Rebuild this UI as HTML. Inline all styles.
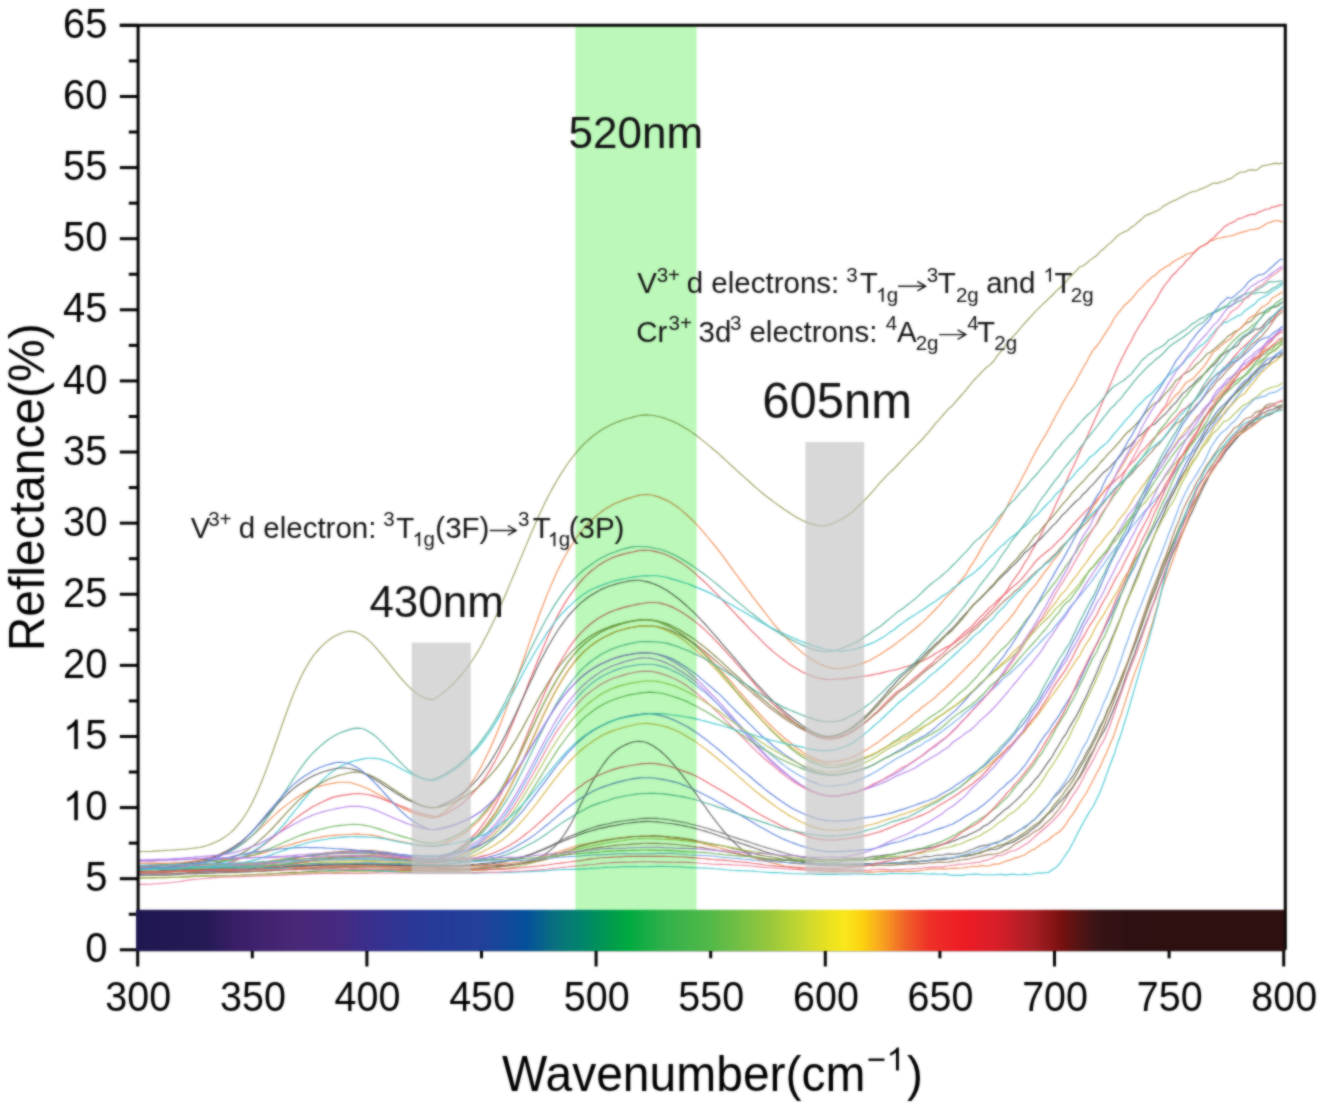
<!DOCTYPE html>
<html><head><meta charset="utf-8"><style>
html,body{margin:0;padding:0;background:#fff;}
svg{display:block;} #wrap{width:1323px;height:1109px;overflow:hidden;will-change:transform;}
</style></head><body><div id="wrap">
<svg width="1323" height="1109" viewBox="0 0 1323 1109">
<defs><filter id="gblur" x="0" y="0" width="100%" height="100%" color-interpolation-filters="sRGB"><feGaussianBlur in="SourceGraphic" stdDeviation="0.8" result="b"/><feComposite in="SourceGraphic" in2="b" operator="arithmetic" k1="0" k2="0.30" k3="0.70" k4="0"/></filter></defs>
<rect width="1323" height="1109" fill="#fff"/>
<g filter="url(#gblur)">
<rect width="1323" height="1109" fill="#fff"/>
<defs><filter id="soft" x="-5%" y="-5%" width="110%" height="110%"><feGaussianBlur stdDeviation="0.3"/></filter></defs>
<g fill="none" stroke-width="1.15" stroke-opacity="0.95" stroke-linejoin="round" filter="url(#soft)">
<polyline stroke="#9a9a58" points="137.7,851.5 141.1,851.5 144.6,851.5 148.0,851.5 151.5,851.4 154.9,851.1 158.3,850.9 161.8,850.8 165.2,850.4 168.6,850.2 172.1,850.1 175.5,849.9 179.0,849.5 182.4,849.2 185.8,849.1 189.3,848.7 192.7,848.3 196.1,847.9 199.6,847.5 203.0,846.6 206.5,845.8 209.9,844.5 213.3,843.1 216.8,841.5 220.2,839.9 223.6,837.8 227.1,835.4 230.5,832.6 234.0,829.5 237.4,825.6 240.8,821.4 244.3,816.5 247.7,811.0 251.2,804.7 254.6,797.8 258.0,790.2 261.5,782.0 264.9,773.4 268.3,764.1 271.8,754.5 275.2,744.8 278.7,734.8 282.1,724.7 285.5,715.2 289.0,705.7 292.4,696.7 295.8,688.4 299.3,680.6 302.7,673.4 306.2,667.2 309.6,661.4 313.0,656.2 316.5,652.0 319.9,648.1 323.4,644.6 326.8,641.6 330.2,639.0 333.7,636.8 337.1,635.0 340.5,633.5 344.0,632.2 347.4,631.5 350.9,631.4 354.3,631.9 357.7,633.0 361.2,634.7 364.6,637.0 368.0,639.7 371.5,642.9 374.9,646.7 378.4,650.7 381.8,654.6 385.2,658.7 388.7,663.1 392.1,667.3 395.5,671.6 399.0,675.8 402.4,679.8 405.9,683.7 409.3,687.2 412.7,690.3 416.2,693.0 419.6,695.4 423.1,697.3 426.5,698.6 429.9,699.5 433.4,699.6 436.8,697.4 440.2,694.9 443.7,692.2 447.1,689.4 450.6,686.3 454.0,683.0 457.4,679.2 460.9,675.5 464.3,671.1 467.7,666.8 471.2,662.0 474.6,656.8 478.1,651.2 481.5,645.2 484.9,638.6 488.4,631.9 491.8,625.0 495.3,617.7 498.7,610.1 502.1,602.6 505.6,594.6 509.0,586.4 512.4,578.1 515.9,569.9 519.3,561.6 522.8,553.2 526.2,545.1 529.6,537.0 533.1,528.9 536.5,521.0 539.9,513.4 543.4,506.0 546.8,499.1 550.3,492.3 553.7,486.1 557.1,480.2 560.6,474.4 564.0,469.2 567.4,464.0 570.9,459.3 574.3,454.8 577.8,450.8 581.2,446.8 584.6,443.4 588.1,440.2 591.5,437.3 595.0,434.4 598.4,432.0 601.8,429.8 605.3,427.7 608.7,426.0 612.1,424.3 615.6,422.8 619.0,421.4 622.5,420.2 625.9,419.0 629.3,418.2 632.8,417.1 636.2,416.3 639.6,415.5 643.1,415.1 646.5,414.9 650.0,415.2 653.4,415.5 656.8,416.2 660.3,417.0 663.7,417.9 667.2,419.2 670.6,420.5 674.0,421.9 677.5,423.6 680.9,425.5 684.3,427.4 687.8,429.4 691.2,431.9 694.7,434.3 698.1,436.8 701.5,439.6 705.0,442.4 708.4,445.1 711.8,448.0 715.3,451.0 718.7,453.8 722.2,457.0 725.6,460.1 729.0,463.3 732.5,466.5 735.9,469.6 739.3,472.8 742.8,475.9 746.2,478.9 749.7,482.0 753.1,485.2 756.5,488.1 760.0,491.1 763.4,494.0 766.9,496.7 770.3,499.3 773.7,501.9 777.2,504.4 780.6,506.8 784.0,509.2 787.5,511.5 790.9,513.8 794.4,516.0 797.8,518.0 801.2,519.7 804.7,521.4 808.1,522.9 811.5,524.1 815.0,524.9 818.4,525.7 821.9,525.8 825.3,525.7 828.7,524.9 832.2,523.8 835.6,522.1 839.1,520.5 842.5,518.7 845.9,516.5 849.4,514.2 852.8,511.6 856.2,508.3 859.7,505.0 863.1,501.9 866.6,498.1 870.0,494.3 873.4,490.7 876.9,486.5 880.3,482.4 883.7,478.9 887.2,475.2 890.6,471.8 894.1,468.7 897.5,465.0 900.9,461.3 904.4,457.7 907.8,454.1 911.2,450.3 914.7,447.1 918.1,443.6 921.6,440.0 925.0,436.2 928.4,432.3 931.9,428.2 935.3,423.6 938.8,420.2 942.2,416.0 945.6,412.2 949.1,408.4 952.5,405.5 955.9,401.4 959.4,397.5 962.8,393.6 966.3,389.7 969.7,385.4 973.1,381.0 976.6,377.3 980.0,374.0 983.4,370.4 986.9,367.0 990.3,364.6 993.8,361.0 997.2,355.9 1000.6,351.8 1004.1,347.6 1007.5,342.9 1011.0,338.5 1014.4,335.1 1017.8,331.4 1021.3,327.2 1024.7,323.1 1028.1,319.5 1031.6,315.6 1035.0,311.9 1038.5,308.7 1041.9,304.9 1045.3,302.0 1048.8,298.3 1052.2,295.5 1055.6,291.7 1059.1,288.5 1062.5,285.5 1066.0,281.9 1069.4,277.3 1072.8,274.3 1076.3,270.7 1079.7,266.8 1083.1,265.8 1086.6,263.3 1090.0,260.1 1093.5,257.6 1096.9,255.4 1100.3,251.4 1103.8,248.8 1107.2,245.4 1110.7,242.6 1114.1,239.4 1117.5,235.8 1121.0,233.4 1124.4,231.8 1127.8,230.5 1131.3,227.2 1134.7,225.2 1138.2,222.0 1141.6,219.2 1145.0,215.8 1148.5,214.4 1151.9,213.0 1155.3,211.6 1158.8,209.9 1162.2,207.1 1165.7,204.9 1169.1,202.9 1172.5,201.3 1176.0,199.9 1179.4,198.0 1182.9,196.3 1186.3,194.6 1189.7,192.8 1193.2,191.5 1196.6,191.0 1200.0,189.2 1203.5,188.1 1206.9,186.5 1210.4,184.5 1213.8,183.0 1217.2,183.4 1220.7,182.0 1224.1,181.2 1227.5,179.2 1231.0,178.6 1234.4,175.9 1237.9,173.5 1241.3,172.0 1244.7,172.0 1248.2,170.2 1251.6,169.6 1255.0,170.5 1258.5,168.9 1261.9,166.0 1265.4,165.4 1268.8,164.7 1272.2,163.9 1275.7,163.1 1279.1,163.9 1282.6,162.9"/>
<polyline stroke="#f08a50" points="137.7,865.7 141.1,865.7 144.6,865.5 148.0,865.2 151.5,864.9 154.9,864.8 158.3,864.4 161.8,864.3 165.2,864.2 168.6,864.1 172.1,863.8 175.5,863.5 179.0,863.0 182.4,862.7 185.8,862.2 189.3,861.7 192.7,861.3 196.1,860.8 199.6,860.1 203.0,859.2 206.5,858.4 209.9,857.6 213.3,856.6 216.8,855.6 220.2,854.4 223.6,852.9 227.1,851.3 230.5,849.7 234.0,848.0 237.4,846.0 240.8,844.2 244.3,842.0 247.7,839.3 251.2,836.4 254.6,833.6 258.0,830.6 261.5,827.4 264.9,824.3 268.3,821.1 271.8,817.7 275.2,814.4 278.7,811.3 282.1,808.4 285.5,805.6 289.0,803.1 292.4,800.6 295.8,798.2 299.3,796.0 302.7,793.9 306.2,791.9 309.6,790.1 313.0,788.7 316.5,787.2 319.9,786.1 323.4,785.2 326.8,784.4 330.2,783.7 333.7,783.1 337.1,782.5 340.5,782.2 344.0,782.2 347.4,782.3 350.9,782.8 354.3,783.8 357.7,784.8 361.2,786.0 364.6,787.5 368.0,788.8 371.5,790.5 374.9,792.4 378.4,794.5 381.8,796.3 385.2,798.4 388.7,800.6 392.1,802.4 395.5,804.3 399.0,806.2 402.4,808.1 405.9,809.6 409.3,811.4 412.7,812.7 416.2,814.1 419.6,815.0 423.1,816.0 426.5,816.5 429.9,817.4 433.4,817.6 436.8,817.1 440.2,815.0 443.7,812.6 447.1,809.8 450.6,807.0 454.0,804.0 457.4,800.5 460.9,796.8 464.3,792.7 467.7,788.2 471.2,783.2 474.6,778.0 478.1,772.3 481.5,766.1 484.9,759.3 488.4,752.3 491.8,744.7 495.3,736.7 498.7,728.5 502.1,719.8 505.6,710.6 509.0,701.1 512.4,691.5 515.9,681.6 519.3,671.8 522.8,661.8 526.2,651.9 529.6,641.9 533.1,632.1 536.5,622.5 539.9,613.2 543.4,604.2 546.8,595.4 550.3,587.1 553.7,579.2 557.1,571.6 560.6,564.7 564.0,558.0 567.4,552.0 570.9,546.3 574.3,541.0 577.8,535.8 581.2,531.5 584.6,527.3 588.1,523.5 591.5,520.1 595.0,517.0 598.4,514.1 601.8,511.5 605.3,509.0 608.7,506.9 612.1,505.0 615.6,503.3 619.0,501.8 622.5,500.6 625.9,499.1 629.3,498.1 632.8,497.0 636.2,496.0 639.6,495.1 643.1,494.8 646.5,494.5 650.0,494.8 653.4,495.5 656.8,496.4 660.3,497.6 663.7,499.1 667.2,500.6 670.6,502.5 674.0,504.7 677.5,507.0 680.9,509.6 684.3,512.8 687.8,515.8 691.2,519.0 694.7,522.4 698.1,526.2 701.5,529.8 705.0,533.9 708.4,538.0 711.8,542.1 715.3,546.3 718.7,550.7 722.2,555.2 725.6,559.8 729.0,564.6 732.5,569.3 735.9,574.0 739.3,578.7 742.8,583.3 746.2,588.0 749.7,592.7 753.1,597.3 756.5,601.7 760.0,606.1 763.4,610.7 766.9,615.0 770.3,619.5 773.7,623.9 777.2,627.9 780.6,631.8 784.0,635.5 787.5,639.0 790.9,642.4 794.4,645.6 797.8,648.6 801.2,651.7 804.7,654.4 808.1,657.0 811.5,659.3 815.0,661.4 818.4,663.3 821.9,664.9 825.3,666.3 828.7,667.4 832.2,668.1 835.6,668.6 839.1,668.7 842.5,668.2 845.9,667.7 849.4,667.1 852.8,666.1 856.2,665.3 859.7,664.3 863.1,663.1 866.6,661.6 870.0,660.2 873.4,658.3 876.9,656.3 880.3,654.2 883.7,652.1 887.2,649.5 890.6,647.5 894.1,645.0 897.5,642.4 900.9,639.7 904.4,637.1 907.8,634.4 911.2,631.8 914.7,629.0 918.1,626.0 921.6,623.1 925.0,620.1 928.4,616.7 931.9,613.1 935.3,609.5 938.8,605.8 942.2,602.0 945.6,597.9 949.1,594.2 952.5,591.0 955.9,586.7 959.4,582.2 962.8,578.2 966.3,573.7 969.7,567.6 973.1,562.8 976.6,557.1 980.0,550.9 983.4,544.7 986.9,539.6 990.3,533.9 993.8,528.6 997.2,523.6 1000.6,518.1 1004.1,511.9 1007.5,505.6 1011.0,498.5 1014.4,492.3 1017.8,486.1 1021.3,479.6 1024.7,472.9 1028.1,466.4 1031.6,459.4 1035.0,453.0 1038.5,446.6 1041.9,440.8 1045.3,435.4 1048.8,428.9 1052.2,422.4 1055.6,416.0 1059.1,410.0 1062.5,403.1 1066.0,397.5 1069.4,391.7 1072.8,386.9 1076.3,380.4 1079.7,373.9 1083.1,367.7 1086.6,362.0 1090.0,355.4 1093.5,349.5 1096.9,346.0 1100.3,341.2 1103.8,335.6 1107.2,330.4 1110.7,325.2 1114.1,318.5 1117.5,313.8 1121.0,309.6 1124.4,305.3 1127.8,302.5 1131.3,299.2 1134.7,295.1 1138.2,290.5 1141.6,287.6 1145.0,283.9 1148.5,280.5 1151.9,277.1 1155.3,275.3 1158.8,271.4 1162.2,269.2 1165.7,266.8 1169.1,265.2 1172.5,262.3 1176.0,260.2 1179.4,258.3 1182.9,256.7 1186.3,254.3 1189.7,253.3 1193.2,253.2 1196.6,249.7 1200.0,247.1 1203.5,245.4 1206.9,243.8 1210.4,240.6 1213.8,240.1 1217.2,238.3 1220.7,238.0 1224.1,237.1 1227.5,236.5 1231.0,235.8 1234.4,235.1 1237.9,233.2 1241.3,232.4 1244.7,231.6 1248.2,230.5 1251.6,229.5 1255.0,229.4 1258.5,228.4 1261.9,226.8 1265.4,224.2 1268.8,222.7 1272.2,221.6 1275.7,220.5 1279.1,220.9 1282.6,222.1"/>
<polyline stroke="#e8606a" points="137.7,872.1 141.1,872.1 144.6,872.0 148.0,872.1 151.5,872.1 154.9,872.0 158.3,871.8 161.8,871.8 165.2,871.5 168.6,871.2 172.1,870.8 175.5,870.6 179.0,870.2 182.4,870.0 185.8,869.7 189.3,869.6 192.7,869.1 196.1,868.8 199.6,868.4 203.0,867.9 206.5,867.4 209.9,867.0 213.3,866.6 216.8,866.0 220.2,865.3 223.6,864.3 227.1,863.4 230.5,862.3 234.0,861.1 237.4,859.6 240.8,858.5 244.3,857.0 247.7,855.2 251.2,853.4 254.6,851.4 258.0,849.2 261.5,846.6 264.9,844.0 268.3,841.3 271.8,838.5 275.2,835.7 278.7,832.9 282.1,830.0 285.5,827.0 289.0,824.1 292.4,821.0 295.8,818.4 299.3,815.7 302.7,813.2 306.2,810.9 309.6,808.7 313.0,806.5 316.5,804.9 319.9,803.0 323.4,801.4 326.8,799.9 330.2,798.4 333.7,797.1 337.1,796.4 340.5,795.6 344.0,795.1 347.4,794.6 350.9,794.1 354.3,793.8 357.7,793.6 361.2,793.8 364.6,794.2 368.0,794.8 371.5,795.4 374.9,796.4 378.4,797.4 381.8,798.7 385.2,800.1 388.7,801.4 392.1,802.7 395.5,803.9 399.0,805.2 402.4,806.5 405.9,807.9 409.3,809.3 412.7,810.7 416.2,812.0 419.6,813.1 423.1,814.0 426.5,814.9 429.9,815.5 433.4,816.0 436.8,816.3 440.2,816.2 443.7,814.7 447.1,813.1 450.6,811.1 454.0,809.0 457.4,807.0 460.9,804.5 464.3,801.6 467.7,798.5 471.2,795.2 474.6,791.2 478.1,787.1 481.5,782.6 484.9,777.8 488.4,772.4 491.8,766.9 495.3,760.7 498.7,754.2 502.1,747.1 505.6,739.8 509.0,731.8 512.4,723.8 515.9,715.4 519.3,707.0 522.8,698.4 526.2,689.7 529.6,680.8 533.1,672.3 536.5,663.7 539.9,655.3 543.4,647.2 546.8,639.1 550.3,631.3 553.7,623.9 557.1,616.9 560.6,610.5 564.0,604.6 567.4,599.1 570.9,594.2 574.3,589.3 577.8,584.9 581.2,581.0 584.6,577.2 588.1,573.8 591.5,570.8 595.0,568.1 598.4,565.4 601.8,563.3 605.3,561.2 608.7,559.5 612.1,557.9 615.6,556.5 619.0,555.4 622.5,554.4 625.9,553.5 629.3,552.6 632.8,552.0 636.2,551.1 639.6,550.5 643.1,550.2 646.5,550.4 650.0,550.5 653.4,551.1 656.8,551.9 660.3,552.8 663.7,553.8 667.2,555.2 670.6,556.8 674.0,558.6 677.5,560.5 680.9,562.4 684.3,564.9 687.8,567.4 691.2,570.1 694.7,572.9 698.1,576.2 701.5,579.2 705.0,582.3 708.4,585.6 711.8,589.2 715.3,592.6 718.7,596.2 722.2,599.9 725.6,603.5 729.0,607.1 732.5,610.7 735.9,614.4 739.3,618.0 742.8,621.5 746.2,625.2 749.7,628.8 753.1,632.3 756.5,635.7 760.0,639.2 763.4,642.7 766.9,646.1 770.3,649.0 773.7,652.1 777.2,654.9 780.6,657.6 784.0,660.2 787.5,662.9 790.9,665.3 794.4,667.4 797.8,669.3 801.2,671.4 804.7,673.0 808.1,674.5 811.5,676.0 815.0,677.2 818.4,678.2 821.9,678.9 825.3,679.4 828.7,679.8 832.2,679.6 835.6,679.3 839.1,679.0 842.5,678.9 845.9,678.6 849.4,678.1 852.8,677.7 856.2,677.4 859.7,676.7 863.1,676.0 866.6,675.9 870.0,675.4 873.4,674.6 876.9,673.8 880.3,673.4 883.7,672.4 887.2,671.5 890.6,670.7 894.1,670.0 897.5,669.2 900.9,668.3 904.4,667.0 907.8,666.2 911.2,665.1 914.7,663.5 918.1,662.4 921.6,661.2 925.0,659.8 928.4,658.0 931.9,656.0 935.3,653.5 938.8,651.7 942.2,649.4 945.6,647.6 949.1,646.1 952.5,644.0 955.9,641.9 959.4,639.3 962.8,636.8 966.3,633.7 969.7,631.2 973.1,628.0 976.6,625.0 980.0,621.4 983.4,618.4 986.9,614.6 990.3,610.8 993.8,607.6 997.2,603.4 1000.6,598.8 1004.1,594.5 1007.5,589.5 1011.0,583.5 1014.4,578.9 1017.8,574.2 1021.3,568.9 1024.7,562.8 1028.1,558.0 1031.6,551.3 1035.0,545.1 1038.5,539.2 1041.9,532.7 1045.3,525.5 1048.8,519.8 1052.2,512.7 1055.6,504.7 1059.1,497.6 1062.5,490.4 1066.0,482.2 1069.4,474.2 1072.8,467.4 1076.3,460.2 1079.7,452.3 1083.1,445.1 1086.6,438.0 1090.0,429.9 1093.5,422.4 1096.9,415.0 1100.3,407.4 1103.8,399.0 1107.2,391.5 1110.7,383.6 1114.1,375.4 1117.5,367.6 1121.0,359.9 1124.4,353.6 1127.8,346.8 1131.3,341.0 1134.7,333.8 1138.2,327.8 1141.6,322.3 1145.0,317.4 1148.5,311.0 1151.9,306.0 1155.3,301.2 1158.8,294.8 1162.2,288.9 1165.7,284.0 1169.1,279.9 1172.5,275.2 1176.0,272.3 1179.4,268.0 1182.9,265.1 1186.3,260.7 1189.7,257.9 1193.2,253.5 1196.6,250.4 1200.0,247.2 1203.5,245.4 1206.9,243.5 1210.4,240.2 1213.8,237.6 1217.2,233.8 1220.7,230.9 1224.1,226.9 1227.5,224.7 1231.0,223.1 1234.4,221.6 1237.9,218.9 1241.3,218.2 1244.7,216.8 1248.2,215.4 1251.6,214.3 1255.0,214.4 1258.5,212.1 1261.9,211.0 1265.4,209.4 1268.8,209.0 1272.2,207.1 1275.7,206.6 1279.1,205.4 1282.6,204.9"/>
<polyline stroke="#4fae9c" points="137.7,865.5 141.1,865.3 144.6,865.1 148.0,865.1 151.5,865.1 154.9,865.0 158.3,864.9 161.8,864.8 165.2,864.6 168.6,864.4 172.1,864.2 175.5,864.1 179.0,863.7 182.4,863.4 185.8,862.9 189.3,862.4 192.7,861.8 196.1,861.4 199.6,860.9 203.0,860.3 206.5,859.8 209.9,859.1 213.3,858.0 216.8,857.0 220.2,855.7 223.6,854.5 227.1,852.9 230.5,851.5 234.0,849.6 237.4,847.6 240.8,845.0 244.3,842.5 247.7,839.6 251.2,836.5 254.6,833.1 258.0,829.5 261.5,825.4 264.9,821.1 268.3,816.2 271.8,811.6 275.2,806.6 278.7,801.4 282.1,796.1 285.5,791.0 289.0,785.5 292.4,780.4 295.8,775.3 299.3,770.2 302.7,765.3 306.2,760.9 309.6,756.7 313.0,752.9 316.5,749.5 319.9,746.4 323.4,743.5 326.8,740.7 330.2,738.2 333.7,736.2 337.1,734.3 340.5,732.7 344.0,731.4 347.4,730.4 350.9,729.1 354.3,728.4 357.7,728.1 361.2,728.5 364.6,729.3 368.0,731.2 371.5,733.2 374.9,735.7 378.4,738.9 381.8,742.4 385.2,745.8 388.7,749.6 392.1,753.3 395.5,757.2 399.0,760.9 402.4,764.4 405.9,767.6 409.3,770.8 412.7,773.2 416.2,775.5 419.6,777.2 423.1,778.8 426.5,779.7 429.9,780.2 433.4,779.4 436.8,778.0 440.2,776.4 443.7,774.7 447.1,772.7 450.6,770.6 454.0,768.4 457.4,765.7 460.9,762.7 464.3,759.9 467.7,756.7 471.2,752.8 474.6,749.1 478.1,745.1 481.5,740.6 484.9,735.9 488.4,731.0 491.8,725.7 495.3,720.0 498.7,714.0 502.1,707.7 505.6,701.2 509.0,694.5 512.4,687.7 515.9,680.6 519.3,673.3 522.8,666.0 526.2,658.8 529.6,651.5 533.1,644.5 536.5,637.6 539.9,631.0 543.4,624.4 546.8,618.3 550.3,612.2 553.7,606.4 557.1,601.1 560.6,596.1 564.0,591.3 567.4,586.9 570.9,582.8 574.3,578.8 577.8,575.3 581.2,572.2 584.6,569.3 588.1,566.7 591.5,564.3 595.0,561.9 598.4,559.6 601.8,557.8 605.3,556.0 608.7,554.3 612.1,553.0 615.6,551.8 619.0,550.5 622.5,549.2 625.9,548.4 629.3,547.6 632.8,546.9 636.2,546.5 639.6,546.5 643.1,546.7 646.5,546.8 650.0,547.3 653.4,548.0 656.8,548.7 660.3,549.3 663.7,550.5 667.2,551.7 670.6,553.2 674.0,554.7 677.5,556.6 680.9,558.4 684.3,560.5 687.8,562.7 691.2,565.0 694.7,567.4 698.1,569.8 701.5,572.3 705.0,574.8 708.4,577.4 711.8,580.1 715.3,582.9 718.7,585.7 722.2,588.6 725.6,591.6 729.0,594.4 732.5,597.4 735.9,600.3 739.3,603.1 742.8,605.9 746.2,608.9 749.7,611.6 753.1,614.3 756.5,617.0 760.0,619.8 763.4,622.4 766.9,625.0 770.3,627.5 773.7,629.8 777.2,631.8 780.6,633.9 784.0,635.9 787.5,637.7 790.9,639.5 794.4,641.3 797.8,643.0 801.2,644.6 804.7,646.1 808.1,647.5 811.5,648.8 815.0,649.9 818.4,650.6 821.9,651.1 825.3,651.5 828.7,651.3 832.2,650.9 835.6,650.2 839.1,649.2 842.5,648.0 845.9,646.7 849.4,645.4 852.8,643.8 856.2,642.2 859.7,640.2 863.1,637.8 866.6,635.4 870.0,633.2 873.4,630.8 876.9,628.5 880.3,626.4 883.7,623.5 887.2,620.5 890.6,617.9 894.1,614.9 897.5,611.9 900.9,609.7 904.4,607.4 907.8,604.5 911.2,601.9 914.7,599.3 918.1,596.1 921.6,592.8 925.0,589.5 928.4,586.3 931.9,583.3 935.3,580.9 938.8,578.1 942.2,575.2 945.6,572.4 949.1,569.1 952.5,565.5 955.9,562.3 959.4,558.6 962.8,554.9 966.3,551.6 969.7,547.6 973.1,543.4 976.6,540.1 980.0,537.5 983.4,534.1 986.9,530.9 990.3,527.8 993.8,524.1 997.2,519.0 1000.6,515.1 1004.1,511.5 1007.5,506.5 1011.0,502.9 1014.4,499.9 1017.8,495.7 1021.3,491.1 1024.7,488.2 1028.1,483.8 1031.6,479.5 1035.0,476.0 1038.5,472.1 1041.9,467.5 1045.3,464.2 1048.8,459.9 1052.2,455.6 1055.6,450.4 1059.1,447.2 1062.5,442.3 1066.0,438.6 1069.4,434.7 1072.8,431.8 1076.3,427.2 1079.7,423.5 1083.1,419.5 1086.6,416.0 1090.0,412.9 1093.5,409.4 1096.9,406.1 1100.3,401.9 1103.8,397.9 1107.2,393.5 1110.7,389.5 1114.1,386.2 1117.5,384.4 1121.0,381.9 1124.4,380.0 1127.8,376.7 1131.3,374.1 1134.7,369.4 1138.2,365.3 1141.6,360.5 1145.0,357.8 1148.5,354.4 1151.9,352.4 1155.3,349.8 1158.8,348.0 1162.2,346.2 1165.7,343.5 1169.1,339.7 1172.5,338.3 1176.0,335.7 1179.4,333.5 1182.9,331.0 1186.3,329.1 1189.7,325.8 1193.2,323.2 1196.6,321.4 1200.0,318.7 1203.5,317.6 1206.9,315.1 1210.4,313.5 1213.8,312.2 1217.2,311.6 1220.7,309.2 1224.1,306.8 1227.5,305.0 1231.0,301.2 1234.4,300.0 1237.9,297.5 1241.3,295.8 1244.7,294.4 1248.2,293.3 1251.6,292.0 1255.0,291.0 1258.5,288.9 1261.9,287.1 1265.4,284.6 1268.8,281.7 1272.2,281.9 1275.7,281.7 1279.1,281.1 1282.6,281.0"/>
<polyline stroke="#3ec4d0" points="137.7,868.7 141.1,868.6 144.6,868.5 148.0,868.3 151.5,868.3 154.9,868.3 158.3,868.2 161.8,868.2 165.2,868.1 168.6,868.0 172.1,867.7 175.5,867.6 179.0,867.5 182.4,867.2 185.8,866.8 189.3,866.5 192.7,865.9 196.1,865.6 199.6,865.1 203.0,864.7 206.5,864.4 209.9,864.2 213.3,863.5 216.8,862.9 220.2,862.6 223.6,862.0 227.1,861.3 230.5,860.6 234.0,859.7 237.4,858.6 240.8,857.2 244.3,855.8 247.7,854.3 251.2,852.4 254.6,850.3 258.0,848.3 261.5,846.0 264.9,843.2 268.3,840.4 271.8,837.5 275.2,833.9 278.7,830.2 282.1,826.3 285.5,822.5 289.0,817.9 292.4,813.8 295.8,809.5 299.3,805.3 302.7,800.8 306.2,796.9 309.6,792.9 313.0,789.1 316.5,785.6 319.9,782.6 323.4,779.2 326.8,776.1 330.2,773.3 333.7,770.9 337.1,768.4 340.5,766.5 344.0,764.7 347.4,763.3 350.9,761.9 354.3,760.8 357.7,760.1 361.2,759.4 364.6,758.6 368.0,758.2 371.5,758.2 374.9,758.4 378.4,758.8 381.8,759.6 385.2,760.8 388.7,762.1 392.1,763.7 395.5,765.6 399.0,767.5 402.4,769.4 405.9,771.3 409.3,773.1 412.7,774.7 416.2,776.1 419.6,777.3 423.1,778.4 426.5,779.2 429.9,779.8 433.4,780.4 436.8,779.7 440.2,778.0 443.7,776.2 447.1,774.2 450.6,772.0 454.0,769.8 457.4,767.5 460.9,764.8 464.3,761.7 467.7,758.5 471.2,755.1 474.6,751.4 478.1,747.5 481.5,743.3 484.9,738.9 488.4,734.0 491.8,728.9 495.3,723.3 498.7,717.6 502.1,711.8 505.6,705.9 509.0,699.7 512.4,693.4 515.9,687.0 519.3,680.4 522.8,674.0 526.2,667.5 529.6,661.5 533.1,655.5 536.5,649.8 539.9,644.3 543.4,638.7 546.8,633.2 550.3,628.5 553.7,623.7 557.1,619.1 560.6,615.2 564.0,611.6 567.4,608.0 570.9,604.7 574.3,601.6 577.8,598.8 581.2,596.1 584.6,593.5 588.1,591.5 591.5,589.5 595.0,588.0 598.4,586.6 601.8,585.2 605.3,583.9 608.7,582.7 612.1,581.5 615.6,580.6 619.0,579.9 622.5,579.1 625.9,578.5 629.3,577.8 632.8,577.1 636.2,576.6 639.6,576.2 643.1,575.9 646.5,575.8 650.0,575.8 653.4,575.7 656.8,575.8 660.3,576.2 663.7,576.7 667.2,577.5 670.6,578.6 674.0,579.6 677.5,580.6 680.9,581.6 684.3,582.7 687.8,583.8 691.2,585.1 694.7,586.6 698.1,587.9 701.5,589.4 705.0,590.9 708.4,592.4 711.8,593.9 715.3,595.9 718.7,597.7 722.2,599.5 725.6,601.5 729.0,603.5 732.5,605.3 735.9,607.3 739.3,609.4 742.8,611.2 746.2,613.3 749.7,615.4 753.1,617.5 756.5,619.6 760.0,621.7 763.4,623.5 766.9,625.4 770.3,627.2 773.7,629.0 777.2,630.6 780.6,632.2 784.0,633.8 787.5,635.5 790.9,636.9 794.4,638.5 797.8,639.9 801.2,641.5 804.7,642.6 808.1,643.6 811.5,645.1 815.0,646.2 818.4,647.1 821.9,648.2 825.3,649.2 828.7,649.8 832.2,650.5 835.6,650.8 839.1,651.0 842.5,651.1 845.9,650.7 849.4,650.3 852.8,649.6 856.2,648.8 859.7,647.6 863.1,646.7 866.6,645.1 870.0,643.9 873.4,642.5 876.9,640.8 880.3,638.8 883.7,636.9 887.2,634.4 890.6,631.8 894.1,629.7 897.5,626.8 900.9,624.3 904.4,621.9 907.8,619.2 911.2,616.9 914.7,615.1 918.1,612.6 921.6,610.5 925.0,608.3 928.4,605.7 931.9,603.4 935.3,601.4 938.8,598.7 942.2,596.2 945.6,594.0 949.1,591.6 952.5,588.6 955.9,586.3 959.4,583.7 962.8,580.8 966.3,577.9 969.7,575.8 973.1,573.6 976.6,570.5 980.0,567.5 983.4,564.4 986.9,560.4 990.3,556.7 993.8,553.9 997.2,549.9 1000.6,546.6 1004.1,544.0 1007.5,540.7 1011.0,537.3 1014.4,535.2 1017.8,532.1 1021.3,528.7 1024.7,526.5 1028.1,523.3 1031.6,519.7 1035.0,516.5 1038.5,513.7 1041.9,509.5 1045.3,506.0 1048.8,502.3 1052.2,499.1 1055.6,494.5 1059.1,491.3 1062.5,487.8 1066.0,483.6 1069.4,479.8 1072.8,476.7 1076.3,472.0 1079.7,468.4 1083.1,465.5 1086.6,461.4 1090.0,456.9 1093.5,454.9 1096.9,451.5 1100.3,448.2 1103.8,445.2 1107.2,442.6 1110.7,438.2 1114.1,433.9 1117.5,430.2 1121.0,425.9 1124.4,421.6 1127.8,417.9 1131.3,414.4 1134.7,409.4 1138.2,405.7 1141.6,402.7 1145.0,398.8 1148.5,395.8 1151.9,393.2 1155.3,389.4 1158.8,386.0 1162.2,382.7 1165.7,378.0 1169.1,375.1 1172.5,372.2 1176.0,369.0 1179.4,366.1 1182.9,363.9 1186.3,358.9 1189.7,356.1 1193.2,352.6 1196.6,349.3 1200.0,346.0 1203.5,343.9 1206.9,340.5 1210.4,335.8 1213.8,332.3 1217.2,328.2 1220.7,325.6 1224.1,322.4 1227.5,322.1 1231.0,319.6 1234.4,317.9 1237.9,315.6 1241.3,315.0 1244.7,310.7 1248.2,308.4 1251.6,306.1 1255.0,303.7 1258.5,299.8 1261.9,297.7 1265.4,296.1 1268.8,294.1 1272.2,291.4 1275.7,288.9 1279.1,287.1 1282.6,283.9"/>
<polyline stroke="#5f5f5f" points="137.7,867.1 141.1,867.1 144.6,866.9 148.0,866.8 151.5,866.5 154.9,866.2 158.3,866.0 161.8,865.8 165.2,865.5 168.6,865.5 172.1,865.3 175.5,864.9 179.0,864.6 182.4,864.1 185.8,863.4 189.3,862.9 192.7,862.2 196.1,861.7 199.6,860.9 203.0,860.1 206.5,859.1 209.9,858.3 213.3,857.1 216.8,855.8 220.2,854.3 223.6,852.6 227.1,850.8 230.5,848.8 234.0,846.7 237.4,844.3 240.8,841.9 244.3,838.9 247.7,835.9 251.2,832.6 254.6,829.2 258.0,825.4 261.5,821.8 264.9,817.9 268.3,814.0 271.8,810.1 275.2,806.3 278.7,802.6 282.1,799.0 285.5,795.6 289.0,792.5 292.4,789.6 295.8,786.8 299.3,784.2 302.7,782.0 306.2,779.8 309.6,777.7 313.0,775.9 316.5,774.5 319.9,773.0 323.4,771.8 326.8,770.8 330.2,769.9 333.7,769.0 337.1,768.3 340.5,768.0 344.0,767.9 347.4,768.3 350.9,768.7 354.3,769.6 357.7,770.6 361.2,772.2 364.6,773.6 368.0,775.3 371.5,777.3 374.9,779.4 378.4,781.5 381.8,783.8 385.2,786.2 388.7,788.2 392.1,790.5 395.5,792.9 399.0,794.8 402.4,796.9 405.9,798.9 409.3,800.5 412.7,802.1 416.2,803.6 419.6,805.0 423.1,806.2 426.5,807.0 429.9,807.5 433.4,807.6 436.8,807.2 440.2,805.8 443.7,804.4 447.1,802.7 450.6,801.1 454.0,799.2 457.4,797.0 460.9,794.5 464.3,792.0 467.7,789.2 471.2,785.8 474.6,782.2 478.1,778.6 481.5,774.3 484.9,769.8 488.4,764.9 491.8,759.6 495.3,753.7 498.7,747.7 502.1,741.4 505.6,734.8 509.0,727.8 512.4,720.7 515.9,713.4 519.3,705.9 522.8,698.5 526.2,690.9 529.6,683.6 533.1,676.5 536.5,669.1 539.9,662.1 543.4,655.4 546.8,648.9 550.3,642.7 553.7,637.0 557.1,631.5 560.6,626.3 564.0,621.6 567.4,617.0 570.9,613.0 574.3,609.3 577.8,605.9 581.2,602.6 584.6,600.0 588.1,597.2 591.5,594.9 595.0,592.9 598.4,591.0 601.8,589.1 605.3,587.8 608.7,586.3 612.1,585.2 615.6,584.1 619.0,583.3 622.5,582.5 625.9,581.7 629.3,580.9 632.8,580.6 636.2,580.2 639.6,580.3 643.1,581.0 646.5,581.6 650.0,582.6 653.4,583.8 656.8,585.1 660.3,586.7 663.7,588.7 667.2,590.6 670.6,592.9 674.0,595.5 677.5,598.0 680.9,600.8 684.3,603.8 687.8,606.9 691.2,610.1 694.7,613.4 698.1,616.8 701.5,620.3 705.0,624.0 708.4,627.8 711.8,631.8 715.3,635.7 718.7,639.7 722.2,643.8 725.6,647.8 729.0,651.7 732.5,655.6 735.9,659.6 739.3,663.7 742.8,667.9 746.2,671.9 749.7,676.0 753.1,680.0 756.5,683.8 760.0,687.4 763.4,691.2 766.9,694.8 770.3,698.3 773.7,701.7 777.2,705.1 780.6,708.3 784.0,711.3 787.5,714.2 790.9,716.8 794.4,719.5 797.8,722.0 801.2,724.6 804.7,727.0 808.1,729.1 811.5,731.2 815.0,733.1 818.4,734.5 821.9,735.6 825.3,736.3 828.7,736.5 832.2,736.1 835.6,735.4 839.1,734.2 842.5,732.9 845.9,731.0 849.4,729.2 852.8,726.6 856.2,724.0 859.7,721.3 863.1,718.5 866.6,715.1 870.0,712.0 873.4,708.2 876.9,704.1 880.3,700.3 883.7,696.6 887.2,692.0 890.6,688.2 894.1,684.3 897.5,680.4 900.9,676.9 904.4,673.7 907.8,670.6 911.2,667.5 914.7,664.6 918.1,661.1 921.6,657.8 925.0,654.3 928.4,651.0 931.9,647.7 935.3,644.3 938.8,641.4 942.2,638.2 945.6,634.8 949.1,631.5 952.5,628.2 955.9,624.7 959.4,620.5 962.8,616.7 966.3,612.9 969.7,609.4 973.1,605.0 976.6,602.1 980.0,599.0 983.4,595.5 986.9,591.9 990.3,588.7 993.8,585.2 997.2,580.9 1000.6,577.8 1004.1,574.1 1007.5,571.5 1011.0,567.2 1014.4,564.6 1017.8,560.8 1021.3,557.1 1024.7,552.7 1028.1,550.3 1031.6,546.7 1035.0,543.7 1038.5,540.5 1041.9,537.5 1045.3,533.6 1048.8,530.2 1052.2,526.2 1055.6,523.1 1059.1,519.2 1062.5,514.8 1066.0,511.9 1069.4,508.2 1072.8,504.5 1076.3,501.0 1079.7,498.6 1083.1,494.2 1086.6,491.2 1090.0,487.1 1093.5,483.8 1096.9,479.8 1100.3,476.1 1103.8,472.2 1107.2,469.8 1110.7,466.1 1114.1,462.4 1117.5,459.2 1121.0,455.0 1124.4,450.0 1127.8,447.5 1131.3,444.7 1134.7,440.3 1138.2,436.6 1141.6,434.3 1145.0,430.9 1148.5,427.4 1151.9,425.3 1155.3,423.7 1158.8,419.9 1162.2,416.6 1165.7,413.7 1169.1,409.5 1172.5,405.6 1176.0,402.4 1179.4,397.9 1182.9,393.4 1186.3,390.9 1189.7,387.2 1193.2,384.4 1196.6,380.5 1200.0,377.4 1203.5,374.7 1206.9,371.6 1210.4,367.4 1213.8,365.1 1217.2,361.1 1220.7,356.3 1224.1,353.6 1227.5,351.0 1231.0,349.2 1234.4,347.3 1237.9,345.2 1241.3,339.8 1244.7,336.7 1248.2,334.3 1251.6,332.0 1255.0,329.1 1258.5,329.2 1261.9,327.1 1265.4,322.9 1268.8,319.3 1272.2,316.7 1275.7,313.6 1279.1,310.1 1282.6,307.0"/>
<polyline stroke="#e8606a" points="137.7,871.6 141.1,871.7 144.6,871.7 148.0,871.7 151.5,871.7 154.9,871.6 158.3,871.3 161.8,871.1 165.2,871.0 168.6,870.8 172.1,870.6 175.5,870.4 179.0,870.2 182.4,870.2 185.8,870.0 189.3,869.9 192.7,869.6 196.1,869.5 199.6,869.1 203.0,868.9 206.5,868.8 209.9,868.9 213.3,868.7 216.8,868.8 220.2,868.6 223.6,868.3 227.1,868.3 230.5,868.2 234.0,867.9 237.4,867.8 240.8,867.9 244.3,867.4 247.7,866.9 251.2,866.7 254.6,866.0 258.0,865.4 261.5,865.0 264.9,864.5 268.3,864.0 271.8,863.7 275.2,863.0 278.7,862.3 282.1,861.7 285.5,860.8 289.0,860.0 292.4,859.2 295.8,858.4 299.3,857.7 302.7,857.0 306.2,856.5 309.6,855.8 313.0,855.4 316.5,854.9 319.9,854.7 323.4,854.3 326.8,854.0 330.2,853.4 333.7,853.1 337.1,852.7 340.5,852.5 344.0,852.4 347.4,852.4 350.9,852.1 354.3,852.1 357.7,852.0 361.2,851.9 364.6,851.9 368.0,852.2 371.5,852.4 374.9,852.6 378.4,853.1 381.8,853.4 385.2,853.8 388.7,854.3 392.1,855.1 395.5,855.5 399.0,856.1 402.4,856.8 405.9,857.4 409.3,857.8 412.7,858.4 416.2,858.8 419.6,859.1 423.1,859.4 426.5,859.9 429.9,859.9 433.4,860.2 436.8,860.0 440.2,858.8 443.7,857.3 447.1,855.7 450.6,853.9 454.0,851.8 457.4,849.6 460.9,847.0 464.3,844.4 467.7,841.3 471.2,838.0 474.6,834.5 478.1,830.6 481.5,826.3 484.9,821.7 488.4,816.5 491.8,811.1 495.3,805.0 498.7,798.6 502.1,791.8 505.6,784.9 509.0,777.4 512.4,769.7 515.9,761.7 519.3,753.5 522.8,745.0 526.2,736.6 529.6,728.2 533.1,720.0 536.5,711.7 539.9,703.7 543.4,695.8 546.8,688.2 550.3,680.7 553.7,674.1 557.1,667.5 560.6,661.5 564.0,655.7 567.4,650.3 570.9,645.1 574.3,640.6 577.8,636.3 581.2,632.6 584.6,629.3 588.1,626.0 591.5,623.2 595.0,620.5 598.4,618.3 601.8,616.2 605.3,614.4 608.7,612.6 612.1,611.3 615.6,610.0 619.0,608.9 622.5,607.9 625.9,606.9 629.3,606.1 632.8,605.3 636.2,604.6 639.6,603.9 643.1,603.5 646.5,602.8 650.0,602.5 653.4,602.5 656.8,602.7 660.3,603.1 663.7,604.1 667.2,605.0 670.6,606.4 674.0,607.9 677.5,609.8 680.9,611.7 684.3,613.9 687.8,616.3 691.2,618.7 694.7,621.4 698.1,623.9 701.5,626.8 705.0,629.9 708.4,633.3 711.8,636.6 715.3,640.3 718.7,643.9 722.2,647.6 725.6,651.3 729.0,655.1 732.5,658.9 735.9,662.8 739.3,666.7 742.8,670.5 746.2,674.2 749.7,678.2 753.1,682.1 756.5,686.1 760.0,690.2 763.4,693.9 766.9,697.5 770.3,701.0 773.7,704.3 777.2,707.5 780.6,710.7 784.0,713.8 787.5,716.7 790.9,719.5 794.4,722.1 797.8,725.0 801.2,727.6 804.7,730.0 808.1,732.3 811.5,734.3 815.0,735.8 818.4,737.2 821.9,738.1 825.3,738.7 828.7,739.2 832.2,739.3 835.6,738.8 839.1,738.0 842.5,736.6 845.9,735.3 849.4,733.5 852.8,731.5 856.2,729.3 859.7,727.1 863.1,724.0 866.6,721.2 870.0,718.2 873.4,714.8 876.9,711.9 880.3,708.4 883.7,704.6 887.2,701.1 890.6,697.7 894.1,694.3 897.5,691.5 900.9,689.1 904.4,686.6 907.8,683.8 911.2,680.7 914.7,677.8 918.1,675.2 921.6,672.1 925.0,669.3 928.4,666.3 931.9,663.5 935.3,659.5 938.8,656.7 942.2,653.9 945.6,650.9 949.1,647.2 952.5,644.0 955.9,640.4 959.4,637.2 962.8,633.8 966.3,630.7 969.7,628.4 973.1,624.8 976.6,620.8 980.0,617.4 983.4,614.2 986.9,610.3 990.3,606.9 993.8,604.4 997.2,600.7 1000.6,597.7 1004.1,594.8 1007.5,592.0 1011.0,588.2 1014.4,585.6 1017.8,582.7 1021.3,579.3 1024.7,575.3 1028.1,571.0 1031.6,566.9 1035.0,562.2 1038.5,558.5 1041.9,555.6 1045.3,552.8 1048.8,550.0 1052.2,547.4 1055.6,543.6 1059.1,540.1 1062.5,537.2 1066.0,532.9 1069.4,529.0 1072.8,525.0 1076.3,521.3 1079.7,517.3 1083.1,513.8 1086.6,510.1 1090.0,507.3 1093.5,503.9 1096.9,499.8 1100.3,495.9 1103.8,491.5 1107.2,488.4 1110.7,484.7 1114.1,481.7 1117.5,478.3 1121.0,475.6 1124.4,471.3 1127.8,467.1 1131.3,463.1 1134.7,460.2 1138.2,455.6 1141.6,451.1 1145.0,448.2 1148.5,444.2 1151.9,440.3 1155.3,436.8 1158.8,433.9 1162.2,430.4 1165.7,427.6 1169.1,424.0 1172.5,421.0 1176.0,417.1 1179.4,413.0 1182.9,409.6 1186.3,407.9 1189.7,404.4 1193.2,402.3 1196.6,398.6 1200.0,394.0 1203.5,387.9 1206.9,384.7 1210.4,380.0 1213.8,376.8 1217.2,374.5 1220.7,371.6 1224.1,368.5 1227.5,364.1 1231.0,360.6 1234.4,356.2 1237.9,352.5 1241.3,348.4 1244.7,346.0 1248.2,342.3 1251.6,339.1 1255.0,335.4 1258.5,332.6 1261.9,329.8 1265.4,325.6 1268.8,323.2 1272.2,320.3 1275.7,315.4 1279.1,311.6 1282.6,309.7"/>
<polyline stroke="#808040" points="137.7,869.9 141.1,869.6 144.6,869.5 148.0,869.5 151.5,869.4 154.9,869.4 158.3,869.5 161.8,869.4 165.2,869.2 168.6,868.9 172.1,868.7 175.5,868.4 179.0,868.2 182.4,868.0 185.8,867.6 189.3,867.0 192.7,866.2 196.1,865.7 199.6,865.2 203.0,864.8 206.5,864.7 209.9,864.3 213.3,863.8 216.8,862.9 220.2,861.9 223.6,860.6 227.1,859.5 230.5,858.2 234.0,856.8 237.4,855.3 240.8,853.7 244.3,851.9 247.7,849.7 251.2,847.3 254.6,844.6 258.0,841.9 261.5,838.7 264.9,835.7 268.3,832.4 271.8,829.0 275.2,825.2 278.7,821.5 282.1,817.7 285.5,813.9 289.0,810.2 292.4,806.6 295.8,803.1 299.3,799.7 302.7,796.6 306.2,793.5 309.6,790.7 313.0,788.3 316.5,785.9 319.9,783.8 323.4,781.8 326.8,780.0 330.2,778.5 333.7,777.3 337.1,776.0 340.5,775.0 344.0,774.2 347.4,773.2 350.9,772.5 354.3,772.1 357.7,772.2 361.2,772.5 364.6,773.5 368.0,774.6 371.5,776.0 374.9,777.6 378.4,779.5 381.8,781.6 385.2,783.8 388.7,786.1 392.1,788.5 395.5,790.8 399.0,793.1 402.4,795.1 405.9,797.4 409.3,799.4 412.7,801.1 416.2,803.1 419.6,804.7 423.1,806.0 426.5,806.8 429.9,807.5 433.4,807.7 436.8,807.5 440.2,806.6 443.7,805.8 447.1,804.7 450.6,803.5 454.0,802.2 457.4,800.7 460.9,798.8 464.3,796.9 467.7,794.7 471.2,792.4 474.6,789.9 478.1,787.2 481.5,784.1 484.9,780.9 488.4,777.4 491.8,773.7 495.3,769.7 498.7,765.3 502.1,760.6 505.6,755.8 509.0,750.7 512.4,745.4 515.9,739.7 519.3,733.7 522.8,727.6 526.2,721.4 529.6,715.0 533.1,708.8 536.5,702.6 539.9,696.3 543.4,690.6 546.8,684.8 550.3,679.3 553.7,674.2 557.1,669.3 560.6,664.5 564.0,660.3 567.4,656.3 570.9,652.6 574.3,649.1 577.8,645.9 581.2,643.0 584.6,640.2 588.1,637.6 591.5,635.4 595.0,633.4 598.4,631.6 601.8,630.0 605.3,628.5 608.7,627.3 612.1,625.9 615.6,624.8 619.0,623.8 622.5,623.0 625.9,622.1 629.3,621.6 632.8,620.9 636.2,620.3 639.6,619.9 643.1,619.7 646.5,619.7 650.0,619.9 653.4,620.3 656.8,620.9 660.3,621.7 663.7,622.7 667.2,623.9 670.6,625.4 674.0,627.1 677.5,628.8 680.9,630.7 684.3,632.9 687.8,635.1 691.2,637.2 694.7,639.6 698.1,642.1 701.5,644.7 705.0,647.4 708.4,650.2 711.8,653.1 715.3,656.2 718.7,659.3 722.2,662.4 725.6,665.6 729.0,668.9 732.5,672.2 735.9,675.2 739.3,678.2 742.8,681.6 746.2,684.6 749.7,687.7 753.1,690.6 756.5,693.8 760.0,696.7 763.4,699.7 766.9,702.5 770.3,705.6 773.7,708.3 777.2,711.0 780.6,713.7 784.0,716.1 787.5,718.3 790.9,720.7 794.4,722.7 797.8,724.8 801.2,727.1 804.7,729.1 808.1,730.9 811.5,732.6 815.0,733.8 818.4,734.9 821.9,735.7 825.3,736.1 828.7,736.4 832.2,736.3 835.6,735.7 839.1,734.7 842.5,733.4 845.9,731.8 849.4,730.1 852.8,727.9 856.2,725.8 859.7,723.1 863.1,720.2 866.6,717.1 870.0,713.6 873.4,709.9 876.9,706.5 880.3,702.6 883.7,698.7 887.2,695.2 890.6,691.5 894.1,687.9 897.5,684.7 900.9,681.4 904.4,677.7 907.8,674.2 911.2,670.7 914.7,666.9 918.1,663.5 921.6,660.4 925.0,657.1 928.4,653.4 931.9,649.7 935.3,646.1 938.8,643.0 942.2,639.3 945.6,635.9 949.1,633.0 952.5,630.2 955.9,626.0 959.4,622.4 962.8,618.4 966.3,614.2 969.7,609.0 973.1,605.5 976.6,601.7 980.0,598.4 983.4,594.9 986.9,591.3 990.3,587.3 993.8,584.2 997.2,579.9 1000.6,575.9 1004.1,572.7 1007.5,568.8 1011.0,564.5 1014.4,561.3 1017.8,557.7 1021.3,552.8 1024.7,549.6 1028.1,545.4 1031.6,540.5 1035.0,535.8 1038.5,533.1 1041.9,528.6 1045.3,524.7 1048.8,520.6 1052.2,517.2 1055.6,513.2 1059.1,508.7 1062.5,504.3 1066.0,500.6 1069.4,496.6 1072.8,491.9 1076.3,488.4 1079.7,484.6 1083.1,481.5 1086.6,477.3 1090.0,473.7 1093.5,470.5 1096.9,467.0 1100.3,462.5 1103.8,459.0 1107.2,454.9 1110.7,451.3 1114.1,447.8 1117.5,443.8 1121.0,439.8 1124.4,435.7 1127.8,432.0 1131.3,429.2 1134.7,425.7 1138.2,422.0 1141.6,417.9 1145.0,413.3 1148.5,409.4 1151.9,405.6 1155.3,402.9 1158.8,401.7 1162.2,397.1 1165.7,393.1 1169.1,389.8 1172.5,385.6 1176.0,380.3 1179.4,378.5 1182.9,374.8 1186.3,372.7 1189.7,370.9 1193.2,368.0 1196.6,364.2 1200.0,361.6 1203.5,357.8 1206.9,353.8 1210.4,352.3 1213.8,349.4 1217.2,346.5 1220.7,343.4 1224.1,340.5 1227.5,336.5 1231.0,334.6 1234.4,331.8 1237.9,330.4 1241.3,327.7 1244.7,324.3 1248.2,322.5 1251.6,320.7 1255.0,316.7 1258.5,313.9 1261.9,312.7 1265.4,311.2 1268.8,308.4 1272.2,307.7 1275.7,306.9 1279.1,305.2 1282.6,301.8"/>
<polyline stroke="#f08a50" points="137.7,863.6 141.1,863.3 144.6,863.2 148.0,863.1 151.5,863.1 154.9,863.1 158.3,863.4 161.8,863.4 165.2,863.4 168.6,863.2 172.1,863.0 175.5,862.8 179.0,862.7 182.4,862.5 185.8,862.2 189.3,862.0 192.7,861.6 196.1,861.2 199.6,860.9 203.0,860.7 206.5,860.6 209.9,860.3 213.3,860.1 216.8,859.8 220.2,859.7 223.6,859.3 227.1,859.3 230.5,859.2 234.0,858.7 237.4,858.1 240.8,857.7 244.3,856.9 247.7,856.3 251.2,855.7 254.6,855.0 258.0,854.2 261.5,853.4 264.9,852.4 268.3,851.3 271.8,850.3 275.2,849.0 278.7,848.1 282.1,846.8 285.5,846.0 289.0,845.0 292.4,844.1 295.8,842.9 299.3,842.1 302.7,841.0 306.2,840.1 309.6,839.3 313.0,838.6 316.5,837.7 319.9,837.4 323.4,836.6 326.8,836.1 330.2,835.7 333.7,835.4 337.1,835.1 340.5,835.0 344.0,834.7 347.4,834.5 350.9,834.3 354.3,834.1 357.7,833.9 361.2,834.2 364.6,834.5 368.0,834.7 371.5,835.1 374.9,835.8 378.4,836.4 381.8,837.2 385.2,838.2 388.7,839.0 392.1,839.8 395.5,840.6 399.0,841.2 402.4,841.8 405.9,842.5 409.3,843.3 412.7,844.1 416.2,844.7 419.6,845.3 423.1,845.8 426.5,846.1 429.9,846.2 433.4,846.4 436.8,846.0 440.2,844.9 443.7,843.8 447.1,842.4 450.6,840.9 454.0,839.3 457.4,837.5 460.9,835.3 464.3,833.2 467.7,830.7 471.2,827.7 474.6,824.6 478.1,821.6 481.5,817.7 484.9,813.9 488.4,809.7 491.8,805.3 495.3,800.1 498.7,795.0 502.1,789.3 505.6,783.1 509.0,776.8 512.4,770.3 515.9,763.4 519.3,756.2 522.8,749.0 526.2,741.6 529.6,734.0 533.1,726.7 536.5,719.2 539.9,712.2 543.4,705.0 546.8,698.2 550.3,691.8 553.7,685.7 557.1,679.5 560.6,673.9 564.0,668.7 567.4,663.5 570.9,658.8 574.3,654.5 577.8,650.7 581.2,647.0 584.6,643.8 588.1,641.0 591.5,638.4 595.0,635.9 598.4,633.5 601.8,631.8 605.3,630.2 608.7,628.6 612.1,627.4 615.6,626.3 619.0,625.0 622.5,623.8 625.9,622.8 629.3,621.9 632.8,621.3 636.2,620.7 639.6,620.3 643.1,619.7 646.5,619.7 650.0,620.0 653.4,620.6 656.8,621.4 660.3,622.8 663.7,624.2 667.2,625.7 670.6,627.2 674.0,629.1 677.5,631.1 680.9,633.5 684.3,636.0 687.8,638.7 691.2,641.5 694.7,644.3 698.1,647.3 701.5,650.3 705.0,653.7 708.4,657.1 711.8,660.9 715.3,664.6 718.7,668.4 722.2,672.1 725.6,675.9 729.0,679.5 732.5,683.4 735.9,687.4 739.3,691.5 742.8,695.4 746.2,699.3 749.7,703.2 753.1,707.0 756.5,710.7 760.0,714.5 763.4,718.2 766.9,721.6 770.3,725.0 773.7,728.4 777.2,731.6 780.6,734.5 784.0,737.7 787.5,740.5 790.9,743.3 794.4,746.0 797.8,748.8 801.2,751.0 804.7,753.4 808.1,755.3 811.5,757.1 815.0,758.6 818.4,760.0 821.9,760.9 825.3,761.7 828.7,761.9 832.2,761.8 835.6,761.4 839.1,760.9 842.5,760.1 845.9,759.3 849.4,758.2 852.8,757.0 856.2,755.4 859.7,753.7 863.1,751.8 866.6,749.7 870.0,747.6 873.4,745.1 876.9,743.0 880.3,740.6 883.7,737.6 887.2,735.3 890.6,732.9 894.1,729.8 897.5,727.4 900.9,724.6 904.4,722.1 907.8,719.1 911.2,716.3 914.7,713.1 918.1,711.0 921.6,707.6 925.0,705.3 928.4,702.6 931.9,700.1 935.3,697.2 938.8,693.9 942.2,690.9 945.6,688.0 949.1,684.5 952.5,681.5 955.9,678.1 959.4,674.3 962.8,671.2 966.3,667.7 969.7,664.0 973.1,660.9 976.6,657.3 980.0,653.4 983.4,649.2 986.9,645.4 990.3,640.9 993.8,637.0 997.2,632.4 1000.6,628.9 1004.1,624.7 1007.5,621.3 1011.0,616.9 1014.4,612.6 1017.8,607.3 1021.3,602.3 1024.7,597.3 1028.1,593.2 1031.6,588.9 1035.0,585.3 1038.5,580.6 1041.9,575.8 1045.3,571.4 1048.8,567.2 1052.2,562.0 1055.6,557.8 1059.1,553.6 1062.5,547.9 1066.0,543.0 1069.4,539.0 1072.8,534.6 1076.3,530.6 1079.7,526.0 1083.1,521.6 1086.6,516.9 1090.0,512.2 1093.5,506.1 1096.9,501.7 1100.3,496.3 1103.8,492.0 1107.2,486.9 1110.7,483.3 1114.1,478.3 1117.5,473.3 1121.0,467.7 1124.4,461.8 1127.8,456.0 1131.3,451.1 1134.7,446.5 1138.2,442.0 1141.6,438.0 1145.0,433.0 1148.5,429.6 1151.9,424.5 1155.3,419.6 1158.8,415.2 1162.2,411.2 1165.7,406.8 1169.1,403.9 1172.5,398.8 1176.0,395.0 1179.4,392.0 1182.9,386.9 1186.3,382.3 1189.7,380.7 1193.2,378.4 1196.6,374.6 1200.0,370.8 1203.5,366.9 1206.9,362.1 1210.4,356.6 1213.8,351.5 1217.2,349.5 1220.7,346.2 1224.1,343.1 1227.5,340.8 1231.0,338.3 1234.4,333.6 1237.9,330.4 1241.3,327.6 1244.7,324.0 1248.2,319.0 1251.6,316.7 1255.0,314.9 1258.5,310.7 1261.9,307.0 1265.4,305.4 1268.8,302.8 1272.2,298.0 1275.7,296.2 1279.1,294.1 1282.6,292.0"/>
<polyline stroke="#6ab05a" points="137.7,866.0 141.1,865.9 144.6,865.8 148.0,865.6 151.5,865.4 154.9,865.3 158.3,865.2 161.8,865.2 165.2,865.2 168.6,865.0 172.1,865.0 175.5,864.9 179.0,864.5 182.4,864.2 185.8,864.1 189.3,863.7 192.7,863.6 196.1,863.3 199.6,862.8 203.0,862.5 206.5,862.3 209.9,861.8 213.3,861.4 216.8,861.4 220.2,861.1 223.6,860.7 227.1,860.3 230.5,859.9 234.0,859.2 237.4,858.6 240.8,857.9 244.3,857.2 247.7,856.4 251.2,855.5 254.6,854.4 258.0,853.4 261.5,851.9 264.9,850.6 268.3,849.3 271.8,847.8 275.2,846.3 278.7,844.8 282.1,843.3 285.5,841.6 289.0,840.2 292.4,838.7 295.8,837.3 299.3,835.7 302.7,834.6 306.2,833.4 309.6,832.2 313.0,831.3 316.5,830.6 319.9,829.3 323.4,828.6 326.8,827.7 330.2,827.0 333.7,826.3 337.1,825.9 340.5,825.4 344.0,825.1 347.4,824.7 350.9,824.5 354.3,824.4 357.7,824.5 361.2,824.8 364.6,825.4 368.0,826.0 371.5,826.8 374.9,827.8 378.4,828.9 381.8,829.9 385.2,831.0 388.7,832.2 392.1,833.3 395.5,834.5 399.0,835.4 402.4,836.6 405.9,837.4 409.3,838.5 412.7,839.4 416.2,840.5 419.6,841.5 423.1,842.4 426.5,842.9 429.9,843.1 433.4,843.3 436.8,842.7 440.2,841.7 443.7,840.5 447.1,839.6 450.6,838.1 454.0,836.7 457.4,834.8 460.9,832.9 464.3,830.6 467.7,828.1 471.2,825.3 474.6,822.4 478.1,819.1 481.5,815.3 484.9,811.5 488.4,807.5 491.8,803.1 495.3,798.1 498.7,792.9 502.1,787.2 505.6,781.2 509.0,774.8 512.4,768.4 515.9,761.7 519.3,754.7 522.8,747.3 526.2,740.0 529.6,732.8 533.1,725.5 536.5,718.3 539.9,711.2 543.4,704.2 546.8,697.4 550.3,690.8 553.7,684.5 557.1,678.7 560.6,673.1 564.0,667.8 567.4,662.7 570.9,658.2 574.3,654.0 577.8,650.1 581.2,646.7 584.6,643.8 588.1,640.9 591.5,638.2 595.0,635.9 598.4,633.7 601.8,631.6 605.3,629.6 608.7,628.1 612.1,626.7 615.6,625.5 619.0,624.4 622.5,623.4 625.9,622.6 629.3,621.7 632.8,621.0 636.2,620.6 639.6,620.3 643.1,620.0 646.5,620.0 650.0,620.2 653.4,620.6 656.8,621.3 660.3,622.4 663.7,623.6 667.2,625.4 670.6,627.2 674.0,629.2 677.5,631.6 680.9,634.0 684.3,636.5 687.8,639.2 691.2,642.0 694.7,645.0 698.1,648.3 701.5,651.8 705.0,655.3 708.4,659.0 711.8,662.7 715.3,666.3 718.7,670.1 722.2,673.9 725.6,678.0 729.0,682.2 732.5,686.4 735.9,690.6 739.3,694.6 742.8,698.7 746.2,702.5 749.7,706.5 753.1,710.3 756.5,714.3 760.0,718.2 763.4,722.1 766.9,725.7 770.3,729.5 773.7,732.9 777.2,736.1 780.6,739.4 784.0,742.6 787.5,745.6 790.9,748.5 794.4,751.3 797.8,753.8 801.2,756.2 804.7,758.2 808.1,759.9 811.5,761.9 815.0,763.4 818.4,764.8 821.9,766.0 825.3,767.0 828.7,767.4 832.2,767.5 835.6,767.3 839.1,766.8 842.5,766.1 845.9,765.2 849.4,764.4 852.8,763.4 856.2,762.0 859.7,760.7 863.1,759.3 866.6,757.8 870.0,756.1 873.4,754.6 876.9,752.7 880.3,750.6 883.7,748.6 887.2,746.4 890.6,743.9 894.1,741.6 897.5,739.7 900.9,736.9 904.4,735.0 907.8,733.2 911.2,731.3 914.7,728.8 918.1,726.6 921.6,723.7 925.0,720.9 928.4,718.5 931.9,716.0 935.3,713.9 938.8,711.5 942.2,709.3 945.6,706.2 949.1,703.0 952.5,699.8 955.9,696.6 959.4,693.3 962.8,690.6 966.3,687.8 969.7,684.1 973.1,680.6 976.6,677.0 980.0,672.7 983.4,669.0 986.9,665.2 990.3,661.7 993.8,658.0 997.2,654.3 1000.6,650.6 1004.1,647.5 1007.5,644.2 1011.0,639.9 1014.4,636.1 1017.8,631.6 1021.3,627.2 1024.7,621.8 1028.1,617.7 1031.6,613.5 1035.0,608.5 1038.5,603.2 1041.9,599.1 1045.3,595.0 1048.8,590.3 1052.2,585.8 1055.6,581.7 1059.1,576.4 1062.5,571.4 1066.0,565.9 1069.4,561.6 1072.8,556.0 1076.3,551.8 1079.7,545.7 1083.1,541.3 1086.6,536.7 1090.0,532.8 1093.5,528.0 1096.9,524.0 1100.3,518.0 1103.8,511.6 1107.2,505.8 1110.7,500.9 1114.1,495.3 1117.5,491.3 1121.0,486.1 1124.4,481.1 1127.8,475.2 1131.3,470.3 1134.7,466.1 1138.2,462.4 1141.6,458.3 1145.0,453.5 1148.5,448.3 1151.9,442.8 1155.3,437.8 1158.8,431.4 1162.2,427.5 1165.7,423.4 1169.1,418.4 1172.5,414.1 1176.0,410.8 1179.4,405.4 1182.9,399.2 1186.3,395.9 1189.7,391.1 1193.2,386.5 1196.6,382.7 1200.0,379.9 1203.5,374.8 1206.9,370.1 1210.4,366.5 1213.8,362.7 1217.2,358.7 1220.7,354.6 1224.1,351.7 1227.5,347.1 1231.0,343.4 1234.4,339.8 1237.9,336.5 1241.3,333.7 1244.7,331.8 1248.2,329.3 1251.6,326.2 1255.0,323.6 1258.5,320.6 1261.9,316.8 1265.4,312.7 1268.8,311.4 1272.2,306.8 1275.7,303.2 1279.1,300.8 1282.6,298.6"/>
<polyline stroke="#a07858" points="137.7,870.0 141.1,870.1 144.6,869.9 148.0,869.9 151.5,869.9 154.9,869.8 158.3,869.7 161.8,869.8 165.2,869.5 168.6,869.2 172.1,869.2 175.5,868.9 179.0,868.7 182.4,868.6 185.8,868.7 189.3,868.4 192.7,868.2 196.1,868.1 199.6,867.9 203.0,867.5 206.5,867.4 209.9,867.3 213.3,867.3 216.8,867.3 220.2,867.2 223.6,867.2 227.1,867.1 230.5,866.9 234.0,866.6 237.4,866.2 240.8,865.9 244.3,865.6 247.7,865.3 251.2,865.0 254.6,864.8 258.0,864.3 261.5,863.9 264.9,863.4 268.3,863.1 271.8,862.5 275.2,861.9 278.7,861.2 282.1,860.6 285.5,859.7 289.0,859.1 292.4,858.2 295.8,857.6 299.3,856.9 302.7,856.4 306.2,855.7 309.6,855.2 313.0,854.4 316.5,854.1 319.9,853.6 323.4,853.2 326.8,852.7 330.2,852.6 333.7,852.1 337.1,852.0 340.5,851.5 344.0,851.4 347.4,851.0 350.9,850.8 354.3,850.6 357.7,850.7 361.2,850.4 364.6,850.5 368.0,850.5 371.5,850.5 374.9,850.8 378.4,851.3 381.8,851.7 385.2,852.1 388.7,852.6 392.1,853.2 395.5,853.9 399.0,854.6 402.4,855.2 405.9,856.0 409.3,856.6 412.7,857.1 416.2,857.6 419.6,857.9 423.1,858.4 426.5,858.6 429.9,858.7 433.4,858.8 436.8,858.8 440.2,857.5 443.7,856.2 447.1,855.1 450.6,853.7 454.0,852.0 457.4,850.1 460.9,848.2 464.3,846.1 467.7,843.4 471.2,840.8 474.6,837.8 478.1,834.4 481.5,830.7 484.9,826.8 488.4,822.4 491.8,817.7 495.3,812.8 498.7,807.4 502.1,801.4 505.6,795.5 509.0,789.3 512.4,782.3 515.9,775.2 519.3,768.1 522.8,760.7 526.2,753.0 529.6,745.4 533.1,737.7 536.5,730.2 539.9,722.7 543.4,715.3 546.8,708.0 550.3,701.2 553.7,694.5 557.1,688.2 560.6,682.3 564.0,676.7 567.4,671.5 570.9,666.6 574.3,662.0 577.8,658.0 581.2,654.4 584.6,650.9 588.1,647.9 591.5,645.2 595.0,642.7 598.4,640.6 601.8,638.5 605.3,636.6 608.7,634.9 612.1,633.4 615.6,631.8 619.0,630.7 622.5,629.7 625.9,628.8 629.3,627.9 632.8,627.3 636.2,626.7 639.6,626.3 643.1,626.2 646.5,626.0 650.0,626.0 653.4,626.1 656.8,626.5 660.3,627.2 663.7,628.1 667.2,629.3 670.6,630.6 674.0,632.1 677.5,633.7 680.9,635.5 684.3,637.4 687.8,639.6 691.2,641.7 694.7,643.8 698.1,646.3 701.5,648.9 705.0,651.7 708.4,654.5 711.8,657.5 715.3,660.5 718.7,663.4 722.2,666.1 725.6,669.2 729.0,672.3 732.5,675.3 735.9,678.4 739.3,681.6 742.8,684.7 746.2,687.6 749.7,690.6 753.1,693.7 756.5,696.5 760.0,699.6 763.4,702.6 766.9,705.4 770.3,708.3 773.7,710.9 777.2,713.3 780.6,715.7 784.0,718.2 787.5,720.4 790.9,722.7 794.4,724.8 797.8,726.9 801.2,728.7 804.7,730.5 808.1,732.2 811.5,733.9 815.0,735.3 818.4,736.5 821.9,737.3 825.3,737.7 828.7,737.9 832.2,737.8 835.6,737.5 839.1,736.6 842.5,735.6 845.9,734.3 849.4,732.7 852.8,730.7 856.2,728.6 859.7,726.4 863.1,723.8 866.6,721.3 870.0,718.5 873.4,715.6 876.9,712.7 880.3,709.9 883.7,706.6 887.2,703.2 890.6,700.0 894.1,696.5 897.5,693.4 900.9,690.6 904.4,688.5 907.8,686.0 911.2,683.3 914.7,680.5 918.1,677.5 921.6,674.2 925.0,671.3 928.4,668.8 931.9,666.0 935.3,663.2 938.8,660.4 942.2,657.3 945.6,654.3 949.1,651.6 952.5,648.9 955.9,646.3 959.4,643.2 962.8,640.9 966.3,637.7 969.7,633.8 973.1,630.5 976.6,628.1 980.0,624.4 983.4,620.7 986.9,618.4 990.3,614.9 993.8,611.3 997.2,608.2 1000.6,604.3 1004.1,601.0 1007.5,598.2 1011.0,595.1 1014.4,591.5 1017.8,589.3 1021.3,585.7 1024.7,582.1 1028.1,579.1 1031.6,575.7 1035.0,572.6 1038.5,569.6 1041.9,566.9 1045.3,563.2 1048.8,560.3 1052.2,556.7 1055.6,553.8 1059.1,549.7 1062.5,545.9 1066.0,542.6 1069.4,539.4 1072.8,535.6 1076.3,531.7 1079.7,529.4 1083.1,525.5 1086.6,522.5 1090.0,518.7 1093.5,515.2 1096.9,510.7 1100.3,506.9 1103.8,502.9 1107.2,498.0 1110.7,494.4 1114.1,489.8 1117.5,486.9 1121.0,483.4 1124.4,480.3 1127.8,477.2 1131.3,474.4 1134.7,469.8 1138.2,466.2 1141.6,462.8 1145.0,459.0 1148.5,454.9 1151.9,451.8 1155.3,447.1 1158.8,444.3 1162.2,440.1 1165.7,436.0 1169.1,431.4 1172.5,427.7 1176.0,423.2 1179.4,421.8 1182.9,418.4 1186.3,415.5 1189.7,412.1 1193.2,409.1 1196.6,404.6 1200.0,401.9 1203.5,397.6 1206.9,393.1 1210.4,389.7 1213.8,385.7 1217.2,380.7 1220.7,378.2 1224.1,374.1 1227.5,370.1 1231.0,366.5 1234.4,363.2 1237.9,357.8 1241.3,356.8 1244.7,352.1 1248.2,348.1 1251.6,344.2 1255.0,342.2 1258.5,338.8 1261.9,336.1 1265.4,331.7 1268.8,327.8 1272.2,322.7 1275.7,317.4 1279.1,314.3 1282.6,311.6"/>
<polyline stroke="#d8b040" points="137.7,868.8 141.1,868.9 144.6,868.8 148.0,869.0 151.5,868.9 154.9,868.7 158.3,868.4 161.8,868.1 165.2,867.8 168.6,867.7 172.1,867.6 175.5,867.7 179.0,867.8 182.4,867.4 185.8,867.3 189.3,867.1 192.7,866.9 196.1,866.5 199.6,866.4 203.0,866.3 206.5,866.1 209.9,866.0 213.3,866.0 216.8,865.8 220.2,865.8 223.6,865.7 227.1,865.4 230.5,865.3 234.0,865.1 237.4,864.8 240.8,864.4 244.3,864.1 247.7,863.6 251.2,863.3 254.6,863.0 258.0,862.8 261.5,862.5 264.9,861.9 268.3,861.4 271.8,860.6 275.2,860.0 278.7,859.6 282.1,859.1 285.5,858.7 289.0,858.3 292.4,857.9 295.8,857.4 299.3,857.1 302.7,856.6 306.2,856.3 309.6,855.7 313.0,855.5 316.5,855.0 319.9,854.9 323.4,854.5 326.8,854.3 330.2,854.0 333.7,853.9 337.1,853.6 340.5,853.7 344.0,853.6 347.4,853.4 350.9,853.4 354.3,853.3 357.7,853.2 361.2,853.4 364.6,853.6 368.0,853.8 371.5,854.0 374.9,854.4 378.4,854.6 381.8,854.9 385.2,855.5 388.7,856.3 392.1,856.6 395.5,857.1 399.0,857.6 402.4,857.8 405.9,858.1 409.3,858.7 412.7,859.2 416.2,859.6 419.6,860.0 423.1,860.2 426.5,860.3 429.9,860.3 433.4,860.2 436.8,859.7 440.2,858.7 443.7,857.6 447.1,856.3 450.6,855.0 454.0,853.5 457.4,851.9 460.9,849.7 464.3,847.4 467.7,844.9 471.2,842.1 474.6,838.9 478.1,835.6 481.5,832.2 484.9,828.2 488.4,823.8 491.8,819.2 495.3,814.1 498.7,808.4 502.1,802.6 505.6,796.4 509.0,790.0 512.4,783.2 515.9,776.2 519.3,768.7 522.8,761.4 526.2,753.8 529.6,746.0 533.1,738.3 536.5,730.7 539.9,723.1 543.4,715.5 546.8,708.3 550.3,701.3 553.7,694.8 557.1,688.6 560.6,682.6 564.0,677.1 567.4,671.7 570.9,666.9 574.3,662.5 577.8,658.4 581.2,654.6 584.6,651.3 588.1,648.1 591.5,645.0 595.0,642.5 598.4,640.4 601.8,638.2 605.3,636.4 608.7,634.8 612.1,633.2 615.6,631.6 619.0,630.5 622.5,629.6 625.9,628.6 629.3,627.8 632.8,627.2 636.2,626.6 639.6,625.9 643.1,625.8 646.5,625.8 650.0,626.0 653.4,626.3 656.8,627.0 660.3,627.9 663.7,629.1 667.2,630.6 670.6,632.4 674.0,634.0 677.5,636.1 680.9,638.3 684.3,640.7 687.8,643.3 691.2,646.4 694.7,649.3 698.1,652.3 701.5,655.2 705.0,658.4 708.4,661.6 711.8,665.1 715.3,668.8 718.7,672.7 722.2,676.5 725.6,680.4 729.0,684.1 732.5,688.0 735.9,692.0 739.3,696.0 742.8,699.9 746.2,704.0 749.7,707.6 753.1,711.2 756.5,714.9 760.0,718.3 763.4,721.6 766.9,725.3 770.3,728.6 773.7,731.9 777.2,735.2 780.6,738.3 784.0,741.3 787.5,744.3 790.9,747.0 794.4,749.4 797.8,751.9 801.2,754.0 804.7,756.0 808.1,757.7 811.5,759.4 815.0,760.8 818.4,762.1 821.9,763.2 825.3,764.1 828.7,764.7 832.2,765.0 835.6,764.7 839.1,764.3 842.5,763.9 845.9,763.2 849.4,762.2 852.8,761.5 856.2,760.3 859.7,759.0 863.1,757.9 866.6,756.9 870.0,755.4 873.4,753.7 876.9,752.2 880.3,750.1 883.7,748.3 887.2,746.5 890.6,744.8 894.1,742.6 897.5,741.0 900.9,739.3 904.4,737.4 907.8,736.0 911.2,733.7 914.7,731.9 918.1,729.5 921.6,727.8 925.0,725.5 928.4,724.3 931.9,721.9 935.3,719.7 938.8,717.0 942.2,714.7 945.6,712.0 949.1,709.5 952.5,707.1 955.9,705.2 959.4,702.2 962.8,699.7 966.3,697.5 969.7,694.1 973.1,690.8 976.6,687.7 980.0,684.6 983.4,680.8 986.9,677.5 990.3,674.2 993.8,671.2 997.2,667.9 1000.6,665.0 1004.1,661.6 1007.5,658.4 1011.0,654.4 1014.4,650.9 1017.8,647.6 1021.3,645.0 1024.7,639.8 1028.1,636.3 1031.6,631.7 1035.0,627.7 1038.5,622.4 1041.9,620.1 1045.3,616.0 1048.8,610.9 1052.2,606.6 1055.6,602.7 1059.1,597.2 1062.5,593.2 1066.0,589.8 1069.4,584.7 1072.8,580.1 1076.3,575.8 1079.7,571.0 1083.1,566.3 1086.6,562.1 1090.0,556.9 1093.5,552.1 1096.9,547.4 1100.3,544.1 1103.8,539.1 1107.2,534.8 1110.7,531.0 1114.1,527.2 1117.5,521.8 1121.0,517.1 1124.4,513.4 1127.8,508.5 1131.3,502.6 1134.7,496.6 1138.2,492.5 1141.6,487.4 1145.0,482.8 1148.5,477.4 1151.9,473.0 1155.3,468.5 1158.8,464.8 1162.2,460.5 1165.7,456.7 1169.1,453.5 1172.5,448.5 1176.0,443.2 1179.4,438.2 1182.9,434.0 1186.3,429.0 1189.7,426.1 1193.2,422.5 1196.6,417.1 1200.0,414.4 1203.5,411.2 1206.9,406.1 1210.4,402.2 1213.8,400.6 1217.2,397.1 1220.7,392.8 1224.1,389.3 1227.5,384.7 1231.0,380.7 1234.4,375.6 1237.9,373.5 1241.3,370.8 1244.7,369.2 1248.2,366.0 1251.6,363.2 1255.0,358.7 1258.5,356.6 1261.9,352.3 1265.4,350.0 1268.8,348.6 1272.2,346.9 1275.7,344.7 1279.1,343.2 1282.6,340.3"/>
<polyline stroke="#4fae9c" points="137.7,869.4 141.1,869.4 144.6,869.3 148.0,869.3 151.5,869.4 154.9,869.3 158.3,869.3 161.8,869.2 165.2,869.0 168.6,868.7 172.1,868.7 175.5,868.6 179.0,868.5 182.4,868.2 185.8,868.1 189.3,867.7 192.7,867.3 196.1,867.0 199.6,866.9 203.0,866.9 206.5,866.9 209.9,866.9 213.3,866.8 216.8,866.7 220.2,866.5 223.6,866.2 227.1,866.0 230.5,865.8 234.0,865.6 237.4,865.3 240.8,865.1 244.3,865.0 247.7,864.6 251.2,864.3 254.6,863.9 258.0,863.5 261.5,862.8 264.9,862.4 268.3,862.0 271.8,861.4 275.2,860.9 278.7,860.6 282.1,859.8 285.5,859.1 289.0,858.6 292.4,857.9 295.8,857.4 299.3,856.9 302.7,856.5 306.2,856.2 309.6,855.8 313.0,855.4 316.5,855.1 319.9,854.7 323.4,854.5 326.8,854.2 330.2,853.8 333.7,853.5 337.1,853.4 340.5,853.2 344.0,853.1 347.4,853.3 350.9,853.2 354.3,853.2 357.7,853.1 361.2,853.0 364.6,853.2 368.0,853.3 371.5,853.5 374.9,853.9 378.4,854.3 381.8,854.4 385.2,854.6 388.7,855.0 392.1,855.0 395.5,855.1 399.0,855.3 402.4,855.6 405.9,855.8 409.3,856.2 412.7,856.6 416.2,856.8 419.6,857.0 423.1,856.9 426.5,856.8 429.9,856.9 433.4,856.9 436.8,856.8 440.2,856.2 443.7,855.3 447.1,854.3 450.6,853.2 454.0,851.7 457.4,849.9 460.9,848.0 464.3,846.0 467.7,844.0 471.2,841.5 474.6,839.0 478.1,836.3 481.5,833.2 484.9,829.6 488.4,825.9 491.8,821.7 495.3,817.1 498.7,812.4 502.1,807.3 505.6,801.9 509.0,796.3 512.4,790.4 515.9,783.9 519.3,777.3 522.8,770.3 526.2,763.5 529.6,756.5 533.1,749.3 536.5,742.3 539.9,735.3 543.4,728.3 546.8,721.4 550.3,714.9 553.7,708.6 557.1,702.6 560.6,697.1 564.0,691.7 567.4,686.9 570.9,682.2 574.3,678.0 577.8,673.9 581.2,670.1 584.6,666.9 588.1,663.8 591.5,661.0 595.0,658.4 598.4,656.3 601.8,654.1 605.3,652.3 608.7,650.5 612.1,649.0 615.6,647.7 619.0,646.5 622.5,645.5 625.9,644.6 629.3,643.8 632.8,643.1 636.2,642.3 639.6,641.8 643.1,641.6 646.5,641.6 650.0,641.6 653.4,641.8 656.8,642.0 660.3,642.3 663.7,642.7 667.2,643.4 670.6,644.4 674.0,645.5 677.5,646.5 680.9,648.0 684.3,649.3 687.8,650.5 691.2,652.0 694.7,653.9 698.1,655.4 701.5,657.1 705.0,659.0 708.4,661.1 711.8,663.0 715.3,665.0 718.7,667.1 722.2,669.3 725.6,671.4 729.0,673.8 732.5,676.0 735.9,678.2 739.3,680.5 742.8,682.7 746.2,684.6 749.7,686.9 753.1,689.2 756.5,691.5 760.0,693.6 763.4,695.9 766.9,697.7 770.3,699.9 773.7,701.8 777.2,703.8 780.6,705.5 784.0,707.4 787.5,708.9 790.9,710.5 794.4,711.9 797.8,713.3 801.2,714.7 804.7,716.1 808.1,717.2 811.5,718.4 815.0,719.6 818.4,720.4 821.9,721.0 825.3,721.4 828.7,721.7 832.2,721.5 835.6,721.4 839.1,720.8 842.5,719.9 845.9,718.4 849.4,716.8 852.8,714.8 856.2,712.7 859.7,710.7 863.1,708.4 866.6,705.8 870.0,703.4 873.4,700.6 876.9,697.2 880.3,694.1 883.7,690.9 887.2,687.2 890.6,683.8 894.1,680.5 897.5,677.2 900.9,674.2 904.4,671.6 907.8,668.4 911.2,665.8 914.7,662.8 918.1,659.0 921.6,654.7 925.0,651.5 928.4,647.2 931.9,642.9 935.3,639.5 938.8,635.7 942.2,631.8 945.6,628.4 949.1,624.9 952.5,620.9 955.9,616.8 959.4,612.5 962.8,608.3 966.3,603.9 969.7,599.1 973.1,595.1 976.6,590.0 980.0,585.3 983.4,580.9 986.9,576.6 990.3,571.8 993.8,567.8 997.2,562.8 1000.6,557.0 1004.1,552.2 1007.5,547.5 1011.0,541.8 1014.4,537.3 1017.8,533.5 1021.3,528.9 1024.7,523.9 1028.1,519.3 1031.6,514.3 1035.0,509.1 1038.5,503.2 1041.9,498.2 1045.3,494.1 1048.8,489.2 1052.2,484.4 1055.6,479.8 1059.1,475.6 1062.5,470.5 1066.0,466.0 1069.4,462.2 1072.8,457.9 1076.3,453.5 1079.7,448.4 1083.1,444.1 1086.6,439.0 1090.0,435.1 1093.5,430.9 1096.9,426.5 1100.3,421.9 1103.8,417.2 1107.2,413.2 1110.7,408.4 1114.1,405.7 1117.5,401.7 1121.0,398.3 1124.4,393.5 1127.8,389.7 1131.3,385.1 1134.7,380.7 1138.2,376.7 1141.6,373.1 1145.0,369.3 1148.5,365.8 1151.9,363.2 1155.3,359.8 1158.8,357.2 1162.2,354.3 1165.7,350.5 1169.1,346.8 1172.5,344.3 1176.0,342.0 1179.4,339.5 1182.9,337.5 1186.3,334.7 1189.7,332.1 1193.2,328.9 1196.6,325.9 1200.0,323.7 1203.5,322.2 1206.9,318.5 1210.4,315.2 1213.8,313.1 1217.2,310.4 1220.7,308.9 1224.1,307.7 1227.5,306.8 1231.0,305.2 1234.4,303.9 1237.9,301.5 1241.3,300.3 1244.7,298.4 1248.2,295.9 1251.6,293.7 1255.0,293.4 1258.5,292.5 1261.9,292.5 1265.4,292.8 1268.8,291.4 1272.2,288.5 1275.7,286.9 1279.1,284.4 1282.6,282.6"/>
<polyline stroke="#5a80d8" points="137.7,870.0 141.1,870.0 144.6,870.0 148.0,869.8 151.5,869.7 154.9,869.2 158.3,868.8 161.8,868.5 165.2,868.3 168.6,867.9 172.1,867.7 175.5,867.3 179.0,866.9 182.4,866.3 185.8,865.6 189.3,865.0 192.7,864.3 196.1,863.6 199.6,862.9 203.0,862.2 206.5,861.2 209.9,860.1 213.3,858.9 216.8,857.4 220.2,855.8 223.6,854.2 227.1,852.3 230.5,850.3 234.0,848.1 237.4,845.6 240.8,842.8 244.3,839.7 247.7,836.2 251.2,832.5 254.6,828.6 258.0,824.5 261.5,820.4 264.9,816.4 268.3,812.2 271.8,808.2 275.2,804.2 278.7,800.1 282.1,796.1 285.5,792.5 289.0,788.8 292.4,785.4 295.8,782.6 299.3,779.8 302.7,777.3 306.2,775.0 309.6,773.0 313.0,770.8 316.5,769.1 319.9,767.5 323.4,766.2 326.8,765.0 330.2,764.1 333.7,763.1 337.1,762.3 340.5,762.3 344.0,762.5 347.4,763.2 350.9,764.5 354.3,766.0 357.7,768.0 361.2,770.3 364.6,773.2 368.0,776.2 371.5,779.5 374.9,782.8 378.4,786.5 381.8,790.1 385.2,794.0 388.7,798.0 392.1,801.7 395.5,805.4 399.0,809.1 402.4,812.5 405.9,815.5 409.3,818.4 412.7,821.0 416.2,823.1 419.6,825.2 423.1,826.9 426.5,828.3 429.9,829.2 433.4,829.7 436.8,829.4 440.2,828.6 443.7,827.7 447.1,826.9 450.6,826.1 454.0,824.8 457.4,823.8 460.9,822.5 464.3,820.8 467.7,819.2 471.2,817.5 474.6,815.4 478.1,813.2 481.5,810.9 484.9,807.9 488.4,804.9 491.8,801.6 495.3,798.1 498.7,794.3 502.1,790.5 505.6,786.0 509.0,781.4 512.4,776.7 515.9,771.6 519.3,766.3 522.8,761.2 526.2,755.4 529.6,749.7 533.1,744.0 536.5,738.1 539.9,732.3 543.4,726.8 546.8,721.1 550.3,715.4 553.7,710.1 557.1,704.9 560.6,700.2 564.0,695.6 567.4,691.7 570.9,687.7 574.3,684.1 577.8,680.6 581.2,677.4 584.6,674.5 588.1,672.0 591.5,669.6 595.0,667.5 598.4,665.6 601.8,663.8 605.3,662.2 608.7,660.7 612.1,659.3 615.6,658.0 619.0,656.9 622.5,655.9 625.9,655.1 629.3,654.6 632.8,653.9 636.2,653.4 639.6,653.1 643.1,652.9 646.5,652.8 650.0,653.0 653.4,653.3 656.8,654.0 660.3,654.9 663.7,655.8 667.2,657.0 670.6,658.4 674.0,659.8 677.5,661.8 680.9,664.0 684.3,666.1 687.8,668.4 691.2,670.9 694.7,673.4 698.1,675.9 701.5,678.9 705.0,681.9 708.4,684.7 711.8,687.6 715.3,690.7 718.7,693.6 722.2,696.9 725.6,700.4 729.0,704.2 732.5,707.4 735.9,711.0 739.3,714.2 742.8,717.5 746.2,720.6 749.7,724.2 753.1,727.4 756.5,730.9 760.0,734.1 763.4,737.5 766.9,740.3 770.3,743.3 773.7,746.3 777.2,749.0 780.6,751.5 784.0,754.1 787.5,756.6 790.9,758.7 794.4,761.0 797.8,763.1 801.2,765.2 804.7,767.3 808.1,769.2 811.5,770.6 815.0,771.8 818.4,773.0 821.9,773.6 825.3,774.4 828.7,775.0 832.2,775.1 835.6,774.9 839.1,774.7 842.5,773.9 845.9,773.0 849.4,772.5 852.8,771.6 856.2,770.8 859.7,770.1 863.1,769.1 866.6,767.7 870.0,766.4 873.4,764.7 876.9,762.8 880.3,761.0 883.7,758.9 887.2,757.1 890.6,755.4 894.1,753.2 897.5,751.3 900.9,749.6 904.4,747.6 907.8,744.8 911.2,742.9 914.7,740.8 918.1,739.2 921.6,737.1 925.0,735.4 928.4,733.0 931.9,730.5 935.3,727.6 938.8,724.3 942.2,721.6 945.6,718.9 949.1,715.9 952.5,712.9 955.9,710.1 959.4,706.3 962.8,702.9 966.3,698.9 969.7,694.9 973.1,691.3 976.6,688.0 980.0,684.5 983.4,681.3 986.9,677.3 990.3,673.4 993.8,668.5 997.2,664.3 1000.6,659.9 1004.1,655.8 1007.5,650.4 1011.0,646.0 1014.4,640.4 1017.8,635.3 1021.3,629.1 1024.7,624.5 1028.1,618.8 1031.6,614.0 1035.0,607.5 1038.5,602.0 1041.9,595.9 1045.3,589.7 1048.8,583.0 1052.2,577.6 1055.6,571.4 1059.1,565.4 1062.5,559.9 1066.0,553.6 1069.4,547.5 1072.8,541.2 1076.3,534.6 1079.7,528.2 1083.1,520.9 1086.6,515.0 1090.0,509.1 1093.5,502.3 1096.9,496.1 1100.3,491.4 1103.8,483.5 1107.2,476.8 1110.7,472.0 1114.1,465.0 1117.5,458.4 1121.0,453.7 1124.4,447.9 1127.8,441.4 1131.3,436.4 1134.7,430.0 1138.2,423.9 1141.6,417.9 1145.0,411.9 1148.5,405.1 1151.9,399.6 1155.3,394.2 1158.8,389.6 1162.2,384.4 1165.7,378.7 1169.1,372.7 1172.5,367.3 1176.0,360.9 1179.4,356.6 1182.9,352.2 1186.3,348.3 1189.7,342.9 1193.2,338.7 1196.6,333.8 1200.0,330.0 1203.5,326.4 1206.9,322.9 1210.4,318.8 1213.8,312.0 1217.2,308.0 1220.7,303.6 1224.1,300.8 1227.5,297.4 1231.0,298.2 1234.4,296.2 1237.9,292.9 1241.3,290.1 1244.7,286.9 1248.2,282.1 1251.6,279.2 1255.0,277.3 1258.5,274.9 1261.9,274.7 1265.4,272.9 1268.8,269.7 1272.2,266.8 1275.7,263.5 1279.1,260.3 1282.6,258.7"/>
<polyline stroke="#b07ee6" points="137.7,860.3 141.1,860.2 144.6,860.1 148.0,859.8 151.5,859.8 154.9,859.6 158.3,859.4 161.8,859.2 165.2,859.3 168.6,859.1 172.1,858.8 175.5,858.6 179.0,858.6 182.4,858.2 185.8,857.9 189.3,857.5 192.7,857.3 196.1,856.9 199.6,856.7 203.0,856.3 206.5,856.1 209.9,855.9 213.3,855.5 216.8,855.2 220.2,854.9 223.6,854.5 227.1,853.9 230.5,853.4 234.0,852.6 237.4,851.6 240.8,850.5 244.3,849.4 247.7,848.2 251.2,846.8 254.6,845.6 258.0,844.4 261.5,842.7 264.9,840.8 268.3,838.9 271.8,836.9 275.2,834.9 278.7,832.9 282.1,830.9 285.5,829.0 289.0,827.1 292.4,825.1 295.8,823.2 299.3,821.4 302.7,819.6 306.2,818.0 309.6,816.4 313.0,815.0 316.5,813.7 319.9,812.7 323.4,811.6 326.8,810.7 330.2,810.0 333.7,809.2 337.1,808.4 340.5,807.9 344.0,807.3 347.4,806.6 350.9,806.3 354.3,806.4 357.7,806.3 361.2,806.6 364.6,807.2 368.0,807.8 371.5,808.8 374.9,809.9 378.4,811.2 381.8,812.7 385.2,814.3 388.7,815.7 392.1,817.4 395.5,818.8 399.0,820.2 402.4,821.6 405.9,823.1 409.3,824.2 412.7,825.4 416.2,826.6 419.6,827.5 423.1,828.4 426.5,828.8 429.9,829.3 433.4,829.5 436.8,829.4 440.2,828.7 443.7,828.1 447.1,827.3 450.6,826.1 454.0,825.2 457.4,823.8 460.9,822.4 464.3,821.0 467.7,819.6 471.2,817.6 474.6,815.6 478.1,813.3 481.5,810.9 484.9,808.1 488.4,805.1 491.8,801.7 495.3,798.3 498.7,794.3 502.1,790.2 505.6,785.8 509.0,781.3 512.4,776.5 515.9,771.5 519.3,766.2 522.8,760.6 526.2,755.1 529.6,749.3 533.1,743.5 536.5,737.9 539.9,732.3 543.4,726.3 546.8,720.5 550.3,715.3 553.7,709.8 557.1,704.7 560.6,700.0 564.0,695.5 567.4,691.2 570.9,687.4 574.3,683.9 577.8,680.5 581.2,677.3 584.6,674.3 588.1,671.6 591.5,669.4 595.0,667.3 598.4,665.3 601.8,663.6 605.3,662.0 608.7,660.4 612.1,659.0 615.6,657.9 619.0,656.9 622.5,656.0 625.9,655.2 629.3,654.5 632.8,654.0 636.2,653.5 639.6,653.0 643.1,652.7 646.5,652.9 650.0,653.0 653.4,653.5 656.8,654.2 660.3,655.2 663.7,656.6 667.2,658.2 670.6,660.0 674.0,662.0 677.5,664.1 680.9,666.4 684.3,668.9 687.8,671.4 691.2,674.5 694.7,677.5 698.1,680.7 701.5,683.9 705.0,687.4 708.4,690.8 711.8,694.4 715.3,697.9 718.7,701.6 722.2,705.3 725.6,709.1 729.0,712.9 732.5,716.9 735.9,720.8 739.3,724.7 742.8,728.7 746.2,732.7 749.7,736.7 753.1,741.0 756.5,745.1 760.0,748.9 763.4,752.5 766.9,756.2 770.3,759.3 773.7,762.4 777.2,765.7 780.6,768.8 784.0,771.6 787.5,774.6 790.9,777.5 794.4,779.9 797.8,782.4 801.2,784.9 804.7,787.1 808.1,789.0 811.5,790.8 815.0,792.2 818.4,793.4 821.9,794.4 825.3,795.2 828.7,795.8 832.2,796.0 835.6,796.1 839.1,795.5 842.5,794.9 845.9,794.4 849.4,793.6 852.8,792.6 856.2,791.9 859.7,790.8 863.1,789.4 866.6,788.1 870.0,786.5 873.4,784.9 876.9,783.1 880.3,781.2 883.7,779.3 887.2,778.0 890.6,776.1 894.1,774.4 897.5,772.6 900.9,770.8 904.4,768.0 907.8,765.6 911.2,763.3 914.7,761.0 918.1,758.3 921.6,756.3 925.0,753.9 928.4,751.0 931.9,748.2 935.3,746.5 938.8,743.4 942.2,740.7 945.6,738.1 949.1,734.9 952.5,731.0 955.9,727.9 959.4,724.1 962.8,720.4 966.3,717.1 969.7,713.5 973.1,709.5 976.6,705.9 980.0,702.2 983.4,698.1 986.9,694.3 990.3,690.5 993.8,685.5 997.2,680.8 1000.6,676.2 1004.1,671.1 1007.5,665.8 1011.0,661.3 1014.4,656.1 1017.8,651.2 1021.3,645.5 1024.7,640.4 1028.1,634.5 1031.6,629.7 1035.0,624.1 1038.5,618.4 1041.9,612.3 1045.3,607.1 1048.8,600.1 1052.2,594.1 1055.6,588.3 1059.1,583.1 1062.5,576.7 1066.0,570.9 1069.4,563.9 1072.8,557.1 1076.3,550.0 1079.7,542.6 1083.1,536.1 1086.6,530.8 1090.0,525.9 1093.5,518.2 1096.9,512.6 1100.3,506.1 1103.8,499.0 1107.2,491.8 1110.7,485.5 1114.1,479.0 1117.5,471.3 1121.0,464.7 1124.4,459.1 1127.8,453.1 1131.3,447.0 1134.7,442.1 1138.2,435.0 1141.6,427.8 1145.0,421.7 1148.5,415.6 1151.9,410.2 1155.3,405.1 1158.8,399.7 1162.2,394.2 1165.7,388.2 1169.1,382.4 1172.5,377.1 1176.0,371.3 1179.4,367.3 1182.9,362.4 1186.3,357.8 1189.7,353.1 1193.2,349.6 1196.6,344.9 1200.0,340.8 1203.5,337.0 1206.9,333.5 1210.4,329.2 1213.8,324.9 1217.2,321.9 1220.7,317.3 1224.1,312.4 1227.5,308.3 1231.0,306.5 1234.4,302.6 1237.9,299.0 1241.3,297.2 1244.7,293.7 1248.2,289.1 1251.6,286.1 1255.0,284.3 1258.5,281.8 1261.9,280.3 1265.4,278.3 1268.8,275.8 1272.2,273.0 1275.7,270.6 1279.1,268.3 1282.6,266.3"/>
<polyline stroke="#b07ee6" points="137.7,861.0 141.1,861.1 144.6,861.1 148.0,861.1 151.5,861.1 154.9,860.9 158.3,860.8 161.8,860.5 165.2,860.4 168.6,860.3 172.1,860.2 175.5,860.1 179.0,859.8 182.4,859.7 185.8,859.5 189.3,859.3 192.7,859.1 196.1,859.1 199.6,858.8 203.0,858.7 206.5,858.5 209.9,858.3 213.3,858.4 216.8,858.3 220.2,858.2 223.6,858.2 227.1,858.3 230.5,858.1 234.0,858.2 237.4,858.2 240.8,858.0 244.3,857.8 247.7,857.8 251.2,857.7 254.6,857.4 258.0,857.4 261.5,857.3 264.9,857.0 268.3,856.7 271.8,856.7 275.2,856.6 278.7,856.5 282.1,856.3 285.5,856.1 289.0,855.7 292.4,855.5 295.8,855.1 299.3,854.8 302.7,854.7 306.2,854.5 309.6,854.1 313.0,854.0 316.5,853.8 319.9,853.5 323.4,853.3 326.8,853.2 330.2,853.0 333.7,852.9 337.1,852.8 340.5,852.7 344.0,852.5 347.4,852.2 350.9,851.9 354.3,852.0 357.7,851.9 361.2,851.8 364.6,851.9 368.0,851.9 371.5,851.9 374.9,852.1 378.4,852.5 381.8,852.8 385.2,853.4 388.7,854.0 392.1,854.5 395.5,854.9 399.0,855.5 402.4,855.9 405.9,856.4 409.3,856.9 412.7,857.3 416.2,857.9 419.6,858.3 423.1,858.5 426.5,858.7 429.9,859.0 433.4,858.7 436.8,858.5 440.2,857.8 443.7,857.0 447.1,856.0 450.6,855.1 454.0,853.8 457.4,852.4 460.9,850.8 464.3,849.0 467.7,847.2 471.2,845.2 474.6,843.1 478.1,840.6 481.5,838.1 484.9,835.0 488.4,831.6 491.8,828.0 495.3,824.2 498.7,819.8 502.1,815.4 505.6,810.6 509.0,805.4 512.4,800.1 515.9,794.3 519.3,788.4 522.8,782.4 526.2,776.2 529.6,769.6 533.1,763.1 536.5,756.5 539.9,749.8 543.4,743.3 546.8,736.7 550.3,730.5 553.7,724.3 557.1,718.6 560.6,713.0 564.0,708.1 567.4,703.2 570.9,698.8 574.3,694.6 577.8,690.8 581.2,687.2 584.6,684.0 588.1,681.1 591.5,678.3 595.0,675.8 598.4,673.4 601.8,671.1 605.3,669.3 608.7,667.6 612.1,666.0 615.6,664.7 619.0,663.6 622.5,662.4 625.9,661.3 629.3,660.4 632.8,659.6 636.2,658.7 639.6,658.1 643.1,657.9 646.5,658.0 650.0,658.1 653.4,658.8 656.8,659.7 660.3,660.6 663.7,661.9 667.2,663.4 670.6,665.1 674.0,667.0 677.5,669.3 680.9,671.2 684.3,673.5 687.8,675.8 691.2,678.4 694.7,681.1 698.1,684.2 701.5,687.3 705.0,690.6 708.4,694.1 711.8,697.6 715.3,701.3 718.7,705.1 722.2,709.0 725.6,712.6 729.0,716.3 732.5,720.2 735.9,723.8 739.3,727.4 742.8,731.3 746.2,735.2 749.7,738.9 753.1,742.7 756.5,746.5 760.0,750.2 763.4,753.7 766.9,757.4 770.3,760.8 773.7,764.0 777.2,767.0 780.6,770.0 784.0,772.7 787.5,775.4 790.9,778.1 794.4,780.7 797.8,783.1 801.2,785.4 804.7,787.4 808.1,789.1 811.5,790.7 815.0,792.2 818.4,793.5 821.9,794.7 825.3,795.5 828.7,796.0 832.2,796.1 835.6,796.1 839.1,795.6 842.5,795.3 845.9,794.8 849.4,794.2 852.8,793.1 856.2,792.4 859.7,791.2 863.1,790.0 866.6,788.8 870.0,787.6 873.4,786.2 876.9,785.1 880.3,783.8 883.7,782.4 887.2,780.9 890.6,779.2 894.1,777.3 897.5,775.4 900.9,774.2 904.4,772.6 907.8,771.3 911.2,769.7 914.7,768.3 918.1,765.8 921.6,763.6 925.0,761.6 928.4,759.6 931.9,757.3 935.3,755.6 938.8,753.6 942.2,750.8 945.6,748.7 949.1,746.4 952.5,742.5 955.9,740.2 959.4,738.0 962.8,735.4 966.3,732.5 969.7,730.7 973.1,727.7 976.6,724.4 980.0,720.8 983.4,717.6 986.9,714.7 990.3,711.5 993.8,707.9 997.2,704.2 1000.6,700.3 1004.1,696.2 1007.5,692.1 1011.0,688.0 1014.4,683.6 1017.8,679.9 1021.3,675.5 1024.7,671.0 1028.1,667.2 1031.6,663.5 1035.0,658.8 1038.5,654.6 1041.9,650.1 1045.3,644.6 1048.8,639.5 1052.2,634.8 1055.6,629.6 1059.1,623.9 1062.5,619.8 1066.0,615.1 1069.4,609.5 1072.8,604.4 1076.3,599.9 1079.7,594.1 1083.1,588.5 1086.6,582.9 1090.0,577.7 1093.5,572.5 1096.9,567.2 1100.3,562.3 1103.8,557.5 1107.2,552.5 1110.7,546.7 1114.1,540.2 1117.5,533.6 1121.0,527.3 1124.4,521.7 1127.8,515.7 1131.3,511.6 1134.7,507.1 1138.2,501.3 1141.6,495.9 1145.0,490.9 1148.5,485.0 1151.9,479.7 1155.3,476.0 1158.8,469.9 1162.2,465.5 1165.7,459.9 1169.1,454.0 1172.5,449.3 1176.0,444.9 1179.4,439.9 1182.9,436.5 1186.3,433.3 1189.7,427.7 1193.2,422.9 1196.6,419.2 1200.0,414.3 1203.5,408.9 1206.9,405.4 1210.4,401.7 1213.8,395.3 1217.2,390.0 1220.7,387.5 1224.1,383.7 1227.5,378.9 1231.0,377.2 1234.4,374.7 1237.9,370.3 1241.3,365.4 1244.7,364.1 1248.2,361.6 1251.6,359.1 1255.0,354.9 1258.5,352.4 1261.9,348.8 1265.4,343.8 1268.8,339.5 1272.2,337.7 1275.7,335.1 1279.1,331.2 1282.6,329.0"/>
<polyline stroke="#70a8e8" points="137.7,868.6 141.1,868.5 144.6,868.5 148.0,868.5 151.5,868.6 154.9,868.5 158.3,868.5 161.8,868.4 165.2,868.1 168.6,867.9 172.1,867.7 175.5,867.6 179.0,867.4 182.4,867.4 185.8,867.4 189.3,867.4 192.7,867.0 196.1,866.8 199.6,866.7 203.0,866.6 206.5,866.4 209.9,866.5 213.3,866.3 216.8,866.3 220.2,866.3 223.6,866.2 227.1,866.1 230.5,866.1 234.0,865.8 237.4,865.4 240.8,865.3 244.3,865.2 247.7,865.2 251.2,865.0 254.6,864.9 258.0,864.7 261.5,864.3 264.9,863.9 268.3,863.5 271.8,863.3 275.2,863.1 278.7,863.0 282.1,862.8 285.5,862.8 289.0,862.5 292.4,862.1 295.8,861.6 299.3,861.2 302.7,860.8 306.2,860.7 309.6,860.5 313.0,860.4 316.5,860.3 319.9,860.0 323.4,859.7 326.8,859.8 330.2,859.7 333.7,859.5 337.1,859.5 340.5,859.5 344.0,859.1 347.4,859.0 350.9,858.8 354.3,858.8 357.7,858.8 361.2,858.9 364.6,859.1 368.0,859.4 371.5,859.5 374.9,859.3 378.4,859.3 381.8,859.3 385.2,859.2 388.7,859.2 392.1,859.5 395.5,859.6 399.0,859.8 402.4,859.8 405.9,859.8 409.3,860.0 412.7,860.0 416.2,860.0 419.6,860.1 423.1,860.1 426.5,860.3 429.9,860.3 433.4,860.5 436.8,860.2 440.2,859.6 443.7,858.8 447.1,857.9 450.6,856.7 454.0,855.7 457.4,854.4 460.9,852.8 464.3,851.3 467.7,849.7 471.2,847.8 474.6,845.6 478.1,843.2 481.5,840.5 484.9,837.5 488.4,834.2 491.8,830.9 495.3,827.3 498.7,823.2 502.1,819.0 505.6,814.3 509.0,809.4 512.4,804.0 515.9,798.3 519.3,792.5 522.8,786.7 526.2,780.4 529.6,774.2 533.1,767.8 536.5,761.4 539.9,754.8 543.4,748.4 546.8,742.0 550.3,736.2 553.7,730.4 557.1,724.7 560.6,719.4 564.0,714.3 567.4,709.3 570.9,704.7 574.3,700.6 577.8,696.6 581.2,693.0 584.6,689.6 588.1,686.6 591.5,683.5 595.0,681.0 598.4,678.8 601.8,676.6 605.3,674.7 608.7,673.1 612.1,671.4 615.6,670.1 619.0,668.9 622.5,667.8 625.9,666.9 629.3,666.2 632.8,665.6 636.2,665.1 639.6,664.5 643.1,664.3 646.5,664.3 650.0,664.2 653.4,664.5 656.8,665.1 660.3,665.9 663.7,666.9 667.2,668.1 670.6,669.7 674.0,671.4 677.5,672.9 680.9,674.8 684.3,676.9 687.8,679.3 691.2,681.7 694.7,684.4 698.1,687.2 701.5,690.0 705.0,692.4 708.4,695.4 711.8,698.6 715.3,701.7 718.7,704.9 722.2,708.5 725.6,711.8 729.0,715.0 732.5,718.4 735.9,721.8 739.3,725.2 742.8,728.6 746.2,732.1 749.7,735.3 753.1,738.5 756.5,741.8 760.0,745.1 763.4,748.0 766.9,751.1 770.3,754.1 773.7,756.9 777.2,759.8 780.6,762.8 784.0,765.4 787.5,767.9 790.9,770.2 794.4,772.4 797.8,774.4 801.2,776.5 804.7,778.3 808.1,780.1 811.5,781.6 815.0,782.9 818.4,784.2 821.9,785.2 825.3,785.8 828.7,786.0 832.2,786.2 835.6,785.8 839.1,785.3 842.5,784.8 845.9,784.2 849.4,783.5 852.8,782.3 856.2,780.9 859.7,779.5 863.1,778.3 866.6,776.4 870.0,774.9 873.4,772.9 876.9,771.0 880.3,769.0 883.7,766.8 887.2,764.2 890.6,762.5 894.1,760.0 897.5,757.9 900.9,756.2 904.4,754.2 907.8,752.6 911.2,750.8 914.7,748.5 918.1,746.5 921.6,744.9 925.0,742.1 928.4,740.4 931.9,738.3 935.3,736.1 938.8,733.8 942.2,731.1 945.6,728.7 949.1,726.1 952.5,723.5 955.9,720.6 959.4,718.1 962.8,714.8 966.3,711.9 969.7,709.1 973.1,706.3 976.6,703.4 980.0,700.4 983.4,697.5 986.9,695.0 990.3,691.2 993.8,688.0 997.2,685.0 1000.6,681.5 1004.1,677.6 1007.5,675.4 1011.0,672.5 1014.4,669.3 1017.8,666.2 1021.3,663.0 1024.7,659.2 1028.1,655.3 1031.6,651.7 1035.0,647.8 1038.5,644.3 1041.9,640.5 1045.3,637.0 1048.8,633.4 1052.2,630.3 1055.6,625.3 1059.1,621.6 1062.5,617.3 1066.0,612.9 1069.4,607.7 1072.8,603.9 1076.3,600.1 1079.7,596.2 1083.1,591.9 1086.6,587.7 1090.0,583.5 1093.5,578.6 1096.9,573.8 1100.3,568.7 1103.8,564.3 1107.2,559.1 1110.7,554.2 1114.1,549.8 1117.5,545.5 1121.0,541.2 1124.4,537.3 1127.8,532.9 1131.3,527.5 1134.7,523.5 1138.2,519.4 1141.6,515.1 1145.0,510.7 1148.5,507.5 1151.9,503.7 1155.3,500.2 1158.8,495.4 1162.2,491.8 1165.7,487.4 1169.1,482.2 1172.5,475.8 1176.0,470.5 1179.4,464.8 1182.9,461.0 1186.3,457.4 1189.7,454.3 1193.2,451.1 1196.6,448.4 1200.0,443.7 1203.5,438.7 1206.9,433.5 1210.4,429.6 1213.8,424.0 1217.2,420.4 1220.7,416.6 1224.1,414.3 1227.5,409.9 1231.0,404.9 1234.4,400.4 1237.9,395.8 1241.3,391.4 1244.7,386.6 1248.2,384.5 1251.6,380.3 1255.0,376.8 1258.5,373.1 1261.9,369.8 1265.4,365.7 1268.8,362.6 1272.2,358.9 1275.7,354.7 1279.1,352.1 1282.6,348.8"/>
<polyline stroke="#ec7c9c" points="137.7,867.3 141.1,867.3 144.6,867.3 148.0,867.4 151.5,867.4 154.9,867.3 158.3,867.2 161.8,867.0 165.2,866.9 168.6,866.7 172.1,866.7 175.5,866.6 179.0,866.6 182.4,866.5 185.8,866.5 189.3,866.2 192.7,865.9 196.1,865.8 199.6,865.5 203.0,865.1 206.5,865.0 209.9,865.0 213.3,864.8 216.8,864.6 220.2,864.8 223.6,864.6 227.1,864.5 230.5,864.5 234.0,864.5 237.4,864.4 240.8,864.4 244.3,864.2 247.7,864.3 251.2,864.2 254.6,863.9 258.0,863.8 261.5,863.6 264.9,863.3 268.3,862.9 271.8,862.9 275.2,862.5 278.7,862.1 282.1,861.8 285.5,861.3 289.0,860.8 292.4,860.4 295.8,859.9 299.3,859.6 302.7,859.2 306.2,858.7 309.6,858.3 313.0,857.9 316.5,857.5 319.9,857.3 323.4,857.1 326.8,856.8 330.2,856.6 333.7,856.4 337.1,856.0 340.5,855.9 344.0,855.7 347.4,855.6 350.9,855.4 354.3,855.4 357.7,855.4 361.2,855.2 364.6,855.2 368.0,855.2 371.5,855.1 374.9,855.0 378.4,855.0 381.8,855.1 385.2,855.4 388.7,855.8 392.1,856.4 395.5,857.0 399.0,857.6 402.4,858.2 405.9,858.9 409.3,859.4 412.7,860.0 416.2,860.6 419.6,860.9 423.1,861.2 426.5,861.4 429.9,861.6 433.4,861.5 436.8,861.4 440.2,860.7 443.7,860.1 447.1,859.5 450.6,858.8 454.0,857.6 457.4,856.5 460.9,855.0 464.3,853.2 467.7,851.5 471.2,849.6 474.6,847.3 478.1,845.0 481.5,842.4 484.9,839.6 488.4,836.8 491.8,833.7 495.3,830.2 498.7,826.7 502.1,822.7 505.6,818.0 509.0,813.4 512.4,808.3 515.9,803.0 519.3,797.3 522.8,791.8 526.2,785.8 529.6,779.8 533.1,773.7 536.5,767.6 539.9,761.3 543.4,754.9 546.8,748.6 550.3,742.3 553.7,736.4 557.1,730.9 560.6,725.8 564.0,720.8 567.4,716.4 570.9,712.0 574.3,707.6 577.8,703.6 581.2,699.9 584.6,696.4 588.1,693.5 591.5,690.9 595.0,688.4 598.4,686.1 601.8,683.8 605.3,681.9 608.7,680.2 612.1,678.7 615.6,677.5 619.0,676.6 622.5,675.4 625.9,674.4 629.3,673.5 632.8,672.8 636.2,672.0 639.6,671.6 643.1,671.3 646.5,671.3 650.0,671.4 653.4,671.8 656.8,672.4 660.3,673.4 663.7,674.5 667.2,675.6 670.6,677.0 674.0,678.6 677.5,680.2 680.9,682.0 684.3,684.3 687.8,686.6 691.2,689.0 694.7,691.8 698.1,694.5 701.5,697.4 705.0,700.3 708.4,703.4 711.8,706.7 715.3,710.0 718.7,713.3 722.2,716.7 725.6,720.4 729.0,723.6 732.5,727.1 735.9,730.5 739.3,734.0 742.8,737.5 746.2,741.0 749.7,744.6 753.1,748.0 756.5,751.4 760.0,754.5 763.4,757.7 766.9,760.7 770.3,763.5 773.7,766.4 777.2,769.4 780.6,772.2 784.0,774.9 787.5,777.6 790.9,780.1 794.4,782.3 797.8,784.3 801.2,786.3 804.7,788.2 808.1,789.9 811.5,791.4 815.0,792.8 818.4,793.9 821.9,794.7 825.3,795.6 828.7,796.0 832.2,796.2 835.6,795.9 839.1,795.6 842.5,795.0 845.9,794.3 849.4,793.7 852.8,793.3 856.2,792.4 859.7,790.8 863.1,789.4 866.6,787.8 870.0,786.1 873.4,783.9 876.9,782.5 880.3,780.8 883.7,779.2 887.2,776.8 890.6,775.1 894.1,772.7 897.5,770.6 900.9,768.3 904.4,766.6 907.8,765.0 911.2,762.8 914.7,760.4 918.1,758.2 921.6,755.9 925.0,753.0 928.4,750.3 931.9,747.8 935.3,745.0 938.8,742.4 942.2,740.0 945.6,737.7 949.1,734.8 952.5,731.8 955.9,728.5 959.4,724.6 962.8,720.9 966.3,717.4 969.7,713.5 973.1,709.8 976.6,706.3 980.0,702.5 983.4,699.2 986.9,694.9 990.3,691.3 993.8,686.8 997.2,682.6 1000.6,677.2 1004.1,673.1 1007.5,668.4 1011.0,663.6 1014.4,658.7 1017.8,654.2 1021.3,649.2 1024.7,643.3 1028.1,638.3 1031.6,633.0 1035.0,628.3 1038.5,623.1 1041.9,618.0 1045.3,612.0 1048.8,606.3 1052.2,600.0 1055.6,593.5 1059.1,587.7 1062.5,582.6 1066.0,576.8 1069.4,571.4 1072.8,565.5 1076.3,559.1 1079.7,553.1 1083.1,547.6 1086.6,540.6 1090.0,534.1 1093.5,528.4 1096.9,522.6 1100.3,515.5 1103.8,510.2 1107.2,505.9 1110.7,499.5 1114.1,493.1 1117.5,487.3 1121.0,480.6 1124.4,473.0 1127.8,466.8 1131.3,460.6 1134.7,454.7 1138.2,448.0 1141.6,441.7 1145.0,435.1 1148.5,428.5 1151.9,424.4 1155.3,419.6 1158.8,414.7 1162.2,409.6 1165.7,405.5 1169.1,397.2 1172.5,391.1 1176.0,386.0 1179.4,380.8 1182.9,374.9 1186.3,371.3 1189.7,366.3 1193.2,361.4 1196.6,357.7 1200.0,353.3 1203.5,348.3 1206.9,345.0 1210.4,339.5 1213.8,335.0 1217.2,329.2 1220.7,324.5 1224.1,320.4 1227.5,317.3 1231.0,311.9 1234.4,309.7 1237.9,307.6 1241.3,303.4 1244.7,298.6 1248.2,297.3 1251.6,293.5 1255.0,289.5 1258.5,286.6 1261.9,285.5 1265.4,281.8 1268.8,278.6 1272.2,275.5 1275.7,273.6 1279.1,270.8 1282.6,268.1"/>
<polyline stroke="#a8c050" points="137.7,870.0 141.1,870.0 144.6,869.9 148.0,869.9 151.5,869.7 154.9,869.6 158.3,869.5 161.8,869.4 165.2,869.1 168.6,869.1 172.1,868.9 175.5,868.8 179.0,868.6 182.4,868.7 185.8,868.5 189.3,868.5 192.7,868.6 196.1,868.4 199.6,868.3 203.0,868.1 206.5,867.9 209.9,867.7 213.3,867.6 216.8,867.4 220.2,867.5 223.6,867.4 227.1,867.4 230.5,867.2 234.0,867.0 237.4,866.8 240.8,866.6 244.3,866.4 247.7,866.5 251.2,866.3 254.6,866.2 258.0,866.0 261.5,865.7 264.9,865.2 268.3,865.0 271.8,864.7 275.2,864.4 278.7,864.3 282.1,864.1 285.5,863.9 289.0,863.6 292.4,863.5 295.8,863.1 299.3,862.9 302.7,862.6 306.2,862.4 309.6,862.0 313.0,861.7 316.5,861.4 319.9,861.2 323.4,861.1 326.8,861.0 330.2,860.8 333.7,861.0 337.1,860.9 340.5,860.8 344.0,860.6 347.4,860.8 350.9,860.5 354.3,860.4 357.7,860.4 361.2,860.7 364.6,860.6 368.0,860.8 371.5,860.8 374.9,860.9 378.4,860.7 381.8,860.7 385.2,860.7 388.7,860.9 392.1,861.0 395.5,861.2 399.0,861.1 402.4,861.2 405.9,861.1 409.3,861.2 412.7,861.3 416.2,861.2 419.6,861.4 423.1,861.4 426.5,861.3 429.9,861.5 433.4,861.8 436.8,861.6 440.2,861.0 443.7,860.5 447.1,859.6 450.6,858.5 454.0,857.5 457.4,856.5 460.9,855.3 464.3,853.8 467.7,852.5 471.2,850.7 474.6,848.9 478.1,846.9 481.5,844.7 484.9,842.1 488.4,839.7 491.8,836.7 495.3,833.5 498.7,830.1 502.1,826.2 505.6,822.1 509.0,817.7 512.4,813.0 515.9,807.8 519.3,802.7 522.8,797.4 526.2,792.0 529.6,786.3 533.1,780.7 536.5,774.8 539.9,768.7 543.4,762.7 546.8,756.8 550.3,751.0 553.7,745.5 557.1,740.2 560.6,735.0 564.0,730.0 567.4,725.4 570.9,721.2 574.3,717.2 577.8,713.4 581.2,710.2 584.6,706.9 588.1,703.7 591.5,701.0 595.0,698.6 598.4,696.0 601.8,693.8 605.3,692.0 608.7,690.2 612.1,688.5 615.6,687.4 619.0,686.1 622.5,685.1 625.9,684.2 629.3,683.6 632.8,682.7 636.2,682.4 639.6,681.7 643.1,681.3 646.5,681.0 650.0,681.0 653.4,681.0 656.8,681.4 660.3,682.0 663.7,682.8 667.2,683.6 670.6,684.7 674.0,685.8 677.5,687.2 680.9,688.7 684.3,690.3 687.8,691.9 691.2,693.7 694.7,695.7 698.1,697.7 701.5,699.8 705.0,702.0 708.4,704.2 711.8,706.3 715.3,708.7 718.7,711.0 722.2,713.6 725.6,716.3 729.0,718.9 732.5,721.5 735.9,724.1 739.3,726.6 742.8,728.9 746.2,731.5 749.7,733.9 753.1,736.3 756.5,738.8 760.0,741.4 763.4,743.6 766.9,745.9 770.3,748.0 773.7,750.0 777.2,751.9 780.6,754.0 784.0,755.9 787.5,757.8 790.9,759.8 794.4,761.5 797.8,763.0 801.2,764.7 804.7,766.2 808.1,767.5 811.5,768.6 815.0,769.9 818.4,770.6 821.9,771.4 825.3,772.0 828.7,772.3 832.2,772.2 835.6,772.0 839.1,771.4 842.5,770.7 845.9,769.9 849.4,768.9 852.8,767.7 856.2,766.5 859.7,764.9 863.1,763.5 866.6,761.8 870.0,760.2 873.4,758.3 876.9,756.2 880.3,753.7 883.7,751.5 887.2,749.2 890.6,747.3 894.1,745.7 897.5,744.0 900.9,742.1 904.4,740.5 907.8,738.5 911.2,735.9 914.7,733.8 918.1,731.9 921.6,728.8 925.0,726.1 928.4,724.0 931.9,721.4 935.3,718.8 938.8,716.6 942.2,714.6 945.6,712.3 949.1,710.1 952.5,707.5 955.9,705.0 959.4,702.3 962.8,699.5 966.3,696.6 969.7,693.4 973.1,690.7 976.6,687.2 980.0,683.4 983.4,680.6 986.9,677.7 990.3,674.7 993.8,671.8 997.2,669.5 1000.6,666.4 1004.1,663.4 1007.5,660.9 1011.0,657.7 1014.4,654.8 1017.8,651.1 1021.3,648.1 1024.7,643.4 1028.1,639.0 1031.6,634.3 1035.0,631.0 1038.5,626.9 1041.9,623.6 1045.3,620.5 1048.8,617.0 1052.2,613.4 1055.6,608.8 1059.1,605.9 1062.5,602.0 1066.0,599.2 1069.4,595.2 1072.8,591.5 1076.3,587.3 1079.7,583.6 1083.1,578.3 1086.6,574.0 1090.0,569.5 1093.5,566.3 1096.9,561.7 1100.3,557.6 1103.8,554.2 1107.2,551.3 1110.7,545.4 1114.1,542.0 1117.5,538.4 1121.0,533.0 1124.4,528.2 1127.8,524.1 1131.3,519.7 1134.7,514.9 1138.2,510.3 1141.6,505.6 1145.0,502.8 1148.5,497.7 1151.9,493.5 1155.3,490.4 1158.8,485.4 1162.2,480.9 1165.7,475.8 1169.1,472.0 1172.5,466.2 1176.0,462.8 1179.4,458.3 1182.9,455.2 1186.3,450.4 1189.7,446.8 1193.2,441.9 1196.6,437.5 1200.0,433.1 1203.5,428.7 1206.9,425.1 1210.4,422.4 1213.8,418.4 1217.2,414.3 1220.7,410.2 1224.1,406.7 1227.5,403.0 1231.0,397.6 1234.4,395.4 1237.9,392.0 1241.3,388.3 1244.7,384.8 1248.2,381.9 1251.6,377.3 1255.0,372.7 1258.5,366.8 1261.9,362.0 1265.4,357.8 1268.8,353.3 1272.2,351.4 1275.7,350.4 1279.1,346.9 1282.6,344.3"/>
<polyline stroke="#6ab05a" points="137.7,871.5 141.1,871.5 144.6,871.5 148.0,871.6 151.5,871.5 154.9,871.3 158.3,871.2 161.8,871.2 165.2,871.0 168.6,871.0 172.1,871.0 175.5,870.7 179.0,870.3 182.4,870.1 185.8,869.9 189.3,869.6 192.7,869.8 196.1,869.9 199.6,869.7 203.0,869.4 206.5,869.5 209.9,869.3 213.3,869.1 216.8,869.2 220.2,869.2 223.6,869.0 227.1,868.8 230.5,868.9 234.0,868.7 237.4,868.6 240.8,868.6 244.3,868.5 247.7,868.1 251.2,868.0 254.6,867.6 258.0,867.3 261.5,866.8 264.9,866.5 268.3,866.1 271.8,866.0 275.2,865.6 278.7,865.2 282.1,864.4 285.5,864.0 289.0,863.4 292.4,862.7 295.8,862.2 299.3,862.0 302.7,861.4 306.2,860.9 309.6,860.5 313.0,860.0 316.5,859.3 319.9,858.9 323.4,858.4 326.8,858.0 330.2,857.6 333.7,857.4 337.1,857.2 340.5,856.9 344.0,856.6 347.4,856.6 350.9,856.6 354.3,856.3 357.7,856.2 361.2,856.1 364.6,855.9 368.0,855.9 371.5,856.0 374.9,856.3 378.4,856.8 381.8,857.2 385.2,857.6 388.7,857.9 392.1,858.4 395.5,858.9 399.0,859.4 402.4,859.8 405.9,860.4 409.3,860.9 412.7,861.3 416.2,861.7 419.6,862.2 423.1,862.4 426.5,862.6 429.9,862.7 433.4,862.7 436.8,862.4 440.2,862.0 443.7,861.6 447.1,861.0 450.6,860.3 454.0,859.5 457.4,858.5 460.9,857.4 464.3,856.4 467.7,855.0 471.2,853.4 474.6,851.8 478.1,849.9 481.5,847.7 484.9,845.5 488.4,843.2 491.8,840.6 495.3,837.6 498.7,834.5 502.1,831.0 505.6,827.4 509.0,823.3 512.4,819.1 515.9,814.6 519.3,809.8 522.8,804.7 526.2,799.6 529.6,794.3 533.1,788.8 536.5,783.3 539.9,777.9 543.4,772.2 546.8,766.6 550.3,761.3 553.7,755.9 557.1,750.6 560.6,745.7 564.0,741.0 567.4,736.5 570.9,732.1 574.3,728.0 577.8,724.3 581.2,720.7 584.6,717.4 588.1,714.6 591.5,712.0 595.0,709.4 598.4,707.1 601.8,705.2 605.3,703.3 608.7,701.7 612.1,700.3 615.6,699.0 619.0,697.7 622.5,696.8 625.9,695.8 629.3,694.9 632.8,694.4 636.2,693.7 639.6,693.1 643.1,692.6 646.5,692.4 650.0,692.1 653.4,692.4 656.8,692.7 660.3,693.0 663.7,693.7 667.2,694.7 670.6,695.7 674.0,696.7 677.5,697.9 680.9,699.2 684.3,700.5 687.8,701.9 691.2,703.7 694.7,705.5 698.1,707.3 701.5,709.2 705.0,711.0 708.4,713.0 711.8,715.0 715.3,717.3 718.7,719.4 722.2,721.8 725.6,724.0 729.0,726.1 732.5,728.3 735.9,730.7 739.3,733.1 742.8,735.5 746.2,738.1 749.7,740.3 753.1,742.7 756.5,744.8 760.0,746.9 763.4,748.9 766.9,751.0 770.3,753.1 773.7,755.2 777.2,757.2 780.6,758.9 784.0,760.6 787.5,762.2 790.9,763.8 794.4,765.2 797.8,766.8 801.2,768.1 804.7,769.6 808.1,770.8 811.5,771.9 815.0,772.9 818.4,773.6 821.9,774.1 825.3,774.6 828.7,775.0 832.2,775.0 835.6,774.9 839.1,774.6 842.5,773.8 845.9,773.4 849.4,772.6 852.8,771.8 856.2,771.1 859.7,770.0 863.1,768.8 866.6,767.7 870.0,766.2 873.4,764.4 876.9,762.7 880.3,760.7 883.7,758.8 887.2,757.4 890.6,755.7 894.1,753.8 897.5,752.3 900.9,750.8 904.4,748.8 907.8,746.8 911.2,745.1 914.7,743.1 918.1,741.2 921.6,739.3 925.0,737.4 928.4,735.4 931.9,734.0 935.3,731.7 938.8,729.8 942.2,727.1 945.6,724.3 949.1,720.9 952.5,718.1 955.9,715.4 959.4,712.9 962.8,710.7 966.3,708.3 969.7,706.1 973.1,703.3 976.6,700.6 980.0,697.0 983.4,694.2 986.9,690.1 990.3,685.8 993.8,683.1 997.2,680.4 1000.6,677.4 1004.1,674.9 1007.5,672.6 1011.0,668.7 1014.4,664.7 1017.8,660.3 1021.3,656.5 1024.7,652.5 1028.1,648.6 1031.6,645.0 1035.0,641.2 1038.5,637.3 1041.9,633.0 1045.3,629.5 1048.8,625.0 1052.2,620.3 1055.6,615.9 1059.1,612.4 1062.5,606.9 1066.0,602.9 1069.4,600.6 1072.8,596.3 1076.3,590.9 1079.7,586.8 1083.1,581.4 1086.6,575.0 1090.0,570.1 1093.5,566.7 1096.9,562.7 1100.3,558.5 1103.8,553.7 1107.2,549.5 1110.7,544.0 1114.1,538.4 1117.5,534.7 1121.0,531.3 1124.4,526.0 1127.8,520.8 1131.3,516.5 1134.7,511.9 1138.2,506.0 1141.6,501.8 1145.0,496.8 1148.5,491.8 1151.9,485.6 1155.3,480.5 1158.8,475.3 1162.2,470.5 1165.7,465.0 1169.1,460.3 1172.5,455.3 1176.0,450.8 1179.4,446.2 1182.9,442.3 1186.3,438.8 1189.7,435.3 1193.2,430.9 1196.6,427.6 1200.0,423.5 1203.5,418.0 1206.9,414.0 1210.4,409.5 1213.8,406.1 1217.2,402.1 1220.7,398.2 1224.1,393.5 1227.5,389.5 1231.0,385.1 1234.4,382.2 1237.9,379.5 1241.3,377.5 1244.7,375.3 1248.2,370.9 1251.6,367.5 1255.0,362.8 1258.5,359.7 1261.9,355.3 1265.4,353.8 1268.8,350.0 1272.2,349.2 1275.7,345.2 1279.1,342.7 1282.6,339.0"/>
<polyline stroke="#5a80d8" points="137.7,868.4 141.1,868.2 144.6,868.2 148.0,868.0 151.5,867.8 154.9,867.7 158.3,867.4 161.8,867.3 165.2,867.2 168.6,867.1 172.1,866.8 175.5,866.6 179.0,865.7 182.4,865.2 185.8,864.5 189.3,863.9 192.7,863.4 196.1,863.2 199.6,862.5 203.0,862.1 206.5,861.5 209.9,860.8 213.3,860.3 216.8,859.9 220.2,859.2 223.6,858.4 227.1,857.8 230.5,857.0 234.0,856.1 237.4,855.4 240.8,854.7 244.3,853.9 247.7,853.2 251.2,852.6 254.6,852.1 258.0,851.6 261.5,851.2 264.9,850.7 268.3,850.2 271.8,849.8 275.2,849.4 278.7,849.0 282.1,848.8 285.5,848.5 289.0,848.2 292.4,847.9 295.8,847.8 299.3,847.6 302.7,847.5 306.2,847.3 309.6,847.6 313.0,847.6 316.5,847.6 319.9,847.7 323.4,847.9 326.8,848.2 330.2,848.3 333.7,848.6 337.1,848.7 340.5,848.9 344.0,849.1 347.4,849.3 350.9,849.6 354.3,850.0 357.7,850.4 361.2,850.7 364.6,851.1 368.0,851.4 371.5,851.8 374.9,852.2 378.4,852.6 381.8,852.8 385.2,853.1 388.7,853.4 392.1,853.7 395.5,853.8 399.0,854.5 402.4,854.5 405.9,854.8 409.3,855.2 412.7,855.5 416.2,855.2 419.6,855.5 423.1,855.7 426.5,855.7 429.9,855.7 433.4,856.1 436.8,856.0 440.2,855.5 443.7,854.8 447.1,854.5 450.6,853.7 454.0,853.1 457.4,852.4 460.9,851.7 464.3,850.7 467.7,850.0 471.2,848.7 474.6,847.4 478.1,846.1 481.5,844.6 484.9,842.7 488.4,840.9 491.8,839.0 495.3,836.7 498.7,834.3 502.1,831.7 505.6,828.8 509.0,825.7 512.4,822.3 515.9,818.7 519.3,814.9 522.8,810.8 526.2,806.4 529.6,801.9 533.1,797.6 536.5,792.8 539.9,788.3 543.4,783.8 546.8,779.3 550.3,774.6 553.7,770.0 557.1,765.5 560.6,761.3 564.0,757.2 567.4,753.2 570.9,749.6 574.3,745.9 577.8,742.6 581.2,739.5 584.6,736.6 588.1,734.1 591.5,731.8 595.0,729.4 598.4,727.5 601.8,725.7 605.3,723.9 608.7,722.4 612.1,721.0 615.6,719.7 619.0,718.5 622.5,717.6 625.9,716.8 629.3,716.1 632.8,715.4 636.2,714.7 639.6,714.3 643.1,713.8 646.5,713.6 650.0,713.8 653.4,714.2 656.8,714.6 660.3,715.4 663.7,716.3 667.2,717.4 670.6,718.8 674.0,720.1 677.5,721.7 680.9,723.4 684.3,725.2 687.8,726.9 691.2,729.2 694.7,731.4 698.1,733.8 701.5,736.2 705.0,738.8 708.4,741.4 711.8,744.2 715.3,746.9 718.7,749.8 722.2,752.8 725.6,755.7 729.0,758.8 732.5,761.7 735.9,764.6 739.3,767.6 742.8,770.7 746.2,773.4 749.7,776.3 753.1,779.3 756.5,782.2 760.0,785.0 763.4,787.9 766.9,790.8 770.3,793.3 773.7,795.8 777.2,798.2 780.6,800.7 784.0,803.0 787.5,805.3 790.9,807.4 794.4,809.4 797.8,811.1 801.2,812.7 804.7,814.2 808.1,815.5 811.5,816.8 815.0,818.0 818.4,819.0 821.9,819.7 825.3,820.4 828.7,820.8 832.2,821.0 835.6,821.0 839.1,821.0 842.5,820.8 845.9,820.6 849.4,820.2 852.8,819.7 856.2,819.2 859.7,818.5 863.1,818.0 866.6,817.6 870.0,817.0 873.4,816.6 876.9,816.0 880.3,815.4 883.7,814.6 887.2,814.0 890.6,813.1 894.1,812.1 897.5,810.9 900.9,809.9 904.4,808.9 907.8,807.7 911.2,806.5 914.7,805.3 918.1,803.9 921.6,802.9 925.0,801.5 928.4,800.5 931.9,799.0 935.3,797.7 938.8,795.7 942.2,793.5 945.6,791.7 949.1,789.8 952.5,787.8 955.9,785.1 959.4,782.9 962.8,780.5 966.3,777.9 969.7,775.5 973.1,773.8 976.6,771.5 980.0,768.9 983.4,766.5 986.9,763.5 990.3,760.2 993.8,756.9 997.2,754.3 1000.6,750.4 1004.1,746.0 1007.5,742.6 1011.0,738.7 1014.4,734.4 1017.8,729.9 1021.3,726.4 1024.7,722.1 1028.1,717.7 1031.6,711.3 1035.0,706.9 1038.5,701.8 1041.9,695.9 1045.3,690.2 1048.8,684.9 1052.2,679.5 1055.6,673.8 1059.1,668.1 1062.5,661.9 1066.0,656.3 1069.4,648.9 1072.8,642.3 1076.3,636.0 1079.7,629.5 1083.1,622.5 1086.6,615.9 1090.0,608.4 1093.5,601.5 1096.9,593.9 1100.3,586.7 1103.8,578.4 1107.2,571.1 1110.7,562.4 1114.1,556.3 1117.5,549.8 1121.0,544.4 1124.4,537.3 1127.8,531.5 1131.3,524.0 1134.7,516.7 1138.2,509.6 1141.6,502.0 1145.0,494.7 1148.5,487.6 1151.9,480.0 1155.3,473.0 1158.8,466.8 1162.2,460.4 1165.7,454.1 1169.1,448.6 1172.5,443.3 1176.0,436.8 1179.4,430.1 1182.9,423.9 1186.3,419.1 1189.7,414.3 1193.2,410.2 1196.6,406.2 1200.0,401.6 1203.5,396.7 1206.9,391.4 1210.4,385.7 1213.8,382.0 1217.2,377.8 1220.7,373.1 1224.1,370.0 1227.5,367.2 1231.0,363.6 1234.4,361.6 1237.9,360.4 1241.3,357.4 1244.7,354.4 1248.2,351.4 1251.6,347.8 1255.0,344.6 1258.5,341.1 1261.9,339.2 1265.4,337.8 1268.8,337.1 1272.2,333.8 1275.7,331.5 1279.1,329.3 1282.6,326.2"/>
<polyline stroke="#3ec4d0" points="137.7,869.4 141.1,869.3 144.6,869.3 148.0,869.1 151.5,868.8 154.9,868.8 158.3,868.7 161.8,868.7 165.2,868.5 168.6,868.5 172.1,868.5 175.5,868.4 179.0,867.9 182.4,867.7 185.8,867.4 189.3,867.0 192.7,866.9 196.1,866.8 199.6,866.7 203.0,866.6 206.5,866.4 209.9,866.1 213.3,865.7 216.8,865.5 220.2,865.0 223.6,864.5 227.1,864.2 230.5,864.0 234.0,863.7 237.4,863.5 240.8,863.0 244.3,862.4 247.7,861.7 251.2,860.9 254.6,859.9 258.0,859.1 261.5,858.0 264.9,856.9 268.3,855.7 271.8,854.6 275.2,853.3 278.7,852.2 282.1,851.0 285.5,849.9 289.0,848.6 292.4,847.5 295.8,846.3 299.3,845.2 302.7,844.2 306.2,843.2 309.6,842.3 313.0,841.5 316.5,840.9 319.9,840.2 323.4,839.7 326.8,839.2 330.2,838.5 333.7,838.1 337.1,837.7 340.5,837.4 344.0,837.1 347.4,836.9 350.9,836.7 354.3,836.8 357.7,836.8 361.2,836.8 364.6,836.9 368.0,837.2 371.5,837.2 374.9,837.5 378.4,837.9 381.8,838.4 385.2,838.9 388.7,839.7 392.1,840.5 395.5,841.1 399.0,841.9 402.4,842.5 405.9,843.2 409.3,843.8 412.7,844.4 416.2,844.9 419.6,845.3 423.1,845.5 426.5,845.8 429.9,845.9 433.4,845.8 436.8,845.9 440.2,845.6 443.7,845.1 447.1,844.6 450.6,844.0 454.0,843.5 457.4,842.8 460.9,842.0 464.3,841.2 467.7,840.2 471.2,839.1 474.6,838.0 478.1,836.8 481.5,835.5 484.9,834.1 488.4,832.2 491.8,830.2 495.3,828.0 498.7,825.9 502.1,823.4 505.6,820.7 509.0,818.0 512.4,815.0 515.9,811.5 519.3,807.9 522.8,804.3 526.2,800.3 529.6,796.3 533.1,792.1 536.5,788.0 539.9,783.7 543.4,779.4 546.8,775.0 550.3,770.9 553.7,766.6 557.1,762.5 560.6,758.4 564.0,754.7 567.4,750.8 570.9,747.3 574.3,744.1 577.8,741.1 581.2,738.2 584.6,735.6 588.1,733.4 591.5,731.1 595.0,729.1 598.4,727.2 601.8,725.5 605.3,724.0 608.7,722.4 612.1,721.1 615.6,719.7 619.0,718.8 622.5,717.8 625.9,717.1 629.3,716.6 632.8,716.0 636.2,715.4 639.6,714.9 643.1,714.5 646.5,714.0 650.0,713.7 653.4,713.5 656.8,713.6 660.3,713.6 663.7,713.9 667.2,714.3 670.6,714.8 674.0,715.2 677.5,715.6 680.9,716.0 684.3,716.7 687.8,717.3 691.2,717.9 694.7,718.6 698.1,719.4 701.5,720.3 705.0,721.1 708.4,722.0 711.8,723.1 715.3,723.9 718.7,724.7 722.2,725.8 725.6,726.7 729.0,727.8 732.5,728.9 735.9,730.0 739.3,730.8 742.8,731.7 746.2,732.7 749.7,733.8 753.1,734.7 756.5,736.0 760.0,737.1 763.4,738.0 766.9,739.0 770.3,740.1 773.7,740.8 777.2,741.7 780.6,742.6 784.0,743.3 787.5,744.0 790.9,744.9 794.4,745.4 797.8,746.1 801.2,746.9 804.7,747.8 808.1,748.5 811.5,749.4 815.0,749.9 818.4,750.4 821.9,750.6 825.3,750.6 828.7,750.5 832.2,750.1 835.6,749.5 839.1,748.6 842.5,747.5 845.9,746.2 849.4,744.5 852.8,742.7 856.2,740.4 859.7,737.9 863.1,735.0 866.6,732.4 870.0,729.3 873.4,726.3 876.9,723.4 880.3,720.4 883.7,717.0 887.2,713.6 890.6,710.5 894.1,707.1 897.5,703.7 900.9,700.8 904.4,698.3 907.8,694.9 911.2,692.3 914.7,689.3 918.1,686.1 921.6,683.4 925.0,680.6 928.4,677.3 931.9,674.4 935.3,671.9 938.8,668.5 942.2,665.8 945.6,662.8 949.1,659.6 952.5,656.5 955.9,653.5 959.4,650.1 962.8,646.9 966.3,643.9 969.7,640.5 973.1,636.9 976.6,633.9 980.0,631.5 983.4,628.1 986.9,624.2 990.3,621.4 993.8,617.8 997.2,613.4 1000.6,609.9 1004.1,606.8 1007.5,602.4 1011.0,598.7 1014.4,595.2 1017.8,591.9 1021.3,588.8 1024.7,585.3 1028.1,581.5 1031.6,577.7 1035.0,574.4 1038.5,570.3 1041.9,567.6 1045.3,564.1 1048.8,562.0 1052.2,558.6 1055.6,555.1 1059.1,551.3 1062.5,547.7 1066.0,543.6 1069.4,538.8 1072.8,535.1 1076.3,531.2 1079.7,527.4 1083.1,522.7 1086.6,519.1 1090.0,515.5 1093.5,512.4 1096.9,509.0 1100.3,504.8 1103.8,501.4 1107.2,498.0 1110.7,493.1 1114.1,489.1 1117.5,485.7 1121.0,483.0 1124.4,479.5 1127.8,475.6 1131.3,472.0 1134.7,468.4 1138.2,462.6 1141.6,458.4 1145.0,454.8 1148.5,451.2 1151.9,447.9 1155.3,445.3 1158.8,442.2 1162.2,439.8 1165.7,434.8 1169.1,430.7 1172.5,426.2 1176.0,421.4 1179.4,416.2 1182.9,412.8 1186.3,408.5 1189.7,406.2 1193.2,401.7 1196.6,398.6 1200.0,395.1 1203.5,390.2 1206.9,385.6 1210.4,381.5 1213.8,377.3 1217.2,373.2 1220.7,371.2 1224.1,367.2 1227.5,365.3 1231.0,362.0 1234.4,358.5 1237.9,355.9 1241.3,353.2 1244.7,348.5 1248.2,344.6 1251.6,341.9 1255.0,337.9 1258.5,333.6 1261.9,330.8 1265.4,326.6 1268.8,322.5 1272.2,316.7 1275.7,313.6 1279.1,309.8 1282.6,306.3"/>
<polyline stroke="#d8b040" points="137.7,871.7 141.1,871.7 144.6,871.8 148.0,871.5 151.5,871.5 154.9,871.4 158.3,871.4 161.8,871.1 165.2,871.1 168.6,870.9 172.1,870.7 175.5,870.6 179.0,870.4 182.4,870.4 185.8,870.3 189.3,870.2 192.7,869.9 196.1,869.8 199.6,869.6 203.0,869.6 206.5,869.5 209.9,869.4 213.3,869.3 216.8,869.2 220.2,869.1 223.6,869.2 227.1,869.1 230.5,868.8 234.0,868.7 237.4,868.5 240.8,868.2 244.3,868.0 247.7,868.1 251.2,867.9 254.6,867.6 258.0,867.4 261.5,867.1 264.9,866.7 268.3,866.5 271.8,866.3 275.2,866.1 278.7,865.8 282.1,865.6 285.5,865.4 289.0,865.0 292.4,864.8 295.8,864.7 299.3,864.4 302.7,864.3 306.2,863.9 309.6,863.6 313.0,863.2 316.5,863.1 319.9,862.8 323.4,862.8 326.8,862.7 330.2,862.7 333.7,862.6 337.1,862.3 340.5,862.2 344.0,862.2 347.4,862.2 350.9,862.2 354.3,862.3 357.7,862.3 361.2,862.0 364.6,861.7 368.0,861.7 371.5,861.6 374.9,861.6 378.4,861.8 381.8,861.9 385.2,862.0 388.7,862.1 392.1,862.4 395.5,862.5 399.0,862.6 402.4,862.8 405.9,862.8 409.3,862.9 412.7,862.8 416.2,862.7 419.6,862.8 423.1,862.8 426.5,862.9 429.9,862.9 433.4,863.0 436.8,862.8 440.2,862.4 443.7,862.0 447.1,861.6 450.6,861.1 454.0,860.5 457.4,859.9 460.9,859.2 464.3,858.3 467.7,857.5 471.2,856.4 474.6,855.2 478.1,853.7 481.5,852.4 484.9,850.4 488.4,848.7 491.8,846.8 495.3,844.8 498.7,842.3 502.1,840.0 505.6,837.1 509.0,834.2 512.4,831.0 515.9,827.7 519.3,823.9 522.8,820.2 526.2,816.2 529.6,812.0 533.1,807.8 536.5,803.5 539.9,798.9 543.4,794.4 546.8,789.8 550.3,785.2 553.7,780.7 557.1,776.4 560.6,771.9 564.0,767.9 567.4,763.9 570.9,760.0 574.3,756.4 577.8,753.1 581.2,750.0 584.6,747.2 588.1,744.6 591.5,742.2 595.0,739.8 598.4,737.7 601.8,735.6 605.3,733.9 608.7,732.4 612.1,731.1 615.6,729.7 619.0,728.8 622.5,727.8 625.9,726.8 629.3,726.0 632.8,725.2 636.2,724.3 639.6,723.7 643.1,723.5 646.5,723.4 650.0,723.7 653.4,724.1 656.8,724.7 660.3,725.3 663.7,726.2 667.2,727.1 670.6,728.3 674.0,729.7 677.5,731.3 680.9,733.0 684.3,734.9 687.8,736.9 691.2,739.1 694.7,741.1 698.1,743.6 701.5,746.0 705.0,748.6 708.4,751.3 711.8,754.0 715.3,756.8 718.7,759.7 722.2,762.4 725.6,765.4 729.0,768.2 732.5,771.1 735.9,774.1 739.3,777.1 742.8,780.0 746.2,783.1 749.7,786.1 753.1,789.1 756.5,792.0 760.0,794.7 763.4,797.3 766.9,800.0 770.3,802.5 773.7,805.0 777.2,807.6 780.6,810.0 784.0,812.1 787.5,814.4 790.9,816.5 794.4,818.3 797.8,820.3 801.2,822.0 804.7,823.6 808.1,825.1 811.5,826.4 815.0,827.5 818.4,828.4 821.9,829.1 825.3,829.8 828.7,830.0 832.2,830.2 835.6,830.2 839.1,829.9 842.5,829.6 845.9,829.4 849.4,829.1 852.8,828.7 856.2,828.1 859.7,827.2 863.1,826.7 866.6,825.7 870.0,824.8 873.4,824.0 876.9,823.1 880.3,821.8 883.7,820.7 887.2,819.4 890.6,818.4 894.1,817.3 897.5,816.1 900.9,814.8 904.4,813.9 907.8,812.7 911.2,811.4 914.7,810.2 918.1,808.7 921.6,807.3 925.0,805.9 928.4,804.6 931.9,802.7 935.3,801.3 938.8,799.3 942.2,797.3 945.6,795.6 949.1,793.7 952.5,791.8 955.9,789.8 959.4,787.8 962.8,784.9 966.3,782.6 969.7,779.4 973.1,776.8 976.6,774.4 980.0,772.1 983.4,769.4 986.9,766.7 990.3,763.7 993.8,760.7 997.2,757.4 1000.6,754.3 1004.1,751.6 1007.5,748.6 1011.0,745.8 1014.4,742.5 1017.8,738.6 1021.3,734.8 1024.7,731.5 1028.1,726.5 1031.6,723.0 1035.0,718.5 1038.5,714.2 1041.9,709.4 1045.3,704.6 1048.8,699.6 1052.2,695.5 1055.6,690.8 1059.1,685.9 1062.5,681.0 1066.0,676.2 1069.4,670.7 1072.8,665.5 1076.3,660.1 1079.7,655.8 1083.1,649.0 1086.6,643.4 1090.0,638.4 1093.5,631.4 1096.9,624.7 1100.3,619.8 1103.8,614.6 1107.2,608.2 1110.7,602.4 1114.1,596.4 1117.5,591.2 1121.0,584.0 1124.4,577.3 1127.8,572.5 1131.3,566.7 1134.7,560.1 1138.2,555.0 1141.6,549.2 1145.0,542.4 1148.5,536.5 1151.9,530.4 1155.3,523.9 1158.8,518.2 1162.2,511.1 1165.7,505.3 1169.1,498.5 1172.5,493.2 1176.0,487.8 1179.4,482.7 1182.9,476.5 1186.3,472.0 1189.7,466.7 1193.2,460.3 1196.6,456.6 1200.0,450.6 1203.5,444.5 1206.9,439.4 1210.4,434.2 1213.8,427.4 1217.2,423.2 1220.7,418.8 1224.1,412.9 1227.5,408.3 1231.0,405.7 1234.4,402.0 1237.9,398.1 1241.3,395.5 1244.7,393.7 1248.2,388.6 1251.6,384.6 1255.0,380.8 1258.5,375.9 1261.9,371.8 1265.4,369.2 1268.8,365.8 1272.2,363.0 1275.7,361.0 1279.1,357.7 1282.6,354.8"/>
<polyline stroke="#5f5f5f" points="137.7,872.8 141.1,872.9 144.6,872.8 148.0,872.9 151.5,872.9 154.9,873.0 158.3,872.7 161.8,872.5 165.2,872.3 168.6,872.0 172.1,871.6 175.5,871.5 179.0,871.5 182.4,871.5 185.8,871.5 189.3,871.5 192.7,871.5 196.1,871.3 199.6,871.2 203.0,871.0 206.5,870.9 209.9,870.8 213.3,870.7 216.8,870.6 220.2,870.6 223.6,870.4 227.1,870.3 230.5,870.4 234.0,870.2 237.4,870.3 240.8,870.1 244.3,870.0 247.7,869.8 251.2,869.7 254.6,869.4 258.0,869.2 261.5,869.1 264.9,868.9 268.3,868.7 271.8,868.5 275.2,868.4 278.7,867.8 282.1,867.6 285.5,867.2 289.0,867.1 292.4,866.8 295.8,866.9 299.3,866.6 302.7,866.4 306.2,866.1 309.6,866.1 313.0,865.7 316.5,865.5 319.9,865.4 323.4,865.2 326.8,864.9 330.2,864.9 333.7,865.0 337.1,865.0 340.5,865.0 344.0,865.1 347.4,865.0 350.9,865.0 354.3,865.0 357.7,865.1 361.2,865.1 364.6,865.1 368.0,865.1 371.5,865.1 374.9,865.0 378.4,864.9 381.8,865.1 385.2,865.2 388.7,865.1 392.1,865.2 395.5,865.4 399.0,865.4 402.4,865.4 405.9,865.5 409.3,865.6 412.7,865.6 416.2,865.6 419.6,865.7 423.1,865.8 426.5,865.7 429.9,865.9 433.4,865.8 436.8,865.8 440.2,865.9 443.7,866.0 447.1,865.9 450.6,866.0 454.0,865.9 457.4,865.7 460.9,865.6 464.3,865.5 467.7,865.3 471.2,865.3 474.6,865.6 478.1,865.6 481.5,865.8 484.9,865.9 488.4,865.9 491.8,865.7 495.3,865.6 498.7,865.4 502.1,865.3 505.6,865.3 509.0,864.8 512.4,864.4 515.9,864.0 519.3,863.5 522.8,862.8 526.2,862.2 529.6,861.2 533.1,860.1 536.5,858.8 539.9,857.1 543.4,855.3 546.8,853.0 550.3,850.4 553.7,847.3 557.1,843.8 560.6,839.6 564.0,835.0 567.4,829.6 570.9,823.7 574.3,817.2 577.8,810.5 581.2,803.3 584.6,796.4 588.1,789.7 591.5,783.1 595.0,777.0 598.4,771.6 601.8,766.5 605.3,761.6 608.7,757.4 612.1,753.8 615.6,750.7 619.0,748.2 622.5,746.2 625.9,744.6 629.3,743.3 632.8,742.0 636.2,741.5 639.6,741.4 643.1,741.8 646.5,742.5 650.0,744.2 653.4,746.1 656.8,748.4 660.3,751.0 663.7,754.2 667.2,757.4 670.6,761.1 674.0,765.2 677.5,769.3 680.9,773.4 684.3,777.9 687.8,782.5 691.2,787.0 694.7,791.8 698.1,796.8 701.5,801.9 705.0,806.5 708.4,811.3 711.8,816.0 715.3,820.7 718.7,825.0 722.2,829.3 725.6,833.4 729.0,837.3 732.5,840.8 735.9,844.1 739.3,847.3 742.8,850.2 746.2,852.8 749.7,854.9 753.1,856.8 756.5,858.1 760.0,859.0 763.4,859.7 766.9,859.9 770.3,860.0 773.7,860.1 777.2,860.0 780.6,859.9 784.0,860.2 787.5,860.1 790.9,860.0 794.4,860.0 797.8,860.3 801.2,860.1 804.7,860.2 808.1,860.3 811.5,860.3 815.0,860.1 818.4,859.8 821.9,859.7 825.3,859.7 828.7,859.7 832.2,859.6 835.6,859.6 839.1,859.3 842.5,859.0 845.9,858.6 849.4,858.5 852.8,858.6 856.2,858.6 859.7,858.2 863.1,858.1 866.6,857.8 870.0,857.0 873.4,856.3 876.9,856.1 880.3,855.8 883.7,855.4 887.2,854.7 890.6,854.6 894.1,854.1 897.5,853.2 900.9,852.3 904.4,852.3 907.8,851.6 911.2,850.9 914.7,850.4 918.1,849.7 921.6,848.9 925.0,848.4 928.4,847.9 931.9,847.0 935.3,846.5 938.8,845.4 942.2,844.6 945.6,843.4 949.1,842.6 952.5,841.3 955.9,840.1 959.4,838.5 962.8,837.1 966.3,836.1 969.7,834.2 973.1,832.7 976.6,831.0 980.0,829.3 983.4,826.3 986.9,824.9 990.3,822.3 993.8,819.5 997.2,816.2 1000.6,813.5 1004.1,810.2 1007.5,808.0 1011.0,804.9 1014.4,801.9 1017.8,798.7 1021.3,795.2 1024.7,791.0 1028.1,787.9 1031.6,784.0 1035.0,779.6 1038.5,776.0 1041.9,771.1 1045.3,766.1 1048.8,761.2 1052.2,756.5 1055.6,750.3 1059.1,744.7 1062.5,738.7 1066.0,733.8 1069.4,727.4 1072.8,721.6 1076.3,716.1 1079.7,709.5 1083.1,702.6 1086.6,695.6 1090.0,687.6 1093.5,679.9 1096.9,672.2 1100.3,663.6 1103.8,655.9 1107.2,649.6 1110.7,641.0 1114.1,633.3 1117.5,624.9 1121.0,617.0 1124.4,607.3 1127.8,599.1 1131.3,590.5 1134.7,581.7 1138.2,573.2 1141.6,564.9 1145.0,556.7 1148.5,548.5 1151.9,541.4 1155.3,533.0 1158.8,524.9 1162.2,517.2 1165.7,509.3 1169.1,501.2 1172.5,494.9 1176.0,488.1 1179.4,480.1 1182.9,474.0 1186.3,468.6 1189.7,461.2 1193.2,455.5 1196.6,449.0 1200.0,442.7 1203.5,435.7 1206.9,430.7 1210.4,424.7 1213.8,421.1 1217.2,416.7 1220.7,412.0 1224.1,407.5 1227.5,402.4 1231.0,398.5 1234.4,393.9 1237.9,390.5 1241.3,387.2 1244.7,383.4 1248.2,380.7 1251.6,376.4 1255.0,373.9 1258.5,369.9 1261.9,366.7 1265.4,364.1 1268.8,363.7 1272.2,359.3 1275.7,357.0 1279.1,356.6 1282.6,353.0"/>
<polyline stroke="#e8606a" points="137.7,872.5 141.1,872.5 144.6,872.4 148.0,872.3 151.5,872.2 154.9,871.9 158.3,871.7 161.8,871.7 165.2,871.6 168.6,871.5 172.1,871.5 175.5,871.5 179.0,871.4 182.4,871.4 185.8,871.4 189.3,871.2 192.7,871.0 196.1,870.8 199.6,870.5 203.0,870.3 206.5,870.0 209.9,869.9 213.3,869.9 216.8,869.8 220.2,869.6 223.6,869.6 227.1,869.6 230.5,869.7 234.0,869.5 237.4,869.6 240.8,869.2 244.3,869.1 247.7,868.7 251.2,868.5 254.6,868.1 258.0,868.1 261.5,867.6 264.9,867.4 268.3,867.1 271.8,866.9 275.2,866.4 278.7,866.2 282.1,865.9 285.5,865.3 289.0,864.8 292.4,864.3 295.8,863.7 299.3,862.8 302.7,862.2 306.2,861.7 309.6,860.9 313.0,860.4 316.5,860.1 319.9,859.7 323.4,859.2 326.8,858.9 330.2,858.4 333.7,858.1 337.1,857.7 340.5,857.4 344.0,857.2 347.4,857.0 350.9,856.8 354.3,856.6 357.7,856.5 361.2,856.4 364.6,856.2 368.0,856.1 371.5,856.1 374.9,856.2 378.4,856.3 381.8,856.7 385.2,857.0 388.7,857.4 392.1,857.9 395.5,858.3 399.0,858.8 402.4,859.4 405.9,859.9 409.3,860.3 412.7,861.0 416.2,861.6 419.6,861.8 423.1,862.2 426.5,862.4 429.9,862.6 433.4,862.7 436.8,862.6 440.2,862.5 443.7,862.2 447.1,861.8 450.6,861.5 454.0,861.2 457.4,860.8 460.9,860.4 464.3,860.1 467.7,859.3 471.2,858.8 474.6,858.1 478.1,857.3 481.5,856.4 484.9,855.6 488.4,854.7 491.8,853.5 495.3,852.3 498.7,850.8 502.1,849.2 505.6,847.5 509.0,845.7 512.4,843.6 515.9,841.5 519.3,839.1 522.8,836.5 526.2,833.8 529.6,831.1 533.1,828.1 536.5,825.3 539.9,822.2 543.4,819.0 546.8,815.7 550.3,812.6 553.7,809.3 557.1,805.9 560.6,802.7 564.0,799.6 567.4,796.4 570.9,793.4 574.3,790.7 577.8,788.1 581.2,785.7 584.6,783.1 588.1,781.0 591.5,779.1 595.0,777.1 598.4,775.2 601.8,774.0 605.3,772.5 608.7,771.2 612.1,769.9 615.6,768.9 619.0,767.9 622.5,767.1 625.9,766.5 629.3,765.8 632.8,765.3 636.2,764.7 639.6,764.1 643.1,763.6 646.5,763.5 650.0,763.4 653.4,763.5 656.8,763.9 660.3,764.4 663.7,765.0 667.2,765.7 670.6,766.7 674.0,767.7 677.5,768.7 680.9,770.2 684.3,771.4 687.8,772.6 691.2,773.9 694.7,775.6 698.1,777.2 701.5,779.1 705.0,781.0 708.4,783.1 711.8,784.9 715.3,787.0 718.7,788.9 722.2,791.0 725.6,793.1 729.0,795.2 732.5,797.3 735.9,799.4 739.3,801.5 742.8,803.5 746.2,805.8 749.7,808.0 753.1,810.2 756.5,812.4 760.0,814.5 763.4,816.2 766.9,818.2 770.3,820.0 773.7,821.7 777.2,823.6 780.6,825.4 784.0,827.0 787.5,828.5 790.9,830.0 794.4,831.3 797.8,832.6 801.2,833.9 804.7,835.2 808.1,836.4 811.5,837.6 815.0,838.5 818.4,839.1 821.9,839.6 825.3,840.0 828.7,840.0 832.2,840.1 835.6,840.0 839.1,839.6 842.5,839.2 845.9,838.8 849.4,838.3 852.8,837.8 856.2,837.4 859.7,836.8 863.1,836.0 866.6,835.4 870.0,834.5 873.4,833.5 876.9,832.5 880.3,831.6 883.7,830.2 887.2,828.9 890.6,827.6 894.1,825.9 897.5,824.5 900.9,823.2 904.4,821.9 907.8,820.6 911.2,819.2 914.7,818.3 918.1,816.6 921.6,815.4 925.0,813.8 928.4,812.3 931.9,809.9 935.3,807.9 938.8,805.5 942.2,803.8 945.6,801.8 949.1,799.4 952.5,797.5 955.9,795.2 959.4,793.0 962.8,790.3 966.3,788.2 969.7,785.8 973.1,783.2 976.6,780.2 980.0,777.7 983.4,774.1 986.9,770.5 990.3,766.6 993.8,762.5 997.2,759.2 1000.6,755.9 1004.1,751.9 1007.5,747.8 1011.0,744.9 1014.4,741.1 1017.8,737.0 1021.3,733.4 1024.7,730.3 1028.1,725.1 1031.6,720.3 1035.0,716.7 1038.5,711.8 1041.9,706.4 1045.3,701.3 1048.8,695.5 1052.2,689.2 1055.6,683.9 1059.1,678.8 1062.5,674.2 1066.0,669.1 1069.4,663.0 1072.8,656.8 1076.3,649.6 1079.7,642.9 1083.1,637.4 1086.6,631.3 1090.0,624.9 1093.5,620.1 1096.9,614.5 1100.3,607.1 1103.8,600.7 1107.2,595.3 1110.7,588.4 1114.1,581.4 1117.5,575.5 1121.0,570.0 1124.4,562.8 1127.8,556.2 1131.3,549.6 1134.7,543.8 1138.2,535.6 1141.6,529.6 1145.0,523.0 1148.5,516.8 1151.9,508.7 1155.3,504.2 1158.8,497.3 1162.2,491.1 1165.7,483.7 1169.1,478.5 1172.5,471.9 1176.0,466.2 1179.4,458.9 1182.9,454.6 1186.3,448.1 1189.7,442.5 1193.2,436.6 1196.6,432.2 1200.0,425.9 1203.5,420.7 1206.9,415.0 1210.4,410.6 1213.8,406.4 1217.2,402.8 1220.7,398.6 1224.1,394.9 1227.5,390.3 1231.0,385.4 1234.4,379.8 1237.9,375.2 1241.3,370.0 1244.7,367.6 1248.2,364.1 1251.6,360.8 1255.0,357.7 1258.5,356.1 1261.9,350.7 1265.4,347.0 1268.8,343.2 1272.2,340.2 1275.7,335.8 1279.1,333.5 1282.6,331.7"/>
<polyline stroke="#5a80d8" points="137.7,874.1 141.1,874.1 144.6,874.0 148.0,874.0 151.5,874.1 154.9,874.1 158.3,874.0 161.8,873.9 165.2,873.9 168.6,873.7 172.1,873.6 175.5,873.5 179.0,873.5 182.4,873.2 185.8,873.1 189.3,872.9 192.7,872.7 196.1,872.3 199.6,872.3 203.0,872.0 206.5,871.9 209.9,871.8 213.3,871.6 216.8,871.5 220.2,871.6 223.6,871.5 227.1,871.4 230.5,871.5 234.0,871.4 237.4,871.1 240.8,870.8 244.3,870.8 247.7,870.5 251.2,870.2 254.6,869.8 258.0,869.5 261.5,869.2 264.9,869.0 268.3,868.8 271.8,868.7 275.2,868.5 278.7,868.0 282.1,867.7 285.5,867.4 289.0,867.1 292.4,866.6 295.8,866.3 299.3,866.0 302.7,865.6 306.2,865.3 309.6,865.1 313.0,865.1 316.5,864.8 319.9,864.7 323.4,864.5 326.8,864.5 330.2,864.2 333.7,864.0 337.1,864.1 340.5,863.9 344.0,863.5 347.4,863.5 350.9,863.7 354.3,863.4 357.7,863.4 361.2,863.4 364.6,863.4 368.0,863.3 371.5,863.4 374.9,863.5 378.4,863.6 381.8,863.8 385.2,863.8 388.7,864.1 392.1,864.0 395.5,864.3 399.0,864.3 402.4,864.3 405.9,864.2 409.3,864.2 412.7,864.0 416.2,863.9 419.6,863.9 423.1,864.1 426.5,864.4 429.9,864.6 433.4,864.7 436.8,864.8 440.2,864.5 443.7,864.3 447.1,864.0 450.6,863.7 454.0,863.3 457.4,863.0 460.9,862.5 464.3,862.2 467.7,861.8 471.2,861.5 474.6,860.8 478.1,860.1 481.5,859.3 484.9,858.5 488.4,857.4 491.8,856.3 495.3,855.3 498.7,854.3 502.1,853.1 505.6,851.7 509.0,850.2 512.4,848.4 515.9,846.5 519.3,844.4 522.8,842.5 526.2,840.4 529.6,838.3 533.1,835.9 536.5,833.4 539.9,830.6 543.4,827.8 546.8,825.0 550.3,822.1 553.7,819.1 557.1,816.4 560.6,813.5 564.0,810.5 567.4,807.9 570.9,805.3 574.3,802.7 577.8,800.2 581.2,798.0 584.6,795.9 588.1,793.9 591.5,792.0 595.0,790.3 598.4,788.8 601.8,787.4 605.3,786.1 608.7,785.0 612.1,783.9 615.6,782.9 619.0,781.9 622.5,781.1 625.9,780.3 629.3,779.5 632.8,778.9 636.2,778.4 639.6,777.9 643.1,777.7 646.5,777.7 650.0,777.8 653.4,778.0 656.8,778.5 660.3,779.1 663.7,779.6 667.2,780.2 670.6,781.1 674.0,781.9 677.5,782.8 680.9,784.0 684.3,785.4 687.8,786.7 691.2,788.2 694.7,789.9 698.1,791.5 701.5,793.2 705.0,795.1 708.4,796.8 711.8,798.5 715.3,800.4 718.7,802.4 722.2,804.2 725.6,806.4 729.0,808.4 732.5,810.5 735.9,812.5 739.3,814.4 742.8,816.4 746.2,818.4 749.7,820.4 753.1,822.6 756.5,824.8 760.0,826.8 763.4,828.6 766.9,830.4 770.3,832.4 773.7,834.3 777.2,836.0 780.6,837.8 784.0,839.4 787.5,840.8 790.9,842.2 794.4,843.4 797.8,844.7 801.2,845.9 804.7,847.0 808.1,847.8 811.5,848.8 815.0,849.7 818.4,850.4 821.9,851.0 825.3,851.4 828.7,851.6 832.2,851.7 835.6,851.7 839.1,851.4 842.5,851.5 845.9,851.4 849.4,850.8 852.8,850.8 856.2,850.6 859.7,850.1 863.1,849.6 866.6,849.7 870.0,849.2 873.4,848.7 876.9,847.8 880.3,847.0 883.7,845.8 887.2,844.6 890.6,843.5 894.1,842.6 897.5,842.0 900.9,841.3 904.4,840.0 907.8,838.7 911.2,837.8 914.7,836.4 918.1,835.0 921.6,834.7 925.0,833.6 928.4,832.7 931.9,831.6 935.3,829.9 938.8,828.9 942.2,827.9 945.6,826.7 949.1,825.3 952.5,824.2 955.9,822.0 959.4,820.2 962.8,818.0 966.3,815.8 969.7,814.0 973.1,811.8 976.6,810.0 980.0,807.2 983.4,805.0 986.9,801.8 990.3,799.1 993.8,795.8 997.2,792.7 1000.6,789.1 1004.1,786.7 1007.5,783.0 1011.0,780.5 1014.4,777.2 1017.8,773.6 1021.3,769.6 1024.7,765.7 1028.1,760.5 1031.6,755.4 1035.0,750.9 1038.5,744.9 1041.9,739.6 1045.3,734.7 1048.8,730.8 1052.2,724.8 1055.6,720.3 1059.1,715.3 1062.5,709.4 1066.0,703.7 1069.4,698.6 1072.8,692.8 1076.3,687.4 1079.7,681.1 1083.1,673.2 1086.6,665.6 1090.0,658.5 1093.5,650.8 1096.9,643.5 1100.3,636.7 1103.8,630.2 1107.2,623.3 1110.7,616.4 1114.1,608.8 1117.5,600.8 1121.0,593.9 1124.4,587.4 1127.8,579.4 1131.3,572.7 1134.7,566.7 1138.2,558.4 1141.6,549.8 1145.0,543.8 1148.5,537.7 1151.9,530.7 1155.3,525.0 1158.8,517.9 1162.2,511.0 1165.7,503.2 1169.1,497.3 1172.5,490.2 1176.0,484.2 1179.4,476.7 1182.9,469.3 1186.3,462.4 1189.7,456.7 1193.2,449.3 1196.6,443.7 1200.0,438.6 1203.5,432.7 1206.9,425.8 1210.4,421.3 1213.8,416.1 1217.2,411.1 1220.7,407.5 1224.1,404.4 1227.5,400.8 1231.0,397.0 1234.4,393.4 1237.9,388.7 1241.3,384.4 1244.7,381.0 1248.2,378.7 1251.6,374.7 1255.0,371.3 1258.5,368.8 1261.9,365.1 1265.4,360.7 1268.8,358.5 1272.2,357.7 1275.7,355.5 1279.1,353.4 1282.6,351.4"/>
<polyline stroke="#4fae9c" points="137.7,869.4 141.1,869.5 144.6,869.5 148.0,869.5 151.5,869.5 154.9,869.5 158.3,869.6 161.8,869.4 165.2,869.2 168.6,869.1 172.1,868.7 175.5,868.3 179.0,868.4 182.4,868.2 185.8,867.9 189.3,867.9 192.7,867.9 196.1,867.5 199.6,867.4 203.0,867.5 206.5,867.4 209.9,867.4 213.3,867.4 216.8,867.5 220.2,867.2 223.6,867.3 227.1,867.1 230.5,867.2 234.0,867.1 237.4,867.0 240.8,866.7 244.3,866.5 247.7,866.3 251.2,866.1 254.6,866.1 258.0,866.0 261.5,866.1 264.9,865.8 268.3,865.7 271.8,865.4 275.2,865.3 278.7,865.0 282.1,865.0 285.5,864.9 289.0,865.0 292.4,864.9 295.8,864.8 299.3,864.5 302.7,864.5 306.2,864.0 309.6,863.8 313.0,863.6 316.5,863.5 319.9,863.5 323.4,863.7 326.8,863.5 330.2,863.8 333.7,863.7 337.1,863.5 340.5,863.5 344.0,863.6 347.4,863.5 350.9,863.5 354.3,863.5 357.7,863.5 361.2,863.5 364.6,863.0 368.0,863.1 371.5,863.0 374.9,863.0 378.4,863.2 381.8,863.5 385.2,863.5 388.7,863.6 392.1,863.6 395.5,863.7 399.0,863.6 402.4,863.9 405.9,863.9 409.3,864.0 412.7,864.1 416.2,864.4 419.6,864.4 423.1,864.6 426.5,864.6 429.9,864.8 433.4,864.8 436.8,864.6 440.2,864.4 443.7,864.3 447.1,864.1 450.6,863.8 454.0,863.5 457.4,863.3 460.9,862.9 464.3,862.5 467.7,861.9 471.2,861.6 474.6,861.4 478.1,860.9 481.5,860.5 484.9,860.1 488.4,859.6 491.8,858.8 495.3,858.0 498.7,857.1 502.1,856.0 505.6,855.0 509.0,853.9 512.4,852.5 515.9,851.1 519.3,849.5 522.8,847.8 526.2,846.1 529.6,844.3 533.1,842.5 536.5,840.5 539.9,838.4 543.4,836.0 546.8,833.7 550.3,831.1 553.7,828.7 557.1,826.3 560.6,823.9 564.0,821.6 567.4,819.6 570.9,817.5 574.3,815.3 577.8,813.2 581.2,811.2 584.6,809.4 588.1,807.5 591.5,805.9 595.0,804.6 598.4,803.4 601.8,802.3 605.3,801.2 608.7,800.2 612.1,799.0 615.6,798.0 619.0,797.3 622.5,796.5 625.9,795.8 629.3,795.3 632.8,794.7 636.2,794.1 639.6,793.7 643.1,793.5 646.5,793.5 650.0,793.3 653.4,793.4 656.8,793.5 660.3,793.7 663.7,793.9 667.2,794.4 670.6,794.9 674.0,795.4 677.5,796.0 680.9,796.4 684.3,797.1 687.8,797.8 691.2,798.8 694.7,799.5 698.1,800.5 701.5,801.5 705.0,802.7 708.4,803.7 711.8,804.8 715.3,806.1 718.7,807.4 722.2,808.4 725.6,809.6 729.0,810.8 732.5,812.0 735.9,813.2 739.3,814.5 742.8,815.5 746.2,816.9 749.7,818.0 753.1,819.0 756.5,820.1 760.0,821.3 763.4,822.4 766.9,823.4 770.3,824.7 773.7,825.8 777.2,827.1 780.6,828.1 784.0,829.1 787.5,829.8 790.9,830.3 794.4,830.9 797.8,831.7 801.2,832.3 804.7,833.0 808.1,833.8 811.5,834.3 815.0,834.8 818.4,835.3 821.9,835.7 825.3,835.9 828.7,836.2 832.2,836.1 835.6,836.0 839.1,835.9 842.5,835.5 845.9,835.0 849.4,834.6 852.8,834.0 856.2,833.3 859.7,832.4 863.1,831.5 866.6,830.4 870.0,829.5 873.4,828.5 876.9,827.8 880.3,826.3 883.7,825.2 887.2,823.8 890.6,822.3 894.1,821.1 897.5,820.4 900.9,819.1 904.4,818.1 907.8,817.3 911.2,815.6 914.7,813.7 918.1,811.8 921.6,809.9 925.0,807.9 928.4,806.3 931.9,804.6 935.3,802.7 938.8,801.0 942.2,798.8 945.6,796.2 949.1,794.3 952.5,792.3 955.9,789.7 959.4,787.5 962.8,784.6 966.3,781.6 969.7,778.3 973.1,775.2 976.6,771.9 980.0,768.2 983.4,765.6 986.9,761.9 990.3,758.1 993.8,754.3 997.2,751.4 1000.6,746.9 1004.1,743.7 1007.5,740.2 1011.0,736.0 1014.4,732.0 1017.8,727.1 1021.3,721.5 1024.7,717.6 1028.1,713.2 1031.6,707.4 1035.0,702.5 1038.5,697.6 1041.9,690.5 1045.3,684.0 1048.8,678.0 1052.2,671.5 1055.6,665.6 1059.1,659.3 1062.5,654.2 1066.0,648.4 1069.4,643.5 1072.8,636.4 1076.3,629.1 1079.7,621.5 1083.1,615.3 1086.6,608.0 1090.0,601.8 1093.5,595.9 1096.9,588.7 1100.3,580.5 1103.8,574.8 1107.2,567.0 1110.7,560.3 1114.1,554.0 1117.5,546.6 1121.0,538.2 1124.4,532.6 1127.8,526.0 1131.3,518.5 1134.7,511.8 1138.2,503.8 1141.6,496.1 1145.0,488.7 1148.5,480.9 1151.9,474.9 1155.3,468.2 1158.8,461.4 1162.2,454.4 1165.7,449.0 1169.1,442.2 1172.5,437.1 1176.0,431.6 1179.4,425.8 1182.9,420.1 1186.3,414.3 1189.7,408.3 1193.2,402.4 1196.6,397.0 1200.0,391.4 1203.5,385.3 1206.9,380.3 1210.4,375.5 1213.8,370.8 1217.2,365.5 1220.7,362.3 1224.1,358.0 1227.5,353.5 1231.0,349.0 1234.4,345.1 1237.9,340.7 1241.3,338.0 1244.7,335.0 1248.2,333.5 1251.6,329.8 1255.0,326.0 1258.5,320.6 1261.9,316.6 1265.4,310.7 1268.8,308.4 1272.2,306.6 1275.7,306.1 1279.1,303.6 1282.6,302.1"/>
<polyline stroke="#707070" points="137.7,875.5 141.1,875.3 144.6,875.3 148.0,875.2 151.5,875.0 154.9,875.1 158.3,875.3 161.8,875.2 165.2,875.2 168.6,875.1 172.1,874.9 175.5,874.6 179.0,874.4 182.4,874.1 185.8,874.0 189.3,873.8 192.7,873.7 196.1,873.6 199.6,873.5 203.0,873.3 206.5,873.4 209.9,873.2 213.3,873.1 216.8,873.0 220.2,872.8 223.6,872.6 227.1,872.6 230.5,872.4 234.0,872.3 237.4,872.3 240.8,872.2 244.3,872.0 247.7,871.9 251.2,871.8 254.6,871.5 258.0,871.3 261.5,871.2 264.9,871.1 268.3,870.8 271.8,870.6 275.2,870.3 278.7,870.1 282.1,869.7 285.5,869.5 289.0,869.0 292.4,868.8 295.8,868.5 299.3,868.2 302.7,867.8 306.2,868.0 309.6,867.7 313.0,867.3 316.5,867.3 319.9,867.2 323.4,866.9 326.8,866.9 330.2,866.9 333.7,866.7 337.1,866.8 340.5,866.5 344.0,866.4 347.4,866.4 350.9,866.2 354.3,866.1 357.7,866.1 361.2,866.1 364.6,866.0 368.0,866.1 371.5,866.1 374.9,866.3 378.4,866.4 381.8,866.3 385.2,866.4 388.7,866.6 392.1,866.7 395.5,866.7 399.0,866.9 402.4,866.8 405.9,867.0 409.3,867.0 412.7,867.1 416.2,867.2 419.6,867.3 423.1,867.4 426.5,867.5 429.9,867.5 433.4,867.6 436.8,867.6 440.2,867.2 443.7,867.2 447.1,867.0 450.6,866.8 454.0,866.7 457.4,866.8 460.9,866.6 464.3,866.4 467.7,866.1 471.2,865.8 474.6,865.4 478.1,865.1 481.5,864.9 484.9,864.6 488.4,864.2 491.8,863.9 495.3,863.3 498.7,862.9 502.1,862.2 505.6,861.6 509.0,860.7 512.4,860.0 515.9,859.0 519.3,858.2 522.8,857.1 526.2,855.9 529.6,854.8 533.1,853.5 536.5,851.9 539.9,850.5 543.4,849.0 546.8,847.5 550.3,845.9 553.7,844.3 557.1,842.5 560.6,840.8 564.0,839.0 567.4,837.4 570.9,836.0 574.3,834.6 577.8,833.2 581.2,831.9 584.6,830.6 588.1,829.2 591.5,828.0 595.0,827.0 598.4,825.9 601.8,825.1 605.3,824.2 608.7,823.7 612.1,822.7 615.6,822.1 619.0,821.5 622.5,821.0 625.9,820.5 629.3,820.0 632.8,819.6 636.2,819.2 639.6,818.7 643.1,818.4 646.5,818.4 650.0,818.3 653.4,818.3 656.8,818.4 660.3,818.8 663.7,819.1 667.2,819.5 670.6,820.0 674.0,820.6 677.5,821.2 680.9,821.9 684.3,822.5 687.8,823.3 691.2,824.2 694.7,825.0 698.1,825.8 701.5,826.8 705.0,827.8 708.4,828.8 711.8,829.9 715.3,831.0 718.7,832.0 722.2,833.1 725.6,834.2 729.0,835.5 732.5,836.7 735.9,837.9 739.3,839.1 742.8,840.0 746.2,841.1 749.7,842.2 753.1,843.5 756.5,844.6 760.0,845.8 763.4,846.8 766.9,847.9 770.3,848.8 773.7,849.8 777.2,850.9 780.6,851.9 784.0,852.8 787.5,853.8 790.9,854.8 794.4,855.5 797.8,856.2 801.2,856.9 804.7,857.4 808.1,857.9 811.5,858.4 815.0,858.8 818.4,859.2 821.9,859.6 825.3,859.9 828.7,860.0 832.2,860.1 835.6,860.2 839.1,860.1 842.5,859.8 845.9,859.9 849.4,860.2 852.8,860.1 856.2,860.2 859.7,860.3 863.1,860.0 866.6,859.9 870.0,859.5 873.4,859.3 876.9,859.4 880.3,859.1 883.7,858.8 887.2,858.9 890.6,858.4 894.1,858.0 897.5,858.0 900.9,857.7 904.4,857.8 907.8,858.3 911.2,858.1 914.7,857.9 918.1,858.3 921.6,857.2 925.0,856.4 928.4,856.6 931.9,856.3 935.3,855.5 938.8,855.1 942.2,855.3 945.6,854.4 949.1,853.9 952.5,854.1 955.9,854.1 959.4,853.4 962.8,853.0 966.3,851.7 969.7,850.3 973.1,849.2 976.6,847.6 980.0,846.4 983.4,845.6 986.9,845.1 990.3,844.3 993.8,843.0 997.2,842.0 1000.6,841.1 1004.1,838.7 1007.5,836.4 1011.0,835.2 1014.4,833.4 1017.8,831.0 1021.3,829.2 1024.7,827.8 1028.1,824.9 1031.6,821.8 1035.0,819.2 1038.5,815.2 1041.9,811.3 1045.3,807.8 1048.8,804.1 1052.2,799.1 1055.6,795.9 1059.1,792.7 1062.5,788.5 1066.0,784.2 1069.4,780.9 1072.8,776.2 1076.3,770.4 1079.7,764.9 1083.1,759.3 1086.6,752.4 1090.0,746.9 1093.5,740.0 1096.9,733.0 1100.3,725.5 1103.8,719.7 1107.2,710.4 1110.7,703.9 1114.1,696.3 1117.5,687.9 1121.0,678.5 1124.4,671.1 1127.8,662.7 1131.3,653.7 1134.7,645.1 1138.2,635.5 1141.6,626.5 1145.0,616.2 1148.5,606.7 1151.9,598.3 1155.3,590.3 1158.8,580.3 1162.2,572.3 1165.7,563.3 1169.1,554.5 1172.5,545.0 1176.0,538.7 1179.4,530.1 1182.9,523.1 1186.3,516.0 1189.7,509.6 1193.2,502.9 1196.6,496.7 1200.0,490.9 1203.5,484.2 1206.9,478.7 1210.4,473.6 1213.8,468.6 1217.2,463.4 1220.7,459.8 1224.1,454.3 1227.5,448.8 1231.0,443.9 1234.4,440.5 1237.9,436.5 1241.3,433.3 1244.7,431.4 1248.2,428.8 1251.6,425.3 1255.0,422.7 1258.5,420.9 1261.9,418.3 1265.4,416.2 1268.8,415.1 1272.2,413.8 1275.7,411.0 1279.1,408.6 1282.6,407.2"/>
<polyline stroke="#5f5f5f" points="137.7,871.7 141.1,871.8 144.6,872.0 148.0,871.9 151.5,871.6 154.9,871.6 158.3,871.3 161.8,870.9 165.2,870.7 168.6,870.7 172.1,870.6 175.5,870.4 179.0,870.2 182.4,870.1 185.8,870.1 189.3,870.0 192.7,870.1 196.1,869.9 199.6,869.9 203.0,869.6 206.5,869.5 209.9,869.2 213.3,869.3 216.8,869.1 220.2,868.9 223.6,868.8 227.1,868.9 230.5,868.7 234.0,868.6 237.4,868.7 240.8,868.8 244.3,868.6 247.7,868.7 251.2,868.5 254.6,868.4 258.0,868.2 261.5,868.0 264.9,867.6 268.3,867.7 271.8,867.4 275.2,867.2 278.7,867.2 282.1,867.0 285.5,866.5 289.0,866.4 292.4,866.1 295.8,865.9 299.3,865.8 302.7,865.6 306.2,865.5 309.6,865.2 313.0,865.1 316.5,865.0 319.9,864.9 323.4,865.0 326.8,865.2 330.2,865.1 333.7,865.2 337.1,865.1 340.5,865.0 344.0,864.8 347.4,864.7 350.9,864.7 354.3,864.6 357.7,864.6 361.2,864.6 364.6,864.6 368.0,864.7 371.5,864.7 374.9,864.8 378.4,864.7 381.8,864.8 385.2,864.9 388.7,865.1 392.1,865.1 395.5,865.3 399.0,865.4 402.4,865.6 405.9,865.7 409.3,865.7 412.7,865.8 416.2,865.8 419.6,865.7 423.1,865.7 426.5,865.9 429.9,865.9 433.4,866.1 436.8,866.3 440.2,866.1 443.7,865.8 447.1,865.8 450.6,865.6 454.0,865.4 457.4,865.5 460.9,865.3 464.3,865.1 467.7,864.7 471.2,864.6 474.6,864.2 478.1,864.0 481.5,863.6 484.9,863.5 488.4,863.0 491.8,862.7 495.3,862.2 498.7,861.8 502.1,861.2 505.6,860.6 509.0,859.7 512.4,858.9 515.9,858.3 519.3,857.5 522.8,856.8 526.2,855.9 529.6,854.9 533.1,853.6 536.5,852.5 539.9,851.0 543.4,849.7 546.8,848.2 550.3,846.7 553.7,845.1 557.1,843.5 560.6,842.1 564.0,840.7 567.4,839.4 570.9,838.0 574.3,836.7 577.8,835.2 581.2,834.0 584.6,832.7 588.1,831.7 591.5,830.8 595.0,829.9 598.4,828.8 601.8,828.1 605.3,827.4 608.7,826.4 612.1,825.9 615.6,825.4 619.0,824.7 622.5,823.9 625.9,823.5 629.3,823.0 632.8,822.6 636.2,822.1 639.6,821.9 643.1,821.6 646.5,821.4 650.0,821.5 653.4,821.7 656.8,821.9 660.3,822.3 663.7,822.8 667.2,823.2 670.6,823.5 674.0,824.0 677.5,824.6 680.9,825.3 684.3,825.9 687.8,826.8 691.2,827.5 694.7,828.4 698.1,829.3 701.5,830.3 705.0,831.1 708.4,832.2 711.8,833.3 715.3,834.5 718.7,835.8 722.2,837.0 725.6,838.3 729.0,839.5 732.5,840.5 735.9,841.7 739.3,842.9 742.8,844.0 746.2,845.1 749.7,846.4 753.1,847.5 756.5,848.8 760.0,849.9 763.4,851.2 766.9,852.2 770.3,853.2 773.7,854.1 777.2,855.1 780.6,856.0 784.0,857.1 787.5,858.0 790.9,858.9 794.4,859.7 797.8,860.4 801.2,861.2 804.7,861.9 808.1,862.4 811.5,862.9 815.0,863.4 818.4,863.7 821.9,864.0 825.3,864.1 828.7,864.4 832.2,864.3 835.6,864.4 839.1,864.2 842.5,864.4 845.9,864.3 849.4,864.3 852.8,864.1 856.2,864.1 859.7,864.1 863.1,863.7 866.6,863.6 870.0,863.6 873.4,863.5 876.9,863.1 880.3,863.3 883.7,863.3 887.2,863.3 890.6,863.1 894.1,863.2 897.5,862.8 900.9,862.5 904.4,862.1 907.8,861.8 911.2,861.1 914.7,861.3 918.1,861.6 921.6,861.1 925.0,860.9 928.4,861.0 931.9,860.2 935.3,859.6 938.8,859.9 942.2,859.6 945.6,859.1 949.1,858.6 952.5,858.2 955.9,857.2 959.4,856.6 962.8,855.9 966.3,856.3 969.7,855.5 973.1,854.9 976.6,853.8 980.0,852.2 983.4,851.2 986.9,850.5 990.3,849.7 993.8,849.2 997.2,849.1 1000.6,847.4 1004.1,845.3 1007.5,843.9 1011.0,842.7 1014.4,841.4 1017.8,839.2 1021.3,837.1 1024.7,835.1 1028.1,832.9 1031.6,829.7 1035.0,827.2 1038.5,824.6 1041.9,820.9 1045.3,816.8 1048.8,813.4 1052.2,810.7 1055.6,806.5 1059.1,802.7 1062.5,799.3 1066.0,795.3 1069.4,791.1 1072.8,787.1 1076.3,781.4 1079.7,776.1 1083.1,769.7 1086.6,762.0 1090.0,755.6 1093.5,750.2 1096.9,743.2 1100.3,737.0 1103.8,731.5 1107.2,724.8 1110.7,716.6 1114.1,708.3 1117.5,699.6 1121.0,691.2 1124.4,681.0 1127.8,671.5 1131.3,662.0 1134.7,653.7 1138.2,643.0 1141.6,635.1 1145.0,625.4 1148.5,616.1 1151.9,607.1 1155.3,599.2 1158.8,588.8 1162.2,580.3 1165.7,572.1 1169.1,562.7 1172.5,553.7 1176.0,546.9 1179.4,539.4 1182.9,531.7 1186.3,524.3 1189.7,516.6 1193.2,509.4 1196.6,501.8 1200.0,494.5 1203.5,487.1 1206.9,480.6 1210.4,473.1 1213.8,467.4 1217.2,461.5 1220.7,456.9 1224.1,452.2 1227.5,449.0 1231.0,445.2 1234.4,441.0 1237.9,436.9 1241.3,433.2 1244.7,429.8 1248.2,425.3 1251.6,423.1 1255.0,419.8 1258.5,417.4 1261.9,413.3 1265.4,412.2 1268.8,410.2 1272.2,409.9 1275.7,408.1 1279.1,407.1 1282.6,405.1"/>
<polyline stroke="#f08a50" points="137.7,872.3 141.1,872.5 144.6,872.6 148.0,872.4 151.5,872.3 154.9,872.3 158.3,872.0 161.8,871.7 165.2,871.6 168.6,871.4 172.1,871.2 175.5,871.2 179.0,871.1 182.4,871.0 185.8,871.1 189.3,871.0 192.7,870.8 196.1,870.7 199.6,870.5 203.0,870.4 206.5,870.4 209.9,870.3 213.3,870.2 216.8,870.0 220.2,869.9 223.6,869.7 227.1,869.5 230.5,869.6 234.0,869.7 237.4,869.8 240.8,869.9 244.3,870.0 247.7,869.6 251.2,869.6 254.6,869.5 258.0,869.1 261.5,868.9 264.9,869.0 268.3,868.7 271.8,868.6 275.2,868.5 278.7,868.4 282.1,868.1 285.5,868.0 289.0,867.6 292.4,867.6 295.8,867.6 299.3,867.3 302.7,867.3 306.2,867.3 309.6,867.1 313.0,867.0 316.5,867.0 319.9,866.7 323.4,866.5 326.8,866.3 330.2,866.3 333.7,866.1 337.1,866.1 340.5,866.3 344.0,866.1 347.4,866.1 350.9,866.0 354.3,866.1 357.7,865.9 361.2,865.8 364.6,865.8 368.0,866.1 371.5,866.0 374.9,866.1 378.4,866.3 381.8,866.5 385.2,866.4 388.7,866.5 392.1,866.6 395.5,866.7 399.0,866.8 402.4,866.8 405.9,866.9 409.3,866.9 412.7,867.0 416.2,867.1 419.6,867.3 423.1,867.2 426.5,867.3 429.9,867.2 433.4,867.3 436.8,867.3 440.2,867.2 443.7,867.1 447.1,867.2 450.6,867.1 454.0,866.9 457.4,867.0 460.9,867.0 464.3,866.8 467.7,866.6 471.2,866.3 474.6,865.9 478.1,865.7 481.5,865.6 484.9,865.3 488.4,865.3 491.8,865.2 495.3,864.8 498.7,864.5 502.1,864.1 505.6,863.7 509.0,863.3 512.4,862.8 515.9,862.2 519.3,861.7 522.8,861.0 526.2,860.5 529.6,860.0 533.1,859.2 536.5,858.3 539.9,857.3 543.4,856.2 546.8,855.1 550.3,854.2 553.7,853.2 557.1,852.3 560.6,851.3 564.0,850.1 567.4,848.7 570.9,847.7 574.3,846.5 577.8,845.8 581.2,844.9 584.6,844.4 588.1,843.5 591.5,842.9 595.0,842.0 598.4,841.4 601.8,840.7 605.3,840.1 608.7,839.5 612.1,839.0 615.6,838.5 619.0,837.9 622.5,837.7 625.9,837.2 629.3,836.7 632.8,836.5 636.2,836.5 639.6,836.2 643.1,836.1 646.5,836.2 650.0,836.0 653.4,836.1 656.8,836.2 660.3,836.6 663.7,836.7 667.2,837.4 670.6,837.9 674.0,838.2 677.5,838.6 680.9,839.3 684.3,839.5 687.8,839.9 691.2,840.6 694.7,841.4 698.1,842.1 701.5,843.0 705.0,844.1 708.4,845.0 711.8,845.9 715.3,846.8 718.7,847.7 722.2,848.5 725.6,849.6 729.0,850.6 732.5,851.6 735.9,852.8 739.3,853.7 742.8,854.6 746.2,855.6 749.7,856.5 753.1,857.4 756.5,858.5 760.0,859.6 763.4,860.5 766.9,861.6 770.3,862.5 773.7,863.3 777.2,864.1 780.6,865.0 784.0,866.0 787.5,866.7 790.9,867.4 794.4,867.8 797.8,868.3 801.2,868.7 804.7,869.1 808.1,869.4 811.5,870.1 815.0,870.5 818.4,870.8 821.9,870.9 825.3,871.2 828.7,871.4 832.2,871.4 835.6,871.1 839.1,871.5 842.5,871.1 845.9,870.8 849.4,870.8 852.8,871.1 856.2,871.0 859.7,871.6 863.1,871.8 866.6,872.2 870.0,871.9 873.4,872.1 876.9,871.8 880.3,871.5 883.7,871.2 887.2,871.4 890.6,871.1 894.1,871.2 897.5,871.2 900.9,871.0 904.4,871.2 907.8,871.4 911.2,871.4 914.7,871.3 918.1,870.9 921.6,870.2 925.0,869.7 928.4,869.1 931.9,869.0 935.3,868.9 938.8,869.0 942.2,868.8 945.6,868.9 949.1,868.8 952.5,868.3 955.9,868.4 959.4,868.2 962.8,868.0 966.3,867.4 969.7,867.0 973.1,866.3 976.6,866.8 980.0,865.9 983.4,865.5 986.9,866.2 990.3,865.5 993.8,863.9 997.2,864.2 1000.6,863.4 1004.1,861.7 1007.5,860.6 1011.0,859.9 1014.4,858.1 1017.8,857.4 1021.3,856.0 1024.7,855.0 1028.1,852.4 1031.6,850.2 1035.0,848.9 1038.5,846.3 1041.9,843.6 1045.3,842.0 1048.8,839.5 1052.2,836.5 1055.6,834.1 1059.1,832.0 1062.5,828.6 1066.0,824.2 1069.4,818.6 1072.8,814.4 1076.3,808.9 1079.7,802.8 1083.1,798.0 1086.6,792.8 1090.0,786.1 1093.5,779.6 1096.9,772.8 1100.3,766.6 1103.8,758.2 1107.2,751.4 1110.7,742.8 1114.1,734.8 1117.5,724.2 1121.0,715.2 1124.4,704.4 1127.8,693.7 1131.3,682.9 1134.7,672.9 1138.2,663.9 1141.6,654.9 1145.0,645.9 1148.5,635.4 1151.9,624.8 1155.3,613.0 1158.8,600.8 1162.2,589.0 1165.7,579.4 1169.1,570.1 1172.5,561.4 1176.0,551.3 1179.4,541.3 1182.9,532.6 1186.3,523.3 1189.7,513.5 1193.2,505.4 1196.6,498.9 1200.0,490.8 1203.5,483.1 1206.9,478.3 1210.4,473.9 1213.8,467.9 1217.2,463.3 1220.7,457.7 1224.1,451.2 1227.5,446.2 1231.0,442.9 1234.4,438.0 1237.9,435.6 1241.3,433.5 1244.7,431.0 1248.2,428.6 1251.6,426.8 1255.0,424.3 1258.5,421.0 1261.9,418.2 1265.4,414.5 1268.8,413.2 1272.2,412.7 1275.7,411.1 1279.1,410.3 1282.6,409.8"/>
<polyline stroke="#808040" points="137.7,878.2 141.1,878.1 144.6,878.0 148.0,878.0 151.5,877.9 154.9,877.9 158.3,877.7 161.8,877.6 165.2,877.6 168.6,877.3 172.1,877.3 175.5,877.3 179.0,877.2 182.4,876.9 185.8,876.8 189.3,876.4 192.7,876.1 196.1,876.0 199.6,876.0 203.0,875.9 206.5,875.9 209.9,876.0 213.3,875.9 216.8,875.8 220.2,875.7 223.6,875.9 227.1,875.8 230.5,875.7 234.0,875.5 237.4,875.5 240.8,875.3 244.3,875.0 247.7,875.0 251.2,875.0 254.6,874.7 258.0,874.4 261.5,874.3 264.9,874.2 268.3,873.9 271.8,873.8 275.2,873.7 278.7,873.3 282.1,872.9 285.5,872.8 289.0,872.6 292.4,872.4 295.8,872.4 299.3,872.5 302.7,872.1 306.2,871.8 309.6,871.6 313.0,871.4 316.5,871.1 319.9,871.0 323.4,871.0 326.8,871.0 330.2,870.9 333.7,870.8 337.1,870.7 340.5,870.7 344.0,870.7 347.4,870.4 350.9,870.5 354.3,870.5 357.7,870.4 361.2,870.2 364.6,870.3 368.0,870.3 371.5,870.4 374.9,870.3 378.4,870.3 381.8,870.3 385.2,870.3 388.7,870.1 392.1,870.1 395.5,870.2 399.0,870.3 402.4,870.2 405.9,870.4 409.3,870.4 412.7,870.3 416.2,870.4 419.6,870.5 423.1,870.4 426.5,870.4 429.9,870.2 433.4,870.2 436.8,869.9 440.2,869.9 443.7,869.7 447.1,869.8 450.6,869.8 454.0,869.8 457.4,869.9 460.9,870.0 464.3,869.8 467.7,869.6 471.2,869.4 474.6,868.9 478.1,868.7 481.5,868.5 484.9,868.2 488.4,868.1 491.8,867.9 495.3,867.5 498.7,867.0 502.1,866.5 505.6,866.0 509.0,865.7 512.4,865.2 515.9,864.5 519.3,864.1 522.8,863.2 526.2,862.1 529.6,861.5 533.1,860.8 536.5,860.0 539.9,859.1 543.4,858.2 546.8,857.0 550.3,856.0 553.7,854.9 557.1,853.9 560.6,853.0 564.0,852.1 567.4,851.0 570.9,849.8 574.3,848.6 577.8,847.3 581.2,846.2 584.6,845.1 588.1,844.2 591.5,843.3 595.0,842.6 598.4,841.8 601.8,841.1 605.3,840.4 608.7,839.9 612.1,839.4 615.6,838.8 619.0,838.5 622.5,838.0 625.9,837.7 629.3,837.1 632.8,836.8 636.2,836.5 639.6,836.4 643.1,836.2 646.5,836.2 650.0,836.2 653.4,835.9 656.8,836.1 660.3,836.0 663.7,836.3 667.2,836.5 670.6,837.0 674.0,837.2 677.5,837.6 680.9,838.0 684.3,838.6 687.8,839.1 691.2,839.6 694.7,840.4 698.1,841.0 701.5,841.8 705.0,842.6 708.4,843.4 711.8,843.9 715.3,844.5 718.7,845.0 722.2,845.8 725.6,846.5 729.0,847.5 732.5,848.4 735.9,849.2 739.3,849.9 742.8,850.6 746.2,851.4 749.7,852.4 753.1,853.4 756.5,854.3 760.0,855.1 763.4,855.7 766.9,856.3 770.3,856.8 773.7,857.5 777.2,858.1 780.6,858.9 784.0,859.6 787.5,860.1 790.9,860.6 794.4,861.2 797.8,861.8 801.2,862.1 804.7,862.8 808.1,863.4 811.5,863.8 815.0,864.0 818.4,864.2 821.9,864.1 825.3,864.1 828.7,864.1 832.2,864.1 835.6,864.1 839.1,864.4 842.5,864.3 845.9,864.6 849.4,864.5 852.8,864.5 856.2,864.5 859.7,864.5 863.1,864.5 866.6,864.4 870.0,864.3 873.4,864.0 876.9,864.0 880.3,863.9 883.7,863.7 887.2,863.8 890.6,863.5 894.1,863.6 897.5,862.9 900.9,863.1 904.4,862.5 907.8,862.5 911.2,861.9 914.7,862.0 918.1,861.3 921.6,861.4 925.0,860.7 928.4,860.3 931.9,859.8 935.3,859.1 938.8,858.9 942.2,858.5 945.6,858.2 949.1,858.4 952.5,858.2 955.9,857.5 959.4,856.8 962.8,856.3 966.3,855.2 969.7,854.5 973.1,854.3 976.6,853.8 980.0,853.1 983.4,851.7 986.9,850.1 990.3,848.3 993.8,847.8 997.2,846.1 1000.6,845.1 1004.1,844.0 1007.5,842.5 1011.0,840.6 1014.4,838.9 1017.8,837.3 1021.3,834.8 1024.7,832.7 1028.1,830.0 1031.6,827.4 1035.0,824.8 1038.5,822.8 1041.9,819.4 1045.3,816.0 1048.8,812.5 1052.2,807.6 1055.6,803.2 1059.1,799.5 1062.5,795.0 1066.0,789.8 1069.4,785.7 1072.8,780.6 1076.3,774.5 1079.7,768.2 1083.1,762.6 1086.6,756.0 1090.0,749.8 1093.5,742.7 1096.9,736.3 1100.3,727.9 1103.8,720.2 1107.2,711.9 1110.7,703.5 1114.1,694.7 1117.5,687.0 1121.0,678.3 1124.4,669.7 1127.8,661.7 1131.3,652.9 1134.7,643.1 1138.2,634.2 1141.6,624.7 1145.0,615.2 1148.5,605.0 1151.9,595.3 1155.3,586.4 1158.8,576.7 1162.2,567.5 1165.7,559.3 1169.1,551.7 1172.5,543.5 1176.0,535.2 1179.4,527.1 1182.9,519.9 1186.3,511.7 1189.7,503.1 1193.2,495.9 1196.6,490.4 1200.0,483.5 1203.5,478.8 1206.9,473.1 1210.4,467.4 1213.8,462.5 1217.2,457.2 1220.7,452.2 1224.1,447.4 1227.5,444.1 1231.0,439.6 1234.4,436.0 1237.9,433.1 1241.3,431.0 1244.7,427.8 1248.2,424.3 1251.6,421.1 1255.0,418.9 1258.5,414.0 1261.9,410.8 1265.4,407.7 1268.8,406.9 1272.2,405.5 1275.7,406.3 1279.1,405.7 1282.6,404.8"/>
<polyline stroke="#a8c050" points="137.7,878.0 141.1,878.0 144.6,877.9 148.0,877.7 151.5,877.8 154.9,877.7 158.3,877.6 161.8,877.6 165.2,877.7 168.6,877.6 172.1,877.5 175.5,877.5 179.0,877.4 182.4,877.1 185.8,877.2 189.3,876.9 192.7,876.7 196.1,876.4 199.6,876.2 203.0,875.9 206.5,876.1 209.9,875.8 213.3,875.8 216.8,875.9 220.2,875.8 223.6,875.5 227.1,875.6 230.5,875.5 234.0,875.4 237.4,875.4 240.8,875.4 244.3,875.3 247.7,875.2 251.2,874.9 254.6,874.8 258.0,874.7 261.5,874.5 264.9,874.3 268.3,874.3 271.8,874.1 275.2,874.0 278.7,874.0 282.1,874.0 285.5,873.8 289.0,873.7 292.4,873.6 295.8,873.3 299.3,873.1 302.7,873.1 306.2,872.9 309.6,872.8 313.0,872.8 316.5,872.4 319.9,872.2 323.4,872.1 326.8,872.0 330.2,871.9 333.7,872.4 337.1,872.3 340.5,872.3 344.0,872.0 347.4,872.0 350.9,871.8 354.3,871.6 357.7,871.8 361.2,871.8 364.6,871.8 368.0,871.8 371.5,871.7 374.9,871.6 378.4,871.6 381.8,871.5 385.2,871.5 388.7,871.5 392.1,871.5 395.5,871.6 399.0,871.5 402.4,871.4 405.9,871.7 409.3,871.6 412.7,871.7 416.2,871.7 419.6,871.7 423.1,871.5 426.5,871.4 429.9,871.4 433.4,871.5 436.8,871.6 440.2,871.6 443.7,871.7 447.1,871.5 450.6,871.5 454.0,871.4 457.4,871.3 460.9,871.2 464.3,871.1 467.7,870.7 471.2,870.6 474.6,870.5 478.1,870.4 481.5,870.3 484.9,870.1 488.4,869.8 491.8,869.3 495.3,869.0 498.7,868.6 502.1,868.5 505.6,868.3 509.0,867.8 512.4,867.5 515.9,866.8 519.3,866.0 522.8,865.2 526.2,864.3 529.6,863.4 533.1,862.6 536.5,861.8 539.9,860.9 543.4,860.1 546.8,859.1 550.3,858.0 553.7,856.9 557.1,856.0 560.6,854.5 564.0,853.4 567.4,852.4 570.9,851.1 574.3,849.9 577.8,849.3 581.2,848.3 584.6,847.5 588.1,846.7 591.5,846.1 595.0,845.3 598.4,844.6 601.8,843.9 605.3,843.2 608.7,842.6 612.1,842.0 615.6,841.6 619.0,841.0 622.5,840.8 625.9,840.1 629.3,839.8 632.8,839.3 636.2,839.0 639.6,838.6 643.1,838.7 646.5,838.7 650.0,838.7 653.4,838.7 656.8,838.9 660.3,839.1 663.7,839.2 667.2,839.4 670.6,839.6 674.0,839.8 677.5,840.0 680.9,840.4 684.3,840.9 687.8,841.3 691.2,841.8 694.7,842.2 698.1,842.5 701.5,843.0 705.0,843.6 708.4,844.1 711.8,844.6 715.3,845.3 718.7,845.5 722.2,845.8 725.6,846.4 729.0,846.9 732.5,847.5 735.9,848.2 739.3,849.0 742.8,849.8 746.2,850.5 749.7,851.0 753.1,851.5 756.5,852.1 760.0,852.5 763.4,853.1 766.9,853.7 770.3,854.4 773.7,854.8 777.2,855.4 780.6,855.9 784.0,856.4 787.5,856.8 790.9,857.4 794.4,857.9 797.8,858.1 801.2,858.5 804.7,859.0 808.1,859.4 811.5,859.8 815.0,860.3 818.4,860.3 821.9,860.5 825.3,860.4 828.7,860.4 832.2,860.3 835.6,860.4 839.1,860.2 842.5,859.9 845.9,859.4 849.4,859.3 852.8,859.3 856.2,859.4 859.7,859.6 863.1,859.9 866.6,859.6 870.0,859.3 873.4,858.9 876.9,858.4 880.3,857.4 883.7,857.5 887.2,856.9 890.6,856.6 894.1,856.2 897.5,856.6 900.9,856.0 904.4,856.0 907.8,855.7 911.2,855.2 914.7,854.2 918.1,853.7 921.6,853.1 925.0,852.3 928.4,851.7 931.9,851.0 935.3,850.4 938.8,849.5 942.2,848.3 945.6,847.7 949.1,847.2 952.5,846.4 955.9,844.9 959.4,844.2 962.8,843.0 966.3,841.3 969.7,839.9 973.1,838.8 976.6,837.0 980.0,835.7 983.4,833.3 986.9,831.2 990.3,829.4 993.8,826.9 997.2,823.9 1000.6,821.4 1004.1,819.5 1007.5,815.9 1011.0,813.5 1014.4,811.4 1017.8,808.5 1021.3,804.8 1024.7,802.3 1028.1,798.7 1031.6,794.7 1035.0,790.6 1038.5,786.2 1041.9,781.4 1045.3,775.9 1048.8,770.0 1052.2,765.3 1055.6,760.2 1059.1,754.4 1062.5,748.6 1066.0,742.8 1069.4,736.6 1072.8,729.1 1076.3,722.3 1079.7,715.8 1083.1,707.3 1086.6,699.9 1090.0,692.7 1093.5,685.9 1096.9,678.1 1100.3,670.8 1103.8,661.4 1107.2,653.9 1110.7,644.1 1114.1,635.0 1117.5,626.9 1121.0,617.6 1124.4,608.2 1127.8,600.6 1131.3,592.3 1134.7,584.8 1138.2,576.8 1141.6,567.9 1145.0,559.3 1148.5,551.1 1151.9,541.6 1155.3,533.5 1158.8,526.8 1162.2,519.8 1165.7,514.1 1169.1,507.5 1172.5,502.9 1176.0,495.9 1179.4,488.3 1182.9,481.0 1186.3,475.4 1189.7,467.8 1193.2,462.2 1196.6,456.9 1200.0,450.8 1203.5,446.2 1206.9,442.9 1210.4,436.6 1213.8,432.5 1217.2,429.9 1220.7,425.3 1224.1,421.3 1227.5,420.6 1231.0,417.5 1234.4,413.6 1237.9,410.5 1241.3,406.9 1244.7,404.6 1248.2,402.9 1251.6,400.0 1255.0,398.1 1258.5,395.5 1261.9,391.9 1265.4,390.0 1268.8,388.4 1272.2,387.3 1275.7,386.5 1279.1,385.3 1282.6,382.9"/>
<polyline stroke="#a07858" points="137.7,874.1 141.1,874.0 144.6,874.0 148.0,874.0 151.5,874.3 154.9,874.3 158.3,874.2 161.8,874.1 165.2,874.1 168.6,873.6 172.1,873.4 175.5,873.2 179.0,873.1 182.4,873.0 185.8,872.9 189.3,872.7 192.7,872.5 196.1,872.3 199.6,872.3 203.0,872.3 206.5,872.2 209.9,872.2 213.3,872.1 216.8,871.9 220.2,871.8 223.6,871.8 227.1,871.9 230.5,871.9 234.0,871.8 237.4,871.8 240.8,871.7 244.3,871.5 247.7,871.3 251.2,871.2 254.6,871.1 258.0,870.9 261.5,870.8 264.9,870.9 268.3,870.8 271.8,870.7 275.2,870.4 278.7,870.2 282.1,870.0 285.5,869.7 289.0,869.4 292.4,869.3 295.8,868.9 299.3,868.9 302.7,868.8 306.2,868.7 309.6,868.5 313.0,868.5 316.5,868.2 319.9,867.9 323.4,867.7 326.8,867.8 330.2,867.6 333.7,867.6 337.1,867.6 340.5,867.5 344.0,867.3 347.4,867.3 350.9,867.3 354.3,867.4 357.7,867.5 361.2,867.8 364.6,867.7 368.0,867.7 371.5,867.7 374.9,867.8 378.4,867.7 381.8,867.8 385.2,867.9 388.7,867.8 392.1,867.9 395.5,868.0 399.0,868.0 402.4,868.1 405.9,868.4 409.3,868.4 412.7,868.6 416.2,868.7 419.6,868.6 423.1,868.7 426.5,868.6 429.9,868.5 433.4,868.5 436.8,868.6 440.2,868.4 443.7,868.4 447.1,868.5 450.6,868.5 454.0,868.6 457.4,868.7 460.9,868.8 464.3,868.8 467.7,868.6 471.2,868.3 474.6,868.0 478.1,867.8 481.5,867.5 484.9,867.4 488.4,867.3 491.8,867.1 495.3,866.8 498.7,866.6 502.1,866.4 505.6,866.0 509.0,865.7 512.4,865.1 515.9,864.6 519.3,864.0 522.8,863.7 526.2,863.2 529.6,862.6 533.1,862.0 536.5,861.4 539.9,860.4 543.4,859.6 546.8,858.9 550.3,858.2 553.7,857.2 557.1,856.5 560.6,855.6 564.0,854.9 567.4,854.0 570.9,853.3 574.3,852.5 577.8,851.7 581.2,850.8 584.6,850.1 588.1,849.3 591.5,848.7 595.0,848.1 598.4,847.6 601.8,847.1 605.3,846.8 608.7,846.2 612.1,845.8 615.6,845.4 619.0,845.0 622.5,844.7 625.9,844.7 629.3,844.4 632.8,843.9 636.2,843.9 639.6,843.6 643.1,843.2 646.5,843.2 650.0,843.4 653.4,843.3 656.8,843.4 660.3,843.6 663.7,843.7 667.2,843.8 670.6,844.1 674.0,844.3 677.5,844.7 680.9,845.0 684.3,845.5 687.8,845.9 691.2,846.3 694.7,846.6 698.1,847.2 701.5,847.4 705.0,848.1 708.4,848.7 711.8,849.3 715.3,849.9 718.7,850.7 722.2,851.1 725.6,851.8 729.0,852.5 732.5,853.1 735.9,853.7 739.3,854.5 742.8,855.1 746.2,855.6 749.7,856.2 753.1,856.8 756.5,857.3 760.0,858.0 763.4,858.5 766.9,859.1 770.3,859.7 773.7,860.3 777.2,860.8 780.6,861.6 784.0,862.0 787.5,862.5 790.9,863.1 794.4,863.4 797.8,863.6 801.2,863.9 804.7,864.0 808.1,864.2 811.5,864.6 815.0,864.7 818.4,865.2 821.9,865.5 825.3,865.7 828.7,865.9 832.2,866.0 835.6,866.0 839.1,865.9 842.5,865.8 845.9,865.9 849.4,865.9 852.8,865.5 856.2,865.5 859.7,865.7 863.1,865.7 866.6,865.5 870.0,865.4 873.4,865.6 876.9,865.3 880.3,865.2 883.7,865.3 887.2,865.5 890.6,865.2 894.1,865.3 897.5,864.6 900.9,864.4 904.4,864.4 907.8,864.0 911.2,863.7 914.7,864.1 918.1,863.6 921.6,863.6 925.0,863.5 928.4,863.0 931.9,862.6 935.3,862.6 938.8,862.0 942.2,862.4 945.6,862.3 949.1,862.1 952.5,861.4 955.9,861.0 959.4,860.1 962.8,859.8 966.3,859.4 969.7,859.0 973.1,858.0 976.6,857.2 980.0,856.4 983.4,855.6 986.9,854.9 990.3,854.4 993.8,854.2 997.2,853.5 1000.6,852.7 1004.1,851.1 1007.5,849.6 1011.0,847.2 1014.4,844.6 1017.8,842.8 1021.3,840.6 1024.7,838.3 1028.1,836.5 1031.6,833.9 1035.0,831.5 1038.5,829.7 1041.9,827.0 1045.3,823.4 1048.8,820.7 1052.2,817.4 1055.6,813.2 1059.1,809.0 1062.5,803.7 1066.0,798.3 1069.4,792.3 1072.8,787.4 1076.3,781.6 1079.7,777.4 1083.1,771.8 1086.6,765.2 1090.0,758.0 1093.5,750.9 1096.9,743.0 1100.3,735.5 1103.8,726.8 1107.2,717.9 1110.7,709.5 1114.1,700.8 1117.5,691.3 1121.0,682.4 1124.4,672.7 1127.8,662.0 1131.3,651.4 1134.7,642.1 1138.2,631.3 1141.6,621.0 1145.0,611.3 1148.5,600.8 1151.9,591.0 1155.3,582.6 1158.8,573.9 1162.2,564.2 1165.7,556.3 1169.1,546.5 1172.5,536.5 1176.0,527.2 1179.4,519.8 1182.9,509.9 1186.3,502.8 1189.7,496.1 1193.2,489.5 1196.6,482.2 1200.0,477.2 1203.5,470.7 1206.9,465.1 1210.4,460.3 1213.8,455.1 1217.2,450.3 1220.7,444.5 1224.1,440.6 1227.5,436.1 1231.0,432.4 1234.4,427.7 1237.9,426.5 1241.3,423.0 1244.7,419.2 1248.2,417.8 1251.6,416.9 1255.0,412.6 1258.5,411.1 1261.9,410.0 1265.4,405.8 1268.8,404.1 1272.2,403.7 1275.7,403.3 1279.1,401.5 1282.6,401.6"/>
<polyline stroke="#3ec4d0" points="137.7,869.5 141.1,869.4 144.6,869.5 148.0,869.2 151.5,868.9 154.9,869.0 158.3,868.9 161.8,868.7 165.2,868.8 168.6,868.9 172.1,868.8 175.5,868.8 179.0,868.7 182.4,868.5 185.8,868.2 189.3,868.1 192.7,867.9 196.1,867.8 199.6,867.6 203.0,867.7 206.5,867.6 209.9,867.7 213.3,867.8 216.8,867.8 220.2,867.7 223.6,867.7 227.1,867.6 230.5,867.6 234.0,867.7 237.4,867.9 240.8,868.1 244.3,868.1 247.7,867.9 251.2,867.9 254.6,867.7 258.0,867.7 261.5,867.8 264.9,868.2 268.3,868.4 271.8,868.4 275.2,868.5 278.7,868.6 282.1,868.6 285.5,868.7 289.0,868.9 292.4,869.2 295.8,869.5 299.3,869.5 302.7,869.6 306.2,869.7 309.6,869.6 313.0,869.4 316.5,869.6 319.9,869.5 323.4,869.7 326.8,869.8 330.2,869.9 333.7,869.9 337.1,869.9 340.5,869.7 344.0,869.8 347.4,870.0 350.9,869.8 354.3,869.9 357.7,869.9 361.2,870.0 364.6,870.0 368.0,870.4 371.5,870.5 374.9,870.8 378.4,870.9 381.8,871.0 385.2,871.1 388.7,871.5 392.1,871.6 395.5,871.8 399.0,872.3 402.4,872.5 405.9,872.5 409.3,872.7 412.7,872.8 416.2,873.0 419.6,873.1 423.1,873.0 426.5,873.2 429.9,873.2 433.4,873.0 436.8,873.0 440.2,873.0 443.7,873.0 447.1,873.0 450.6,873.2 454.0,873.1 457.4,873.0 460.9,872.9 464.3,872.8 467.7,872.8 471.2,872.9 474.6,873.1 478.1,872.9 481.5,873.0 484.9,872.7 488.4,872.8 491.8,872.6 495.3,872.7 498.7,872.6 502.1,872.8 505.6,872.5 509.0,872.4 512.4,872.2 515.9,872.1 519.3,871.9 522.8,871.8 526.2,871.7 529.6,871.7 533.1,871.5 536.5,871.3 539.9,871.1 543.4,870.9 546.8,870.7 550.3,870.3 553.7,870.0 557.1,869.8 560.6,869.7 564.0,869.4 567.4,869.5 570.9,869.4 574.3,869.4 577.8,869.1 581.2,868.9 584.6,868.9 588.1,868.7 591.5,868.4 595.0,868.3 598.4,868.1 601.8,867.8 605.3,867.4 608.7,867.3 612.1,867.2 615.6,867.2 619.0,866.9 622.5,866.8 625.9,866.6 629.3,866.6 632.8,866.5 636.2,866.6 639.6,866.7 643.1,866.7 646.5,866.7 650.0,866.6 653.4,866.5 656.8,866.4 660.3,866.4 663.7,866.3 667.2,866.5 670.6,866.5 674.0,866.6 677.5,866.7 680.9,866.9 684.3,867.2 687.8,867.5 691.2,867.6 694.7,867.8 698.1,867.9 701.5,868.0 705.0,868.1 708.4,868.2 711.8,868.5 715.3,868.8 718.7,869.0 722.2,869.3 725.6,869.8 729.0,870.0 732.5,870.3 735.9,870.5 739.3,870.6 742.8,870.8 746.2,870.9 749.7,871.0 753.1,871.1 756.5,871.5 760.0,871.8 763.4,872.0 766.9,872.3 770.3,872.6 773.7,872.6 777.2,872.6 780.6,872.8 784.0,873.1 787.5,873.2 790.9,873.5 794.4,873.7 797.8,873.7 801.2,873.7 804.7,874.0 808.1,874.0 811.5,874.0 815.0,874.2 818.4,874.4 821.9,874.3 825.3,874.4 828.7,874.5 832.2,874.4 835.6,874.4 839.1,874.2 842.5,874.2 845.9,874.3 849.4,874.1 852.8,873.8 856.2,874.0 859.7,873.9 863.1,874.0 866.6,874.1 870.0,874.4 873.4,874.5 876.9,874.5 880.3,874.0 883.7,874.1 887.2,873.7 890.6,873.3 894.1,873.3 897.5,873.5 900.9,873.5 904.4,873.7 907.8,873.8 911.2,873.6 914.7,873.5 918.1,873.5 921.6,873.5 925.0,873.7 928.4,874.2 931.9,873.9 935.3,873.9 938.8,874.3 942.2,874.2 945.6,873.9 949.1,874.9 952.5,875.1 955.9,875.4 959.4,875.4 962.8,875.4 966.3,874.5 969.7,874.5 973.1,874.0 976.6,874.1 980.0,874.2 983.4,875.0 986.9,874.7 990.3,874.7 993.8,874.8 997.2,874.6 1000.6,874.3 1004.1,874.9 1007.5,874.9 1011.0,874.2 1014.4,874.4 1017.8,874.8 1021.3,874.7 1024.7,874.1 1028.1,874.8 1031.6,874.2 1035.0,873.5 1038.5,872.7 1041.9,873.1 1045.3,872.7 1048.8,872.4 1052.2,869.8 1055.6,867.8 1059.1,864.3 1062.5,859.5 1066.0,854.3 1069.4,849.5 1072.8,843.1 1076.3,836.0 1079.7,829.4 1083.1,823.0 1086.6,816.9 1090.0,811.0 1093.5,806.0 1096.9,798.4 1100.3,791.6 1103.8,782.5 1107.2,772.9 1110.7,763.2 1114.1,754.8 1117.5,743.8 1121.0,734.2 1124.4,723.2 1127.8,712.2 1131.3,700.1 1134.7,688.2 1138.2,676.2 1141.6,664.7 1145.0,652.8 1148.5,640.9 1151.9,628.6 1155.3,616.1 1158.8,602.7 1162.2,588.0 1165.7,574.0 1169.1,561.7 1172.5,549.2 1176.0,539.0 1179.4,530.4 1182.9,520.2 1186.3,511.7 1189.7,504.4 1193.2,496.1 1196.6,487.0 1200.0,481.7 1203.5,473.6 1206.9,467.3 1210.4,462.1 1213.8,457.6 1217.2,452.1 1220.7,448.9 1224.1,445.1 1227.5,441.0 1231.0,437.0 1234.4,433.6 1237.9,429.7 1241.3,426.0 1244.7,423.4 1248.2,421.6 1251.6,420.4 1255.0,419.8 1258.5,419.1 1261.9,417.1 1265.4,416.1 1268.8,413.6 1272.2,412.8 1275.7,411.4 1279.1,410.7 1282.6,410.0"/>
<polyline stroke="#ec7c9c" points="137.7,884.4 141.1,884.4 144.6,884.4 148.0,884.2 151.5,884.1 154.9,883.8 158.3,883.6 161.8,883.3 165.2,883.1 168.6,882.7 172.1,882.5 175.5,882.0 179.0,881.7 182.4,881.1 185.8,880.5 189.3,879.9 192.7,879.6 196.1,879.2 199.6,879.0 203.0,878.7 206.5,878.5 209.9,878.1 213.3,877.7 216.8,877.4 220.2,877.3 223.6,877.0 227.1,877.0 230.5,876.9 234.0,876.8 237.4,876.6 240.8,876.7 244.3,876.4 247.7,876.3 251.2,876.2 254.6,876.0 258.0,875.9 261.5,875.9 264.9,875.7 268.3,875.7 271.8,875.5 275.2,875.3 278.7,875.2 282.1,875.1 285.5,874.9 289.0,874.7 292.4,874.5 295.8,874.4 299.3,874.2 302.7,874.1 306.2,874.1 309.6,873.9 313.0,873.8 316.5,873.6 319.9,873.4 323.4,873.3 326.8,873.4 330.2,873.3 333.7,873.5 337.1,873.4 340.5,873.4 344.0,873.3 347.4,873.4 350.9,873.3 354.3,873.4 357.7,873.5 361.2,873.5 364.6,873.4 368.0,873.2 371.5,873.1 374.9,873.0 378.4,872.9 381.8,873.0 385.2,873.2 388.7,873.0 392.1,873.0 395.5,873.0 399.0,873.0 402.4,872.9 405.9,873.0 409.3,873.0 412.7,873.1 416.2,873.1 419.6,873.2 423.1,873.2 426.5,873.1 429.9,873.0 433.4,873.1 436.8,873.3 440.2,873.2 443.7,873.2 447.1,873.1 450.6,873.0 454.0,872.8 457.4,872.8 460.9,872.8 464.3,872.8 467.7,872.9 471.2,872.7 474.6,872.6 478.1,872.6 481.5,872.4 484.9,872.3 488.4,872.2 491.8,872.4 495.3,872.4 498.7,872.3 502.1,872.0 505.6,871.8 509.0,871.6 512.4,871.3 515.9,871.2 519.3,871.2 522.8,871.0 526.2,870.7 529.6,870.5 533.1,870.4 536.5,870.1 539.9,869.8 543.4,869.5 546.8,869.2 550.3,868.8 553.7,868.4 557.1,868.0 560.6,867.5 564.0,867.1 567.4,866.8 570.9,866.4 574.3,866.1 577.8,865.8 581.2,865.5 584.6,865.1 588.1,864.7 591.5,864.5 595.0,864.2 598.4,863.8 601.8,863.4 605.3,863.2 608.7,862.8 612.1,862.6 615.6,862.4 619.0,862.4 622.5,862.3 625.9,862.3 629.3,862.2 632.8,862.1 636.2,861.9 639.6,861.7 643.1,861.6 646.5,861.7 650.0,861.8 653.4,861.9 656.8,862.1 660.3,862.1 663.7,862.1 667.2,862.3 670.6,862.3 674.0,862.2 677.5,862.3 680.9,862.3 684.3,862.3 687.8,862.4 691.2,862.6 694.7,862.7 698.1,863.0 701.5,863.3 705.0,863.5 708.4,863.8 711.8,864.1 715.3,864.3 718.7,864.3 722.2,864.4 725.6,864.5 729.0,864.6 732.5,864.9 735.9,865.0 739.3,865.2 742.8,865.3 746.2,865.6 749.7,865.8 753.1,866.2 756.5,866.6 760.0,867.0 763.4,867.4 766.9,867.5 770.3,867.8 773.7,868.0 777.2,868.2 780.6,868.5 784.0,868.7 787.5,868.8 790.9,869.2 794.4,869.4 797.8,869.4 801.2,869.6 804.7,870.0 808.1,869.8 811.5,869.8 815.0,869.9 818.4,870.1 821.9,870.0 825.3,870.0 828.7,870.1 832.2,869.9 835.6,869.8 839.1,869.8 842.5,870.2 845.9,870.0 849.4,870.0 852.8,870.2 856.2,870.4 859.7,870.1 863.1,870.3 866.6,870.4 870.0,870.0 873.4,869.3 876.9,869.2 880.3,869.4 883.7,869.3 887.2,869.6 890.6,870.0 894.1,869.9 897.5,869.5 900.9,869.6 904.4,869.2 907.8,869.0 911.2,868.9 914.7,868.7 918.1,868.2 921.6,868.1 925.0,867.5 928.4,867.4 931.9,867.1 935.3,867.1 938.8,866.7 942.2,867.1 945.6,866.0 949.1,865.8 952.5,865.2 955.9,864.9 959.4,864.1 962.8,864.3 966.3,863.7 969.7,863.3 973.1,862.9 976.6,862.4 980.0,862.2 983.4,860.6 986.9,860.1 990.3,859.0 993.8,857.6 997.2,855.6 1000.6,855.7 1004.1,854.5 1007.5,852.7 1011.0,851.2 1014.4,850.7 1017.8,849.0 1021.3,847.0 1024.7,844.8 1028.1,842.8 1031.6,839.7 1035.0,836.5 1038.5,833.5 1041.9,830.8 1045.3,827.8 1048.8,824.8 1052.2,821.7 1055.6,818.2 1059.1,814.4 1062.5,810.3 1066.0,806.3 1069.4,800.9 1072.8,795.4 1076.3,790.4 1079.7,785.1 1083.1,778.4 1086.6,771.4 1090.0,765.6 1093.5,759.6 1096.9,752.5 1100.3,746.1 1103.8,740.4 1107.2,732.6 1110.7,723.2 1114.1,713.8 1117.5,703.8 1121.0,693.7 1124.4,684.1 1127.8,674.6 1131.3,665.9 1134.7,657.2 1138.2,648.6 1141.6,637.8 1145.0,627.9 1148.5,618.0 1151.9,608.1 1155.3,597.5 1158.8,588.4 1162.2,578.9 1165.7,569.1 1169.1,559.4 1172.5,551.3 1176.0,542.7 1179.4,535.8 1182.9,526.3 1186.3,517.6 1189.7,508.3 1193.2,499.8 1196.6,490.1 1200.0,483.7 1203.5,479.0 1206.9,473.3 1210.4,469.7 1213.8,465.9 1217.2,462.0 1220.7,455.8 1224.1,450.6 1227.5,445.0 1231.0,440.4 1234.4,435.3 1237.9,431.6 1241.3,428.4 1244.7,426.2 1248.2,423.2 1251.6,419.9 1255.0,416.9 1258.5,415.3 1261.9,411.4 1265.4,408.6 1268.8,407.9 1272.2,405.7 1275.7,403.4 1279.1,401.5 1282.6,400.1"/>
<polyline stroke="#6ab05a" points="137.7,865.9 141.1,865.9 144.6,865.9 148.0,865.8 151.5,865.7 154.9,865.8 158.3,865.9 161.8,865.7 165.2,865.6 168.6,865.6 172.1,865.3 175.5,865.0 179.0,864.9 182.4,864.9 185.8,864.7 189.3,864.7 192.7,864.7 196.1,864.5 199.6,864.2 203.0,864.0 206.5,864.0 209.9,863.8 213.3,863.9 216.8,863.9 220.2,863.7 223.6,863.6 227.1,863.5 230.5,863.2 234.0,863.0 237.4,862.9 240.8,862.7 244.3,862.6 247.7,862.7 251.2,862.6 254.6,862.3 258.0,862.2 261.5,861.9 264.9,861.6 268.3,861.6 271.8,861.3 275.2,861.0 278.7,860.7 282.1,860.4 285.5,860.0 289.0,859.9 292.4,859.7 295.8,859.5 299.3,859.3 302.7,859.2 306.2,858.8 309.6,858.7 313.0,858.5 316.5,858.3 319.9,858.2 323.4,858.2 326.8,858.1 330.2,858.0 333.7,858.0 337.1,857.9 340.5,857.9 344.0,857.7 347.4,857.6 350.9,857.6 354.3,857.5 357.7,857.7 361.2,857.8 364.6,857.8 368.0,857.8 371.5,857.9 374.9,857.9 378.4,857.9 381.8,858.0 385.2,858.4 388.7,858.5 392.1,858.8 395.5,859.1 399.0,859.4 402.4,859.5 405.9,859.9 409.3,860.1 412.7,860.2 416.2,860.1 419.6,860.2 423.1,860.2 426.5,860.3 429.9,860.4 433.4,860.6 436.8,860.5 440.2,860.5 443.7,860.4 447.1,860.6 450.6,860.5 454.0,860.6 457.4,860.7 460.9,860.5 464.3,860.3 467.7,860.2 471.2,860.0 474.6,859.8 478.1,859.8 481.5,859.8 484.9,859.6 488.4,859.6 491.8,859.6 495.3,859.5 498.7,859.1 502.1,859.2 505.6,859.0 509.0,858.7 512.4,858.7 515.9,858.9 519.3,858.6 522.8,858.6 526.2,858.3 529.6,858.1 533.1,857.7 536.5,857.5 539.9,857.2 543.4,857.0 546.8,856.7 550.3,856.3 553.7,856.0 557.1,855.7 560.6,855.4 564.0,855.0 567.4,854.6 570.9,854.4 574.3,854.0 577.8,853.6 581.2,853.2 584.6,853.1 588.1,852.9 591.5,852.6 595.0,852.4 598.4,852.1 601.8,851.8 605.3,851.4 608.7,851.1 612.1,851.1 615.6,850.9 619.0,850.6 622.5,850.5 625.9,850.7 629.3,850.5 632.8,850.4 636.2,850.5 639.6,850.2 643.1,850.0 646.5,850.0 650.0,850.1 653.4,850.1 656.8,850.3 660.3,850.3 663.7,850.2 667.2,850.4 670.6,850.6 674.0,850.9 677.5,851.1 680.9,851.4 684.3,851.6 687.8,851.8 691.2,852.0 694.7,852.1 698.1,852.3 701.5,852.4 705.0,852.6 708.4,852.8 711.8,853.2 715.3,853.7 718.7,854.1 722.2,854.5 725.6,855.0 729.0,855.1 732.5,855.5 735.9,855.7 739.3,855.9 742.8,856.1 746.2,856.4 749.7,856.5 753.1,856.9 756.5,857.1 760.0,857.5 763.4,858.1 766.9,858.5 770.3,858.8 773.7,859.2 777.2,859.3 780.6,859.6 784.0,859.7 787.5,859.7 790.9,860.0 794.4,860.2 797.8,860.3 801.2,860.4 804.7,860.8 808.1,861.0 811.5,861.3 815.0,861.4 818.4,861.5 821.9,861.7 825.3,861.9 828.7,862.0 832.2,862.2 835.6,862.2 839.1,861.9 842.5,861.3 845.9,860.9 849.4,860.5 852.8,860.1 856.2,859.9 859.7,860.1 863.1,859.8 866.6,859.2 870.0,859.2 873.4,858.4 876.9,857.4 880.3,856.9 883.7,856.4 887.2,855.5 890.6,854.9 894.1,854.2 897.5,853.5 900.9,852.6 904.4,851.6 907.8,850.6 911.2,850.3 914.7,849.7 918.1,848.8 921.6,848.2 925.0,847.5 928.4,846.1 931.9,844.8 935.3,843.9 938.8,842.6 942.2,841.2 945.6,839.5 949.1,837.9 952.5,835.9 955.9,834.7 959.4,832.0 962.8,830.7 966.3,828.2 969.7,826.2 973.1,823.3 976.6,821.6 980.0,818.9 983.4,817.1 986.9,814.7 990.3,811.6 993.8,809.2 997.2,806.8 1000.6,803.3 1004.1,800.0 1007.5,797.0 1011.0,792.8 1014.4,788.2 1017.8,783.9 1021.3,780.8 1024.7,775.8 1028.1,771.9 1031.6,767.3 1035.0,762.9 1038.5,757.3 1041.9,753.2 1045.3,747.3 1048.8,741.7 1052.2,735.7 1055.6,729.0 1059.1,723.3 1062.5,717.7 1066.0,712.4 1069.4,705.6 1072.8,700.0 1076.3,692.7 1079.7,685.2 1083.1,679.0 1086.6,671.4 1090.0,664.0 1093.5,657.3 1096.9,651.7 1100.3,643.2 1103.8,637.9 1107.2,630.3 1110.7,622.5 1114.1,612.6 1117.5,604.7 1121.0,594.9 1124.4,586.3 1127.8,577.1 1131.3,570.3 1134.7,561.7 1138.2,555.3 1141.6,548.8 1145.0,542.4 1148.5,534.5 1151.9,528.1 1155.3,519.9 1158.8,511.3 1162.2,504.1 1165.7,497.0 1169.1,489.7 1172.5,481.6 1176.0,474.1 1179.4,467.0 1182.9,460.4 1186.3,452.4 1189.7,446.8 1193.2,442.4 1196.6,437.5 1200.0,432.2 1203.5,426.3 1206.9,421.7 1210.4,414.1 1213.8,408.1 1217.2,403.0 1220.7,399.0 1224.1,394.2 1227.5,391.7 1231.0,388.3 1234.4,385.1 1237.9,382.8 1241.3,378.8 1244.7,376.1 1248.2,373.4 1251.6,368.9 1255.0,365.4 1258.5,362.8 1261.9,360.0 1265.4,357.5 1268.8,354.1 1272.2,351.9 1275.7,348.9 1279.1,346.1 1282.6,342.2"/>
<polyline stroke="#70a8e8" points="137.7,865.6 141.1,865.6 144.6,865.6 148.0,865.6 151.5,865.5 154.9,865.5 158.3,865.4 161.8,865.3 165.2,865.2 168.6,865.1 172.1,864.7 175.5,864.6 179.0,864.4 182.4,864.3 185.8,864.3 189.3,864.3 192.7,864.2 196.1,864.1 199.6,863.9 203.0,863.7 206.5,863.6 209.9,863.5 213.3,863.4 216.8,863.5 220.2,863.5 223.6,863.3 227.1,863.3 230.5,863.4 234.0,863.3 237.4,863.2 240.8,863.3 244.3,863.0 247.7,862.7 251.2,862.7 254.6,862.6 258.0,862.3 261.5,862.0 264.9,862.0 268.3,861.8 271.8,861.7 275.2,861.4 278.7,861.4 282.1,861.1 285.5,860.7 289.0,860.7 292.4,860.9 295.8,860.7 299.3,860.5 302.7,860.6 306.2,860.2 309.6,859.9 313.0,859.8 316.5,859.8 319.9,859.6 323.4,859.6 326.8,859.6 330.2,859.5 333.7,859.2 337.1,859.1 340.5,859.1 344.0,859.0 347.4,858.8 350.9,858.9 354.3,858.9 357.7,858.8 361.2,858.8 364.6,859.0 368.0,859.1 371.5,859.4 374.9,859.4 378.4,859.8 381.8,860.0 385.2,860.2 388.7,860.2 392.1,860.5 395.5,860.5 399.0,860.5 402.4,860.8 405.9,860.9 409.3,861.0 412.7,861.2 416.2,861.1 419.6,861.2 423.1,861.3 426.5,861.3 429.9,861.5 433.4,861.8 436.8,861.8 440.2,861.7 443.7,861.7 447.1,861.6 450.6,861.6 454.0,861.4 457.4,861.6 460.9,861.6 464.3,861.6 467.7,861.5 471.2,861.4 474.6,861.4 478.1,861.3 481.5,861.1 484.9,860.9 488.4,861.0 491.8,860.9 495.3,860.9 498.7,860.9 502.1,860.9 505.6,860.8 509.0,860.5 512.4,860.5 515.9,860.4 519.3,860.4 522.8,860.4 526.2,860.3 529.6,860.0 533.1,859.4 536.5,859.1 539.9,858.7 543.4,858.3 546.8,858.2 550.3,858.1 553.7,857.8 557.1,857.5 560.6,857.3 564.0,856.9 567.4,856.8 570.9,856.6 574.3,856.5 577.8,856.2 581.2,855.9 584.6,855.5 588.1,855.4 591.5,855.0 595.0,854.9 598.4,854.8 601.8,854.8 605.3,854.6 608.7,854.4 612.1,854.1 615.6,853.9 619.0,853.7 622.5,853.5 625.9,853.6 629.3,853.7 632.8,853.7 636.2,853.7 639.6,853.9 643.1,853.7 646.5,853.7 650.0,853.6 653.4,853.7 656.8,853.4 660.3,853.4 663.7,853.4 667.2,853.4 670.6,853.3 674.0,853.5 677.5,853.7 680.9,854.0 684.3,854.3 687.8,854.7 691.2,855.0 694.7,855.1 698.1,855.2 701.5,855.4 705.0,855.5 708.4,855.7 711.8,856.0 715.3,856.3 718.7,856.8 722.2,857.2 725.6,857.6 729.0,857.8 732.5,858.3 735.9,858.2 739.3,858.6 742.8,859.0 746.2,859.3 749.7,859.4 753.1,860.1 756.5,860.3 760.0,860.7 763.4,861.0 766.9,861.2 770.3,861.4 773.7,861.8 777.2,861.9 780.6,862.2 784.0,862.2 787.5,862.6 790.9,862.6 794.4,862.8 797.8,863.0 801.2,863.4 804.7,863.5 808.1,863.7 811.5,864.0 815.0,864.3 818.4,864.4 821.9,864.4 825.3,864.5 828.7,864.4 832.2,864.3 835.6,864.2 839.1,864.3 842.5,864.3 845.9,864.2 849.4,864.2 852.8,864.1 856.2,864.3 859.7,864.1 863.1,864.3 866.6,864.3 870.0,864.1 873.4,863.9 876.9,863.9 880.3,863.5 883.7,863.1 887.2,863.2 890.6,862.8 894.1,862.5 897.5,862.6 900.9,863.1 904.4,863.2 907.8,863.0 911.2,862.8 914.7,862.6 918.1,862.0 921.6,861.3 925.0,861.2 928.4,860.9 931.9,859.7 935.3,859.3 938.8,858.7 942.2,858.3 945.6,858.0 949.1,858.3 952.5,857.6 955.9,857.1 959.4,856.1 962.8,855.2 966.3,854.4 969.7,852.8 973.1,852.1 976.6,851.1 980.0,849.4 983.4,848.2 986.9,847.1 990.3,844.9 993.8,843.5 997.2,843.4 1000.6,841.0 1004.1,839.7 1007.5,838.6 1011.0,836.2 1014.4,833.6 1017.8,831.5 1021.3,829.3 1024.7,826.3 1028.1,824.4 1031.6,821.4 1035.0,819.0 1038.5,815.8 1041.9,812.4 1045.3,808.2 1048.8,804.0 1052.2,798.8 1055.6,794.0 1059.1,790.2 1062.5,785.3 1066.0,780.1 1069.4,774.7 1072.8,768.3 1076.3,760.9 1079.7,754.5 1083.1,747.6 1086.6,741.9 1090.0,734.6 1093.5,727.4 1096.9,719.3 1100.3,711.9 1103.8,702.9 1107.2,695.5 1110.7,686.9 1114.1,679.1 1117.5,669.4 1121.0,660.0 1124.4,649.2 1127.8,640.2 1131.3,630.1 1134.7,621.1 1138.2,611.9 1141.6,603.7 1145.0,594.9 1148.5,586.1 1151.9,577.3 1155.3,568.4 1158.8,560.0 1162.2,551.2 1165.7,542.1 1169.1,532.8 1172.5,524.5 1176.0,515.3 1179.4,506.1 1182.9,497.9 1186.3,491.3 1189.7,484.5 1193.2,479.5 1196.6,474.1 1200.0,468.2 1203.5,462.8 1206.9,456.0 1210.4,448.3 1213.8,443.0 1217.2,437.9 1220.7,433.5 1224.1,430.9 1227.5,428.2 1231.0,424.0 1234.4,421.2 1237.9,417.4 1241.3,412.0 1244.7,408.5 1248.2,405.4 1251.6,402.1 1255.0,398.8 1258.5,398.1 1261.9,396.6 1265.4,396.1 1268.8,393.5 1272.2,392.6 1275.7,392.1 1279.1,390.1 1282.6,387.4"/>
<polyline stroke="#e8606a" points="137.7,872.5 141.1,872.4 144.6,872.3 148.0,872.0 151.5,871.8 154.9,871.8 158.3,871.8 161.8,871.8 165.2,871.9 168.6,871.8 172.1,871.8 175.5,871.5 179.0,871.2 182.4,871.0 185.8,871.1 189.3,870.8 192.7,870.7 196.1,870.7 199.6,870.6 203.0,870.4 206.5,870.3 209.9,870.4 213.3,870.3 216.8,870.4 220.2,870.4 223.6,870.3 227.1,870.1 230.5,870.1 234.0,869.9 237.4,869.9 240.8,869.9 244.3,869.7 247.7,869.7 251.2,869.7 254.6,869.7 258.0,869.6 261.5,869.7 264.9,869.5 268.3,869.5 271.8,869.5 275.2,869.5 278.7,869.5 282.1,869.6 285.5,869.6 289.0,869.5 292.4,869.6 295.8,869.7 299.3,869.4 302.7,869.3 306.2,869.1 309.6,869.0 313.0,868.8 316.5,868.9 319.9,868.8 323.4,868.8 326.8,868.7 330.2,868.7 333.7,868.8 337.1,869.0 340.5,869.1 344.0,869.2 347.4,869.2 350.9,868.9 354.3,868.9 357.7,869.0 361.2,869.1 364.6,869.1 368.0,869.3 371.5,869.3 374.9,869.2 378.4,869.2 381.8,869.1 385.2,869.2 388.7,869.2 392.1,869.2 395.5,869.3 399.0,869.3 402.4,869.5 405.9,869.8 409.3,869.9 412.7,870.0 416.2,870.1 419.6,870.2 423.1,870.1 426.5,870.3 429.9,870.3 433.4,870.2 436.8,870.2 440.2,870.1 443.7,870.1 447.1,870.1 450.6,870.2 454.0,870.0 457.4,870.2 460.9,870.0 464.3,869.8 467.7,869.6 471.2,869.6 474.6,869.5 478.1,869.6 481.5,869.6 484.9,869.6 488.4,869.4 491.8,869.4 495.3,869.2 498.7,869.1 502.1,868.9 505.6,869.1 509.0,868.9 512.4,868.4 515.9,868.1 519.3,868.0 522.8,867.5 526.2,867.1 529.6,866.9 533.1,866.6 536.5,866.2 539.9,865.8 543.4,865.4 546.8,865.0 550.3,864.5 553.7,864.0 557.1,863.5 560.6,863.1 564.0,862.6 567.4,862.3 570.9,861.8 574.3,861.4 577.8,861.0 581.2,860.6 584.6,860.0 588.1,859.4 591.5,858.9 595.0,858.5 598.4,858.0 601.8,857.8 605.3,857.5 608.7,857.5 612.1,857.1 615.6,857.0 619.0,856.8 622.5,856.8 625.9,856.4 629.3,856.4 632.8,856.4 636.2,856.4 639.6,856.3 643.1,856.3 646.5,856.4 650.0,856.3 653.4,856.3 656.8,856.4 660.3,856.4 663.7,856.4 667.2,856.5 670.6,856.5 674.0,856.7 677.5,856.8 680.9,857.0 684.3,857.0 687.8,857.4 691.2,857.6 694.7,857.9 698.1,858.1 701.5,858.5 705.0,858.7 708.4,859.1 711.8,859.5 715.3,859.8 718.7,859.8 722.2,860.1 725.6,860.4 729.0,860.7 732.5,861.0 735.9,861.6 739.3,861.8 742.8,862.2 746.2,862.4 749.7,862.7 753.1,863.3 756.5,863.7 760.0,864.1 763.4,864.8 766.9,865.3 770.3,865.5 773.7,865.9 777.2,866.2 780.6,866.5 784.0,866.6 787.5,866.7 790.9,866.9 794.4,867.2 797.8,867.3 801.2,867.6 804.7,867.8 808.1,868.0 811.5,868.0 815.0,868.2 818.4,868.1 821.9,868.4 825.3,868.5 828.7,868.8 832.2,868.7 835.6,868.8 839.1,868.5 842.5,868.2 845.9,867.8 849.4,867.6 852.8,867.1 856.2,866.8 859.7,866.7 863.1,866.1 866.6,865.6 870.0,865.0 873.4,864.2 876.9,863.5 880.3,862.8 883.7,861.9 887.2,861.2 890.6,860.5 894.1,859.6 897.5,858.8 900.9,857.8 904.4,856.7 907.8,856.0 911.2,854.8 914.7,853.7 918.1,852.8 921.6,851.9 925.0,850.7 928.4,849.5 931.9,848.6 935.3,847.2 938.8,845.9 942.2,844.3 945.6,843.0 949.1,841.1 952.5,839.3 955.9,836.7 959.4,834.2 962.8,831.5 966.3,829.7 969.7,827.5 973.1,825.9 976.6,823.8 980.0,821.5 983.4,818.3 986.9,815.3 990.3,812.0 993.8,808.1 997.2,804.4 1000.6,800.4 1004.1,796.7 1007.5,792.4 1011.0,789.2 1014.4,784.6 1017.8,781.3 1021.3,777.1 1024.7,772.9 1028.1,768.4 1031.6,764.2 1035.0,759.1 1038.5,753.8 1041.9,748.2 1045.3,742.6 1048.8,736.8 1052.2,731.1 1055.6,726.4 1059.1,720.9 1062.5,714.8 1066.0,707.6 1069.4,700.6 1072.8,692.6 1076.3,685.0 1079.7,676.9 1083.1,670.9 1086.6,663.2 1090.0,656.5 1093.5,649.9 1096.9,643.9 1100.3,636.8 1103.8,628.7 1107.2,620.7 1110.7,612.6 1114.1,604.2 1117.5,596.2 1121.0,589.1 1124.4,581.4 1127.8,573.1 1131.3,564.8 1134.7,557.5 1138.2,549.6 1141.6,541.1 1145.0,534.4 1148.5,527.4 1151.9,518.9 1155.3,510.9 1158.8,504.1 1162.2,496.4 1165.7,488.8 1169.1,481.3 1172.5,474.9 1176.0,467.5 1179.4,460.5 1182.9,455.1 1186.3,450.0 1189.7,444.3 1193.2,439.7 1196.6,433.8 1200.0,427.3 1203.5,420.2 1206.9,414.3 1210.4,408.0 1213.8,404.0 1217.2,399.7 1220.7,395.8 1224.1,391.9 1227.5,388.2 1231.0,383.4 1234.4,379.5 1237.9,375.0 1241.3,370.5 1244.7,368.6 1248.2,365.8 1251.6,362.1 1255.0,359.7 1258.5,357.7 1261.9,354.7 1265.4,350.8 1268.8,348.4 1272.2,345.5 1275.7,342.8 1279.1,339.4 1282.6,337.9"/>
<polyline stroke="#b07ee6" points="137.7,860.1 141.1,860.1 144.6,860.0 148.0,860.0 151.5,860.1 154.9,860.2 158.3,860.1 161.8,860.0 165.2,859.8 168.6,859.7 172.1,859.5 175.5,859.3 179.0,859.3 182.4,859.1 185.8,858.9 189.3,859.0 192.7,858.8 196.1,858.5 199.6,858.5 203.0,858.2 206.5,858.0 209.9,858.0 213.3,857.9 216.8,857.8 220.2,857.8 223.6,858.1 227.1,858.0 230.5,858.2 234.0,858.1 237.4,858.2 240.8,857.9 244.3,857.8 247.7,857.5 251.2,857.7 254.6,857.5 258.0,857.5 261.5,857.8 264.9,858.0 268.3,857.6 271.8,857.5 275.2,857.5 278.7,857.1 282.1,857.0 285.5,856.9 289.0,857.0 292.4,856.7 295.8,856.6 299.3,856.6 302.7,856.5 306.2,856.4 309.6,856.5 313.0,856.4 316.5,856.2 319.9,856.2 323.4,856.0 326.8,855.9 330.2,856.0 333.7,856.1 337.1,856.1 340.5,856.0 344.0,856.0 347.4,856.0 350.9,855.8 354.3,855.9 357.7,856.1 361.2,856.2 364.6,856.2 368.0,856.3 371.5,856.5 374.9,856.6 378.4,856.7 381.8,856.9 385.2,857.2 388.7,857.2 392.1,857.3 395.5,857.3 399.0,857.4 402.4,857.4 405.9,857.6 409.3,857.5 412.7,857.8 416.2,858.0 419.6,858.1 423.1,858.3 426.5,858.7 429.9,858.7 433.4,858.7 436.8,858.9 440.2,858.8 443.7,858.8 447.1,858.8 450.6,858.8 454.0,858.6 457.4,858.5 460.9,858.4 464.3,858.4 467.7,858.4 471.2,858.2 474.6,858.2 478.1,858.1 481.5,858.0 484.9,857.9 488.4,857.8 491.8,857.7 495.3,857.6 498.7,857.4 502.1,857.3 505.6,857.5 509.0,857.3 512.4,857.3 515.9,857.2 519.3,857.1 522.8,856.7 526.2,856.5 529.6,856.2 533.1,855.8 536.5,855.3 539.9,855.1 543.4,854.8 546.8,854.4 550.3,854.3 553.7,853.9 557.1,853.5 560.6,853.2 564.0,852.7 567.4,852.2 570.9,852.1 574.3,851.7 577.8,851.3 581.2,851.2 584.6,850.8 588.1,850.2 591.5,850.1 595.0,849.8 598.4,849.2 601.8,848.8 605.3,848.7 608.7,848.3 612.1,848.3 615.6,848.2 619.0,848.2 622.5,848.2 625.9,848.2 629.3,847.8 632.8,847.7 636.2,847.7 639.6,847.5 643.1,847.2 646.5,847.2 650.0,847.3 653.4,847.2 656.8,847.1 660.3,847.3 663.7,847.6 667.2,847.7 670.6,847.8 674.0,848.1 677.5,848.3 680.9,848.4 684.3,848.4 687.8,848.5 691.2,848.6 694.7,848.5 698.1,848.8 701.5,849.1 705.0,849.5 708.4,849.6 711.8,850.1 715.3,850.4 718.7,850.7 722.2,850.7 725.6,851.0 729.0,851.2 732.5,851.3 735.9,851.6 739.3,852.1 742.8,852.5 746.2,852.9 749.7,853.3 753.1,853.3 756.5,853.5 760.0,853.5 763.4,853.5 766.9,853.7 770.3,854.0 773.7,854.3 777.2,854.7 780.6,855.1 784.0,855.3 787.5,855.5 790.9,855.7 794.4,855.7 797.8,856.0 801.2,856.5 804.7,856.6 808.1,857.0 811.5,857.2 815.0,857.4 818.4,857.3 821.9,857.3 825.3,857.2 828.7,857.2 832.2,857.1 835.6,857.2 839.1,857.3 842.5,857.1 845.9,856.6 849.4,856.0 852.8,855.2 856.2,854.3 859.7,853.6 863.1,852.9 866.6,851.7 870.0,850.8 873.4,849.2 876.9,847.7 880.3,846.0 883.7,844.5 887.2,842.5 890.6,840.9 894.1,839.3 897.5,838.0 900.9,836.5 904.4,835.3 907.8,833.8 911.2,831.9 914.7,830.0 918.1,828.0 921.6,826.0 925.0,823.9 928.4,822.3 931.9,820.1 935.3,817.9 938.8,815.7 942.2,813.8 945.6,810.6 949.1,808.2 952.5,806.3 955.9,803.8 959.4,800.5 962.8,798.1 966.3,794.7 969.7,790.6 973.1,787.0 976.6,783.8 980.0,780.4 983.4,777.5 986.9,774.5 990.3,770.5 993.8,767.4 997.2,763.2 1000.6,759.0 1004.1,754.4 1007.5,751.1 1011.0,746.9 1014.4,742.7 1017.8,738.2 1021.3,733.7 1024.7,728.0 1028.1,721.5 1031.6,715.8 1035.0,710.3 1038.5,705.3 1041.9,699.7 1045.3,694.7 1048.8,689.1 1052.2,683.7 1055.6,677.5 1059.1,671.3 1062.5,666.0 1066.0,661.2 1069.4,654.7 1072.8,648.4 1076.3,643.0 1079.7,636.5 1083.1,627.7 1086.6,621.9 1090.0,616.4 1093.5,610.0 1096.9,602.9 1100.3,598.0 1103.8,591.3 1107.2,583.9 1110.7,577.2 1114.1,570.8 1117.5,563.8 1121.0,557.5 1124.4,551.0 1127.8,544.7 1131.3,537.7 1134.7,531.6 1138.2,524.6 1141.6,519.2 1145.0,512.4 1148.5,507.3 1151.9,499.5 1155.3,493.2 1158.8,485.6 1162.2,480.3 1165.7,474.2 1169.1,469.3 1172.5,464.2 1176.0,458.0 1179.4,451.5 1182.9,445.0 1186.3,439.3 1189.7,433.1 1193.2,428.0 1196.6,423.0 1200.0,417.8 1203.5,412.3 1206.9,407.2 1210.4,402.8 1213.8,398.0 1217.2,393.7 1220.7,389.6 1224.1,385.6 1227.5,382.7 1231.0,378.3 1234.4,374.5 1237.9,370.8 1241.3,366.9 1244.7,360.9 1248.2,358.4 1251.6,355.6 1255.0,352.1 1258.5,349.7 1261.9,347.5 1265.4,343.6 1268.8,341.5 1272.2,338.7 1275.7,334.1 1279.1,331.7 1282.6,329.1"/>
</g>
<rect x="575.5" y="26.6" width="121" height="883.4" fill="#bbf8b9" style="mix-blend-mode:multiply"/>
<rect x="411.7" y="642.6" width="59.1" height="231.4" fill="#c3c3c3" fill-opacity="0.65"/>
<rect x="805.5" y="442" width="58.7" height="432" fill="#c3c3c3" fill-opacity="0.65"/>
<g stroke="#000" stroke-width="3.0" fill="none" stroke-linecap="butt">
<path d="M138.1 23.8V949.8 M119.8 25.3H1286.8 M1285.3 25.3V949.8 M138.1 949.8H1285.3"/>
<path d="M119.8 949.80H138.1"/>
<path d="M119.8 878.69H138.1"/>
<path d="M119.8 807.58H138.1"/>
<path d="M119.8 736.47H138.1"/>
<path d="M119.8 665.36H138.1"/>
<path d="M119.8 594.25H138.1"/>
<path d="M119.8 523.14H138.1"/>
<path d="M119.8 452.03H138.1"/>
<path d="M119.8 380.92H138.1"/>
<path d="M119.8 309.81H138.1"/>
<path d="M119.8 238.70H138.1"/>
<path d="M119.8 167.59H138.1"/>
<path d="M119.8 96.48H138.1"/>
<path d="M119.8 25.37H138.1"/>
<path d="M128.79999999999998 914.25H138.1"/>
<path d="M128.79999999999998 843.13H138.1"/>
<path d="M128.79999999999998 772.02H138.1"/>
<path d="M128.79999999999998 700.91H138.1"/>
<path d="M128.79999999999998 629.80H138.1"/>
<path d="M128.79999999999998 558.69H138.1"/>
<path d="M128.79999999999998 487.58H138.1"/>
<path d="M128.79999999999998 416.48H138.1"/>
<path d="M128.79999999999998 345.37H138.1"/>
<path d="M128.79999999999998 274.25H138.1"/>
<path d="M128.79999999999998 203.14H138.1"/>
<path d="M128.79999999999998 132.03H138.1"/>
<path d="M128.79999999999998 60.92H138.1"/>
<path d="M137.70 949.8V966.5"/>
<path d="M252.30 949.8V958.3"/>
<path d="M366.90 949.8V966.5"/>
<path d="M481.50 949.8V958.3"/>
<path d="M596.10 949.8V966.5"/>
<path d="M710.70 949.8V958.3"/>
<path d="M825.30 949.8V966.5"/>
<path d="M939.90 949.8V958.3"/>
<path d="M1054.50 949.8V966.5"/>
<path d="M1169.10 949.8V958.3"/>
<path d="M1283.70 949.8V966.5"/>
</g>
<defs><linearGradient id="cb" x1="0" x2="1" y1="0" y2="0"><stop offset="0.0000" stop-color="#1f1850"/><stop offset="0.0592" stop-color="#251a55"/><stop offset="0.0888" stop-color="#3a1f68"/><stop offset="0.1384" stop-color="#4a2878"/><stop offset="0.1776" stop-color="#452a80"/><stop offset="0.2072" stop-color="#38308f"/><stop offset="0.2569" stop-color="#263a98"/><stop offset="0.3004" stop-color="#234098"/><stop offset="0.3404" stop-color="#05509a"/><stop offset="0.3640" stop-color="#0a7080"/><stop offset="0.3892" stop-color="#00856a"/><stop offset="0.4188" stop-color="#00a048"/><stop offset="0.4293" stop-color="#00aa40"/><stop offset="0.4589" stop-color="#30b04a"/><stop offset="0.4980" stop-color="#50b848"/><stop offset="0.5224" stop-color="#70be45"/><stop offset="0.5520" stop-color="#98c83c"/><stop offset="0.5816" stop-color="#c8d830"/><stop offset="0.6017" stop-color="#e8e020"/><stop offset="0.6173" stop-color="#fae81a"/><stop offset="0.6330" stop-color="#fcd010"/><stop offset="0.6504" stop-color="#f8a020"/><stop offset="0.6704" stop-color="#f06028"/><stop offset="0.6905" stop-color="#ee3028"/><stop offset="0.7201" stop-color="#ee1c24"/><stop offset="0.7497" stop-color="#d81e28"/><stop offset="0.7810" stop-color="#a81e24"/><stop offset="0.8054" stop-color="#7a1010"/><stop offset="0.8193" stop-color="#581414"/><stop offset="0.8385" stop-color="#361416"/><stop offset="0.8663" stop-color="#2e1012"/><stop offset="0.9996" stop-color="#2e1010"/></linearGradient></defs><rect x="136" y="909.8" width="1148.5" height="41.2" fill="url(#cb)"/>
<g font-family='"Liberation Sans", sans-serif' font-size="39.5" fill="#000">
<text transform="translate(107.4,962.4) scale(1,1.07)" text-anchor="end" font-size="40">0</text>
<text transform="translate(107.4,891.3) scale(1,1.07)" text-anchor="end" font-size="40">5</text>
<path d="M763 0L583 0L583 1100C520 1040 330 930 222 895L222 1062C380 1130 560 1270 640 1409L763 1409Z" fill="#000" transform="translate(62.91,820.18) scale(0.01953,-0.02090)"/>
<text transform="translate(107.4,820.2) scale(1,1.07)" text-anchor="end" font-size="40">0</text>
<path d="M763 0L583 0L583 1100C520 1040 330 930 222 895L222 1062C380 1130 560 1270 640 1409L763 1409Z" fill="#000" transform="translate(62.91,749.07) scale(0.01953,-0.02090)"/>
<text transform="translate(107.4,749.1) scale(1,1.07)" text-anchor="end" font-size="40">5</text>
<text transform="translate(107.4,678.0) scale(1,1.07)" text-anchor="end" font-size="40">20</text>
<text transform="translate(107.4,606.9) scale(1,1.07)" text-anchor="end" font-size="40">25</text>
<text transform="translate(107.4,535.7) scale(1,1.07)" text-anchor="end" font-size="40">30</text>
<text transform="translate(107.4,464.6) scale(1,1.07)" text-anchor="end" font-size="40">35</text>
<text transform="translate(107.4,393.5) scale(1,1.07)" text-anchor="end" font-size="40">40</text>
<text transform="translate(107.4,322.4) scale(1,1.07)" text-anchor="end" font-size="40">45</text>
<text transform="translate(107.4,251.3) scale(1,1.07)" text-anchor="end" font-size="40">50</text>
<text transform="translate(107.4,180.2) scale(1,1.07)" text-anchor="end" font-size="40">55</text>
<text transform="translate(107.4,109.1) scale(1,1.07)" text-anchor="end" font-size="40">60</text>
<text transform="translate(107.4,38.0) scale(1,1.07)" text-anchor="end" font-size="40">65</text>
<text transform="translate(138.3,1011.2) scale(1,1.075)" text-anchor="middle">300</text>
<text transform="translate(252.9,1011.2) scale(1,1.075)" text-anchor="middle">350</text>
<text transform="translate(367.5,1011.2) scale(1,1.075)" text-anchor="middle">400</text>
<text transform="translate(482.1,1011.2) scale(1,1.075)" text-anchor="middle">450</text>
<text transform="translate(596.7,1011.2) scale(1,1.075)" text-anchor="middle">500</text>
<text transform="translate(711.3,1011.2) scale(1,1.075)" text-anchor="middle">550</text>
<text transform="translate(825.9,1011.2) scale(1,1.075)" text-anchor="middle">600</text>
<text transform="translate(940.5,1011.2) scale(1,1.075)" text-anchor="middle">650</text>
<text transform="translate(1055.1,1011.2) scale(1,1.075)" text-anchor="middle">700</text>
<text transform="translate(1169.7,1011.2) scale(1,1.075)" text-anchor="middle">750</text>
<text transform="translate(1284.3,1011.2) scale(1,1.075)" text-anchor="middle">800</text>
</g>
<text font-family='"Liberation Sans", sans-serif' font-size="48" transform="translate(43.8,651.3) rotate(-90) scale(1,1.035)" fill="#000">Reflectance(%)</text>
<text font-family='"Liberation Sans", sans-serif' font-size="48" transform="translate(502,1090.8) scale(1,1.035)" fill="#000">Wavenumber(cm<tspan font-size="33" dx="1.5" dy="-19.5">−</tspan></text>
<path d="M763 0L583 0L583 1100C520 1040 330 930 222 895L222 1062C380 1130 560 1270 640 1409L763 1409Z" fill="#000" transform="translate(886.60,1070.40) scale(0.01611,-0.01627)"/>
<text font-family='"Liberation Sans", sans-serif' font-size="48" transform="translate(906.9,1090.8) scale(1,1.035)" fill="#000">)</text>
<g font-family='"Liberation Sans", sans-serif' fill="#111">
<text x="568.6" y="148.4" font-size="44">520nm</text>
<text x="369.4" y="617" font-size="44">430nm</text>
<text transform="translate(762.2,417.5) scale(1,1.035)" font-size="49">605nm</text>
<text x="637.27" y="293.30" font-size="29.5">V</text>
<text x="656.72" y="281.80" font-size="20.5">3+</text>
<text x="686.76" y="293.30" font-size="29.5">d electrons:</text>
<text x="846.32" y="281.80" font-size="20.5">3</text>
<text x="859.74" y="293.30" font-size="29.5">T</text>
<path d="M763 0L583 0L583 1100C520 1040 330 930 222 895L222 1062C380 1130 560 1270 640 1409L763 1409Z" fill="#111" transform="translate(875.94,301.80) scale(0.01001,-0.01001)"/><text x="886.84" y="301.80" font-size="20.5">g</text>
<text x="926.72" y="281.80" font-size="20.5">3</text>
<text x="937.64" y="293.30" font-size="29.5">T</text>
<text x="955.97" y="301.80" font-size="20.5">2g</text>
<text x="986.15" y="293.30" font-size="29.5">and</text>
<path d="M763 0L583 0L583 1100C520 1040 330 930 222 895L222 1062C380 1130 560 1270 640 1409L763 1409Z" fill="#111" transform="translate(1043.34,281.80) scale(0.01001,-0.01001)"/>
<text x="1054.54" y="293.30" font-size="29.5">T</text>
<text x="1070.87" y="301.80" font-size="20.5">2g</text>
<text x="636.30" y="341.50" font-size="29.5">Cr</text>
<text x="668.62" y="330.00" font-size="20.5">3+</text>
<text x="698.48" y="341.50" font-size="29.5">3d</text>
<text x="730.02" y="330.00" font-size="20.5">3</text>
<text x="749.45" y="341.50" font-size="29.5">electrons:</text>
<text x="885.73" y="330.00" font-size="20.5">4</text>
<text x="896.94" y="341.50" font-size="29.5">A</text>
<text x="915.67" y="350.00" font-size="20.5">2g</text>
<text x="967.33" y="330.00" font-size="20.5">4</text>
<text x="976.94" y="341.50" font-size="29.5">T</text>
<text x="994.27" y="350.00" font-size="20.5">2g</text>
<text x="190.77" y="537.70" font-size="29.5">V</text>
<text x="208.22" y="526.20" font-size="20.5">3+</text>
<text x="238.66" y="537.70" font-size="29.5">d electron:</text>
<text x="383.32" y="526.20" font-size="20.5">3</text>
<text x="396.14" y="537.70" font-size="29.5">T</text>
<path d="M763 0L583 0L583 1100C520 1040 330 930 222 895L222 1062C380 1130 560 1270 640 1409L763 1409Z" fill="#111" transform="translate(412.54,546.20) scale(0.01001,-0.01001)"/><text x="423.44" y="546.20" font-size="20.5">g</text>
<text x="435.37" y="537.70" font-size="29.5">(3F)</text>
<text x="518.02" y="526.20" font-size="20.5">3</text>
<text x="532.64" y="537.70" font-size="29.5">T</text>
<path d="M763 0L583 0L583 1100C520 1040 330 930 222 895L222 1062C380 1130 560 1270 640 1409L763 1409Z" fill="#111" transform="translate(547.74,546.20) scale(0.01001,-0.01001)"/><text x="558.64" y="546.20" font-size="20.5">g</text>
<text x="568.67" y="537.70" font-size="29.5">(3P)</text>
<path d="M898.1 286.2H924.8000000000001 M917.4 281.5L925.6 286.2L917.4 290.9" stroke="#161616" stroke-width="1.45" fill="none" stroke-linejoin="miter"/>
<path d="M939.2 334.6H965.0 M957.5999999999999 329.90000000000003L965.8 334.6L957.5999999999999 339.3" stroke="#161616" stroke-width="1.45" fill="none" stroke-linejoin="miter"/>
<path d="M489.8 530.4H515.3000000000001 M507.90000000000003 525.6999999999999L516.1 530.4L507.90000000000003 535.1" stroke="#161616" stroke-width="1.45" fill="none" stroke-linejoin="miter"/>
</g>
</g>
</svg>
</div></body></html>
